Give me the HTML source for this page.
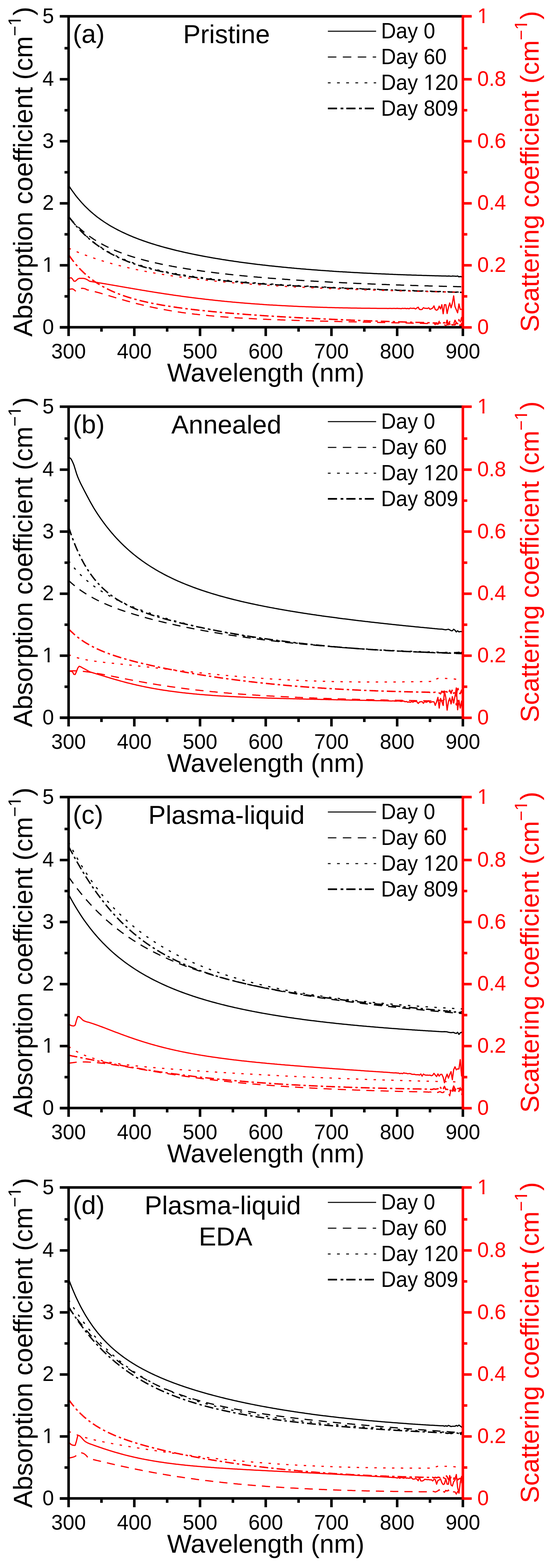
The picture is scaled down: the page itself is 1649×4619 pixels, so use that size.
<!DOCTYPE html>
<html><head><meta charset="utf-8"><title>Absorption and scattering coefficients</title>
<style>html,body{margin:0;padding:0;background:#fff;}svg{display:block;}</style></head>
<body><svg width="1649" height="4619" viewBox="0 0 1649 4619">
<rect width="1649" height="4619" fill="#fff"/>
<g transform="translate(0,0)">
<path d="M202.0,545.9 L205.9,551.9 L209.7,557.7 L213.6,563.2 L217.5,568.6 L221.3,573.8 L225.2,578.8 L229.1,583.6 L233.0,588.2 L236.8,592.7 L240.7,597.1 L244.6,601.3 L248.4,605.4 L252.3,609.3 L256.2,613.1 L260.1,616.8 L263.9,620.4 L267.8,623.9 L271.7,627.2 L275.5,630.5 L279.4,633.7 L283.3,636.8 L287.1,639.8 L291.0,642.7 L294.9,645.5 L298.8,648.3 L302.6,650.9 L306.5,653.6 L310.4,656.1 L314.2,658.6 L318.1,661.0 L322.0,663.4 L325.8,665.7 L329.7,667.9 L333.6,670.1 L337.4,672.2 L341.3,674.3 L345.2,676.4 L349.1,678.4 L352.9,680.3 L356.8,682.2 L360.7,684.1 L364.5,685.9 L368.4,687.7 L372.3,689.5 L376.1,691.2 L380.0,692.9 L383.9,694.6 L387.8,696.2 L391.6,697.8 L395.5,699.3 L399.4,700.9 L403.2,702.4 L407.1,703.8 L411.0,705.3 L414.9,706.7 L418.7,708.1 L422.6,709.5 L426.5,710.8 L430.3,712.2 L434.2,713.5 L438.1,714.8 L441.9,716.0 L445.8,717.3 L449.7,718.5 L453.6,719.7 L457.4,720.9 L461.3,722.1 L465.2,723.2 L469.0,724.3 L472.9,725.5 L476.8,726.6 L480.6,727.6 L484.5,728.7 L488.4,729.8 L492.2,730.8 L496.1,731.8 L500.0,732.8 L503.9,733.8 L507.7,734.8 L511.6,735.8 L515.5,736.7 L519.3,737.7 L523.2,738.6 L527.1,739.5 L531.0,740.4 L534.8,741.3 L538.7,742.2 L542.6,743.1 L546.4,744.0 L550.3,744.8 L554.2,745.6 L558.0,746.5 L561.9,747.3 L565.8,748.1 L569.6,748.9 L573.5,749.7 L577.4,750.5 L581.3,751.3 L585.1,752.0 L589.0,752.8 L592.9,753.5 L596.7,754.3 L600.6,755.0 L604.5,755.7 L608.4,756.4 L612.2,757.1 L616.1,757.8 L620.0,758.5 L623.8,759.2 L627.7,759.9 L631.6,760.5 L635.4,761.2 L639.3,761.8 L643.2,762.5 L647.0,763.1 L650.9,763.7 L654.8,764.4 L658.7,765.0 L662.5,765.6 L666.4,766.2 L670.3,766.8 L674.1,767.4 L678.0,767.9 L681.9,768.5 L685.8,769.1 L689.6,769.7 L693.5,770.2 L697.4,770.8 L701.2,771.3 L705.1,771.9 L709.0,772.4 L712.8,772.9 L716.7,773.4 L720.6,774.0 L724.5,774.5 L728.3,775.0 L732.2,775.5 L736.1,776.0 L739.9,776.5 L743.8,777.0 L747.7,777.4 L751.5,777.9 L755.4,778.4 L759.3,778.9 L763.1,779.3 L767.0,779.8 L770.9,780.2 L774.8,780.7 L778.6,781.1 L782.5,781.6 L786.4,782.0 L790.2,782.4 L794.1,782.9 L798.0,783.3 L801.9,783.7 L805.7,784.1 L809.6,784.5 L813.5,784.9 L817.3,785.3 L821.2,785.7 L825.1,786.1 L828.9,786.5 L832.8,786.9 L836.7,787.3 L840.5,787.6 L844.4,788.0 L848.3,788.4 L852.2,788.7 L856.0,789.1 L859.9,789.5 L863.8,789.8 L867.6,790.2 L871.5,790.5 L875.4,790.9 L879.2,791.2 L883.1,791.5 L887.0,791.9 L890.9,792.2 L894.7,792.5 L898.6,792.8 L902.5,793.2 L906.3,793.5 L910.2,793.8 L914.1,794.1 L918.0,794.4 L921.8,794.7 L925.7,795.0 L929.6,795.3 L933.4,795.6 L937.3,795.9 L941.2,796.2 L945.0,796.5 L948.9,796.7 L952.8,797.0 L956.6,797.3 L960.5,797.6 L964.4,797.8 L968.3,798.1 L972.1,798.4 L976.0,798.6 L979.9,798.9 L983.7,799.2 L987.6,799.4 L991.5,799.7 L995.4,799.9 L999.2,800.2 L1003.1,800.4 L1007.0,800.6 L1010.8,800.9 L1014.7,801.1 L1018.6,801.3 L1022.4,801.6 L1026.3,801.8 L1030.2,802.0 L1034.0,802.3 L1037.9,802.5 L1041.8,802.7 L1045.7,802.9 L1049.5,803.1 L1053.4,803.3 L1057.3,803.5 L1061.1,803.8 L1065.0,804.0 L1068.9,804.2 L1072.8,804.4 L1076.6,804.6 L1080.5,804.8 L1084.4,805.0 L1088.2,805.1 L1092.1,805.3 L1096.0,805.5 L1099.8,805.7 L1103.7,805.9 L1107.6,806.1 L1111.5,806.3 L1115.3,806.4 L1119.2,806.6 L1123.1,806.8 L1126.9,806.9 L1130.8,807.1 L1134.7,807.3 L1138.5,807.5 L1142.4,807.6 L1146.3,807.8 L1150.2,807.9 L1154.0,808.1 L1157.9,808.3 L1161.8,808.4 L1165.6,808.6 L1169.5,808.7 L1173.4,808.9 L1177.2,809.0 L1181.1,809.2 L1185.0,809.3 L1188.8,809.4 L1192.7,809.6 L1196.6,809.7 L1200.5,809.9 L1204.3,810.0 L1208.2,810.1 L1212.1,810.3 L1215.9,810.4 L1219.8,810.5 L1223.7,810.6 L1227.5,810.8 L1231.4,810.9 L1235.3,811.0 L1239.2,811.1 L1243.0,811.3 L1246.9,811.4 L1250.8,811.5 L1254.6,811.6 L1258.5,811.7 L1262.4,811.8 L1266.2,812.0 L1270.1,812.1 L1274.0,812.2 L1277.9,812.3 L1281.7,812.4 L1285.6,812.5 L1289.5,812.6 L1293.3,812.7 L1297.2,812.8 L1301.1,812.9 L1305.0,813.0 L1308.8,813.1 L1312.7,813.1 L1316.6,813.6 L1320.4,813.0 L1324.3,813.2 L1328.2,813.9 L1332.0,813.1 L1335.9,813.3 L1339.8,813.4 L1343.7,813.9 L1347.5,813.0 L1351.4,815.5 L1355.3,814.5 L1359.1,815.4 L1363.0,812.7" fill="none" stroke="#000" stroke-width="3.5" stroke-linejoin="round"/>
<path d="M202.0,637.8 L205.9,642.5 L209.7,647.0 L213.6,651.4 L217.5,655.6 L221.3,659.7 L225.2,663.6 L229.1,667.4 L233.0,671.1 L236.8,674.6 L240.7,678.0 L244.6,681.3 L248.4,684.5 L252.3,687.6 L256.2,690.7 L260.1,693.6 L263.9,696.4 L267.8,699.1 L271.7,701.8 L275.5,704.4 L279.4,706.9 L283.3,709.3 L287.1,711.6 L291.0,713.9 L294.9,716.2 L298.8,718.3 L302.6,720.4 L306.5,722.5 L310.4,724.5 L314.2,726.4 L318.1,728.3 L322.0,730.1 L325.8,731.9 L329.7,733.7 L333.6,735.4 L337.4,737.1 L341.3,738.7 L345.2,740.3 L349.1,741.8 L352.9,743.4 L356.8,744.8 L360.7,746.3 L364.5,747.7 L368.4,749.1 L372.3,750.4 L376.1,751.8 L380.0,753.1 L383.9,754.3 L387.8,755.6 L391.6,756.8 L395.5,758.0 L399.4,759.1 L403.2,760.3 L407.1,761.4 L411.0,762.5 L414.9,763.6 L418.7,764.6 L422.6,765.7 L426.5,766.7 L430.3,767.7 L434.2,768.7 L438.1,769.7 L441.9,770.6 L445.8,771.5 L449.7,772.5 L453.6,773.4 L457.4,774.2 L461.3,775.1 L465.2,776.0 L469.0,776.8 L472.9,777.7 L476.8,778.5 L480.6,779.3 L484.5,780.1 L488.4,780.8 L492.2,781.6 L496.1,782.4 L500.0,783.1 L503.9,783.8 L507.7,784.6 L511.6,785.3 L515.5,786.0 L519.3,786.7 L523.2,787.4 L527.1,788.0 L531.0,788.7 L534.8,789.3 L538.7,790.0 L542.6,790.6 L546.4,791.3 L550.3,791.9 L554.2,792.5 L558.0,793.1 L561.9,793.7 L565.8,794.3 L569.6,794.9 L573.5,795.4 L577.4,796.0 L581.3,796.6 L585.1,797.1 L589.0,797.6 L592.9,798.2 L596.7,798.7 L600.6,799.2 L604.5,799.8 L608.4,800.3 L612.2,800.8 L616.1,801.3 L620.0,801.8 L623.8,802.3 L627.7,802.8 L631.6,803.2 L635.4,803.7 L639.3,804.2 L643.2,804.6 L647.0,805.1 L650.9,805.5 L654.8,806.0 L658.7,806.4 L662.5,806.9 L666.4,807.3 L670.3,807.7 L674.1,808.2 L678.0,808.6 L681.9,809.0 L685.8,809.4 L689.6,809.8 L693.5,810.2 L697.4,810.6 L701.2,811.0 L705.1,811.4 L709.0,811.8 L712.8,812.2 L716.7,812.5 L720.6,812.9 L724.5,813.3 L728.3,813.7 L732.2,814.0 L736.1,814.4 L739.9,814.7 L743.8,815.1 L747.7,815.4 L751.5,815.8 L755.4,816.1 L759.3,816.5 L763.1,816.8 L767.0,817.1 L770.9,817.5 L774.8,817.8 L778.6,818.1 L782.5,818.4 L786.4,818.7 L790.2,819.0 L794.1,819.4 L798.0,819.7 L801.9,820.0 L805.7,820.3 L809.6,820.6 L813.5,820.9 L817.3,821.2 L821.2,821.5 L825.1,821.7 L828.9,822.0 L832.8,822.3 L836.7,822.6 L840.5,822.9 L844.4,823.1 L848.3,823.4 L852.2,823.7 L856.0,823.9 L859.9,824.2 L863.8,824.5 L867.6,824.7 L871.5,825.0 L875.4,825.3 L879.2,825.5 L883.1,825.8 L887.0,826.0 L890.9,826.3 L894.7,826.5 L898.6,826.7 L902.5,827.0 L906.3,827.2 L910.2,827.5 L914.1,827.7 L918.0,827.9 L921.8,828.1 L925.7,828.4 L929.6,828.6 L933.4,828.8 L937.3,829.0 L941.2,829.3 L945.0,829.5 L948.9,829.7 L952.8,829.9 L956.6,830.1 L960.5,830.3 L964.4,830.5 L968.3,830.7 L972.1,831.0 L976.0,831.2 L979.9,831.4 L983.7,831.6 L987.6,831.8 L991.5,832.0 L995.4,832.1 L999.2,832.3 L1003.1,832.5 L1007.0,832.7 L1010.8,832.9 L1014.7,833.1 L1018.6,833.3 L1022.4,833.5 L1026.3,833.6 L1030.2,833.8 L1034.0,834.0 L1037.9,834.2 L1041.8,834.4 L1045.7,834.5 L1049.5,834.7 L1053.4,834.9 L1057.3,835.0 L1061.1,835.2 L1065.0,835.4 L1068.9,835.5 L1072.8,835.7 L1076.6,835.9 L1080.5,836.0 L1084.4,836.2 L1088.2,836.3 L1092.1,836.5 L1096.0,836.7 L1099.8,836.8 L1103.7,837.0 L1107.6,837.1 L1111.5,837.3 L1115.3,837.4 L1119.2,837.6 L1123.1,837.7 L1126.9,837.9 L1130.8,838.0 L1134.7,838.1 L1138.5,838.3 L1142.4,838.4 L1146.3,838.6 L1150.2,838.7 L1154.0,838.8 L1157.9,839.0 L1161.8,839.1 L1165.6,839.2 L1169.5,839.4 L1173.4,839.5 L1177.2,839.6 L1181.1,839.8 L1185.0,839.9 L1188.8,840.0 L1192.7,840.2 L1196.6,840.3 L1200.5,840.4 L1204.3,840.5 L1208.2,840.6 L1212.1,840.8 L1215.9,840.9 L1219.8,841.0 L1223.7,841.1 L1227.5,841.2 L1231.4,841.4 L1235.3,841.5 L1239.2,841.6 L1243.0,841.7 L1246.9,841.8 L1250.8,841.9 L1254.6,842.0 L1258.5,842.1 L1262.4,842.3 L1266.2,842.4 L1270.1,842.5 L1274.0,842.6 L1277.9,842.7 L1281.7,842.8 L1285.6,842.9 L1289.5,843.0 L1293.3,843.1 L1297.2,843.2 L1301.1,843.3 L1305.0,843.4 L1308.8,843.5 L1312.7,843.6 L1316.6,843.7 L1320.4,843.8 L1324.3,843.9 L1328.2,844.0 L1332.0,844.1 L1335.9,844.1 L1339.8,844.2 L1343.7,844.3 L1347.5,844.4 L1351.4,844.5 L1355.3,844.6 L1359.1,844.7 L1363.0,844.8" fill="none" stroke="#000" stroke-width="3.5" stroke-linejoin="round" stroke-dasharray="24 18"/>
<path d="M202.0,637.6 L205.9,642.8 L209.7,647.8 L213.6,652.7 L217.5,657.4 L221.3,661.9 L225.2,666.3 L229.1,670.6 L233.0,674.8 L236.8,678.8 L240.7,682.7 L244.6,686.5 L248.4,690.2 L252.3,693.8 L256.2,697.2 L260.1,700.6 L263.9,703.9 L267.8,707.0 L271.7,710.1 L275.5,713.1 L279.4,716.0 L283.3,718.9 L287.1,721.6 L291.0,724.3 L294.9,726.9 L298.8,729.5 L302.6,731.9 L306.5,734.3 L310.4,736.7 L314.2,738.9 L318.1,741.2 L322.0,743.3 L325.8,745.4 L329.7,747.5 L333.6,749.5 L337.4,751.4 L341.3,753.3 L345.2,755.2 L349.1,757.0 L352.9,758.7 L356.8,760.4 L360.7,762.1 L364.5,763.7 L368.4,765.3 L372.3,766.9 L376.1,768.4 L380.0,769.9 L383.9,771.3 L387.8,772.8 L391.6,774.1 L395.5,775.5 L399.4,776.8 L403.2,778.1 L407.1,779.4 L411.0,780.6 L414.9,781.8 L418.7,783.0 L422.6,784.1 L426.5,785.2 L430.3,786.4 L434.2,787.4 L438.1,788.5 L441.9,789.5 L445.8,790.5 L449.7,791.5 L453.6,792.5 L457.4,793.4 L461.3,794.4 L465.2,795.3 L469.0,796.2 L472.9,797.1 L476.8,797.9 L480.6,798.8 L484.5,799.6 L488.4,800.4 L492.2,801.2 L496.1,802.0 L500.0,802.7 L503.9,803.5 L507.7,804.2 L511.6,804.9 L515.5,805.7 L519.3,806.3 L523.2,807.0 L527.1,807.7 L531.0,808.4 L534.8,809.0 L538.7,809.6 L542.6,810.3 L546.4,810.9 L550.3,811.5 L554.2,812.1 L558.0,812.7 L561.9,813.2 L565.8,813.8 L569.6,814.4 L573.5,814.9 L577.4,815.5 L581.3,816.0 L585.1,816.5 L589.0,817.0 L592.9,817.5 L596.7,818.0 L600.6,818.5 L604.5,819.0 L608.4,819.5 L612.2,819.9 L616.1,820.4 L620.0,820.8 L623.8,821.3 L627.7,821.7 L631.6,822.2 L635.4,822.6 L639.3,823.0 L643.2,823.4 L647.0,823.9 L650.9,824.3 L654.8,824.7 L658.7,825.1 L662.5,825.4 L666.4,825.8 L670.3,826.2 L674.1,826.6 L678.0,826.9 L681.9,827.3 L685.8,827.7 L689.6,828.0 L693.5,828.4 L697.4,828.7 L701.2,829.1 L705.1,829.4 L709.0,829.7 L712.8,830.1 L716.7,830.4 L720.6,830.7 L724.5,831.0 L728.3,831.4 L732.2,831.7 L736.1,832.0 L739.9,832.3 L743.8,832.6 L747.7,832.9 L751.5,833.2 L755.4,833.5 L759.3,833.8 L763.1,834.0 L767.0,834.3 L770.9,834.6 L774.8,834.9 L778.6,835.2 L782.5,835.4 L786.4,835.7 L790.2,836.0 L794.1,836.2 L798.0,836.5 L801.9,836.8 L805.7,837.0 L809.6,837.3 L813.5,837.5 L817.3,837.8 L821.2,838.0 L825.1,838.3 L828.9,838.5 L832.8,838.7 L836.7,839.0 L840.5,839.2 L844.4,839.4 L848.3,839.7 L852.2,839.9 L856.0,840.1 L859.9,840.4 L863.8,840.6 L867.6,840.8 L871.5,841.0 L875.4,841.3 L879.2,841.5 L883.1,841.7 L887.0,841.9 L890.9,842.1 L894.7,842.3 L898.6,842.5 L902.5,842.7 L906.3,842.9 L910.2,843.2 L914.1,843.4 L918.0,843.6 L921.8,843.8 L925.7,844.0 L929.6,844.2 L933.4,844.4 L937.3,844.5 L941.2,844.7 L945.0,844.9 L948.9,845.1 L952.8,845.3 L956.6,845.5 L960.5,845.7 L964.4,845.9 L968.3,846.1 L972.1,846.2 L976.0,846.4 L979.9,846.6 L983.7,846.8 L987.6,847.0 L991.5,847.1 L995.4,847.3 L999.2,847.5 L1003.1,847.7 L1007.0,847.8 L1010.8,848.0 L1014.7,848.2 L1018.6,848.4 L1022.4,848.5 L1026.3,848.7 L1030.2,848.9 L1034.0,849.0 L1037.9,849.2 L1041.8,849.4 L1045.7,849.5 L1049.5,849.7 L1053.4,849.9 L1057.3,850.0 L1061.1,850.2 L1065.0,850.3 L1068.9,850.5 L1072.8,850.7 L1076.6,850.8 L1080.5,851.0 L1084.4,851.1 L1088.2,851.3 L1092.1,851.4 L1096.0,851.6 L1099.8,851.7 L1103.7,851.9 L1107.6,852.0 L1111.5,852.2 L1115.3,852.3 L1119.2,852.5 L1123.1,852.6 L1126.9,852.8 L1130.8,852.9 L1134.7,853.1 L1138.5,853.2 L1142.4,853.4 L1146.3,853.5 L1150.2,853.7 L1154.0,853.8 L1157.9,853.9 L1161.8,854.1 L1165.6,854.2 L1169.5,854.4 L1173.4,854.5 L1177.2,854.7 L1181.1,854.8 L1185.0,854.9 L1188.8,855.1 L1192.7,855.2 L1196.6,855.3 L1200.5,855.5 L1204.3,855.6 L1208.2,855.7 L1212.1,855.9 L1215.9,856.0 L1219.8,856.1 L1223.7,856.3 L1227.5,856.4 L1231.4,856.5 L1235.3,856.7 L1239.2,856.8 L1243.0,856.9 L1246.9,857.1 L1250.8,857.2 L1254.6,857.3 L1258.5,857.5 L1262.4,857.6 L1266.2,857.7 L1270.1,857.8 L1274.0,858.0 L1277.9,858.1 L1281.7,858.2 L1285.6,858.3 L1289.5,858.5 L1293.3,858.6 L1297.2,858.7 L1301.1,858.8 L1305.0,859.0 L1308.8,859.1 L1312.7,859.2 L1316.6,859.3 L1320.4,859.4 L1324.3,859.6 L1328.2,859.7 L1332.0,859.8 L1335.9,859.9 L1339.8,860.0 L1343.7,860.2 L1347.5,860.3 L1351.4,860.4 L1355.3,860.5 L1359.1,860.6 L1363.0,860.8" fill="none" stroke="#000" stroke-width="3.5" stroke-linejoin="round" stroke-dasharray="7 19"/>
<path d="M202.0,637.5 L205.9,642.7 L209.7,647.8 L213.6,652.7 L217.5,657.5 L221.3,662.1 L225.2,666.6 L229.1,670.9 L233.0,675.1 L236.8,679.2 L240.7,683.2 L244.6,687.0 L248.4,690.8 L252.3,694.4 L256.2,697.9 L260.1,701.3 L263.9,704.7 L267.8,707.9 L271.7,711.0 L275.5,714.1 L279.4,717.0 L283.3,719.9 L287.1,722.7 L291.0,725.5 L294.9,728.1 L298.8,730.7 L302.6,733.2 L306.5,735.6 L310.4,738.0 L314.2,740.3 L318.1,742.6 L322.0,744.8 L325.8,746.9 L329.7,749.0 L333.6,751.0 L337.4,753.0 L341.3,754.9 L345.2,756.8 L349.1,758.6 L352.9,760.4 L356.8,762.2 L360.7,763.9 L364.5,765.5 L368.4,767.1 L372.3,768.7 L376.1,770.3 L380.0,771.8 L383.9,773.2 L387.8,774.7 L391.6,776.1 L395.5,777.4 L399.4,778.8 L403.2,780.1 L407.1,781.3 L411.0,782.6 L414.9,783.8 L418.7,785.0 L422.6,786.2 L426.5,787.3 L430.3,788.4 L434.2,789.5 L438.1,790.6 L441.9,791.6 L445.8,792.6 L449.7,793.6 L453.6,794.6 L457.4,795.5 L461.3,796.5 L465.2,797.4 L469.0,798.3 L472.9,799.2 L476.8,800.0 L480.6,800.9 L484.5,801.7 L488.4,802.5 L492.2,803.3 L496.1,804.1 L500.0,804.9 L503.9,805.6 L507.7,806.3 L511.6,807.1 L515.5,807.8 L519.3,808.5 L523.2,809.2 L527.1,809.8 L531.0,810.5 L534.8,811.1 L538.7,811.8 L542.6,812.4 L546.4,813.0 L550.3,813.6 L554.2,814.2 L558.0,814.8 L561.9,815.3 L565.8,815.9 L569.6,816.4 L573.5,817.0 L577.4,817.5 L581.3,818.0 L585.1,818.5 L589.0,819.1 L592.9,819.5 L596.7,820.0 L600.6,820.5 L604.5,821.0 L608.4,821.5 L612.2,821.9 L616.1,822.4 L620.0,822.8 L623.8,823.3 L627.7,823.7 L631.6,824.1 L635.4,824.5 L639.3,825.0 L643.2,825.4 L647.0,825.8 L650.9,826.2 L654.8,826.6 L658.7,826.9 L662.5,827.3 L666.4,827.7 L670.3,828.1 L674.1,828.4 L678.0,828.8 L681.9,829.1 L685.8,829.5 L689.6,829.8 L693.5,830.2 L697.4,830.5 L701.2,830.8 L705.1,831.2 L709.0,831.5 L712.8,831.8 L716.7,832.1 L720.6,832.4 L724.5,832.8 L728.3,833.1 L732.2,833.4 L736.1,833.7 L739.9,834.0 L743.8,834.3 L747.7,834.5 L751.5,834.8 L755.4,835.1 L759.3,835.4 L763.1,835.7 L767.0,835.9 L770.9,836.2 L774.8,836.5 L778.6,836.7 L782.5,837.0 L786.4,837.3 L790.2,837.5 L794.1,837.8 L798.0,838.0 L801.9,838.3 L805.7,838.5 L809.6,838.8 L813.5,839.0 L817.3,839.2 L821.2,839.5 L825.1,839.7 L828.9,839.9 L832.8,840.2 L836.7,840.4 L840.5,840.6 L844.4,840.9 L848.3,841.1 L852.2,841.3 L856.0,841.5 L859.9,841.7 L863.8,841.9 L867.6,842.2 L871.5,842.4 L875.4,842.6 L879.2,842.8 L883.1,843.0 L887.0,843.2 L890.9,843.4 L894.7,843.6 L898.6,843.8 L902.5,844.0 L906.3,844.2 L910.2,844.4 L914.1,844.6 L918.0,844.8 L921.8,845.0 L925.7,845.2 L929.6,845.4 L933.4,845.5 L937.3,845.7 L941.2,845.9 L945.0,846.1 L948.9,846.3 L952.8,846.5 L956.6,846.6 L960.5,846.8 L964.4,847.0 L968.3,847.2 L972.1,847.4 L976.0,847.5 L979.9,847.7 L983.7,847.9 L987.6,848.0 L991.5,848.2 L995.4,848.4 L999.2,848.6 L1003.1,848.7 L1007.0,848.9 L1010.8,849.1 L1014.7,849.2 L1018.6,849.4 L1022.4,849.5 L1026.3,849.7 L1030.2,849.9 L1034.0,850.0 L1037.9,850.2 L1041.8,850.3 L1045.7,850.5 L1049.5,850.7 L1053.4,850.8 L1057.3,851.0 L1061.1,851.1 L1065.0,851.3 L1068.9,851.4 L1072.8,851.6 L1076.6,851.7 L1080.5,851.9 L1084.4,852.0 L1088.2,852.2 L1092.1,852.3 L1096.0,852.5 L1099.8,852.6 L1103.7,852.8 L1107.6,852.9 L1111.5,853.1 L1115.3,853.2 L1119.2,853.3 L1123.1,853.5 L1126.9,853.6 L1130.8,853.8 L1134.7,853.9 L1138.5,854.1 L1142.4,854.2 L1146.3,854.3 L1150.2,854.5 L1154.0,854.6 L1157.9,854.7 L1161.8,854.9 L1165.6,855.0 L1169.5,855.2 L1173.4,855.3 L1177.2,855.4 L1181.1,855.6 L1185.0,855.7 L1188.8,855.8 L1192.7,856.0 L1196.6,856.1 L1200.5,856.2 L1204.3,856.4 L1208.2,856.5 L1212.1,856.6 L1215.9,856.7 L1219.8,856.9 L1223.7,857.0 L1227.5,857.1 L1231.4,857.3 L1235.3,857.4 L1239.2,857.5 L1243.0,857.6 L1246.9,857.8 L1250.8,857.9 L1254.6,858.0 L1258.5,858.1 L1262.4,858.3 L1266.2,858.4 L1270.1,858.5 L1274.0,858.6 L1277.9,858.8 L1281.7,858.9 L1285.6,859.0 L1289.5,859.1 L1293.3,859.2 L1297.2,859.4 L1301.1,859.5 L1305.0,859.6 L1308.8,859.7 L1312.7,859.8 L1316.6,860.0 L1320.4,860.1 L1324.3,860.2 L1328.2,860.3 L1332.0,860.4 L1335.9,860.5 L1339.8,860.7 L1343.7,860.8 L1347.5,860.9 L1351.4,861.0 L1355.3,861.1 L1359.1,861.2 L1363.0,861.4" fill="none" stroke="#000" stroke-width="4.1" stroke-linejoin="round" stroke-dasharray="26 9 7 9"/>
<path d="M202.0,821.9 L205.9,818.9 L209.7,818.2 L213.6,822.1 L217.5,828.0 L221.3,828.7 L225.2,825.6 L229.1,821.8 L233.0,820.0 L236.8,820.0 L240.7,820.0 L244.6,820.0 L248.4,820.5 L252.3,821.7 L256.2,823.6 L260.1,825.9 L263.9,828.6 L267.8,829.2 L271.7,829.8 L275.5,830.4 L279.4,831.1 L283.3,831.7 L287.1,832.3 L291.0,833.0 L294.9,833.6 L298.8,834.3 L302.6,834.9 L306.5,835.6 L310.4,836.2 L314.2,836.9 L318.1,837.6 L322.0,838.2 L325.8,838.9 L329.7,839.6 L333.6,840.2 L337.4,840.9 L341.3,841.6 L345.2,842.2 L349.1,842.9 L352.9,843.6 L356.8,844.3 L360.7,844.9 L364.5,845.6 L368.4,846.3 L372.3,846.9 L376.1,847.6 L380.0,848.3 L383.9,848.9 L387.8,849.6 L391.6,850.3 L395.5,850.9 L399.4,851.6 L403.2,852.2 L407.1,852.9 L411.0,853.6 L414.9,854.2 L418.7,854.9 L422.6,855.5 L426.5,856.1 L430.3,856.8 L434.2,857.4 L438.1,858.1 L441.9,858.7 L445.8,859.3 L449.7,859.9 L453.6,860.6 L457.4,861.2 L461.3,861.8 L465.2,862.4 L469.0,863.0 L472.9,863.6 L476.8,864.2 L480.6,864.8 L484.5,865.4 L488.4,866.0 L492.2,866.5 L496.1,867.1 L500.0,867.7 L503.9,868.3 L507.7,868.8 L511.6,869.4 L515.5,869.9 L519.3,870.5 L523.2,871.0 L527.1,871.6 L531.0,872.1 L534.8,872.7 L538.7,873.2 L542.6,873.7 L546.4,874.2 L550.3,874.7 L554.2,875.2 L558.0,875.8 L561.9,876.3 L565.8,876.8 L569.6,877.2 L573.5,877.7 L577.4,878.2 L581.3,878.7 L585.1,879.2 L589.0,879.6 L592.9,880.1 L596.7,880.6 L600.6,881.0 L604.5,881.5 L608.4,881.9 L612.2,882.3 L616.1,882.8 L620.0,883.2 L623.8,883.6 L627.7,884.1 L631.6,884.5 L635.4,884.9 L639.3,885.3 L643.2,885.7 L647.0,886.1 L650.9,886.5 L654.8,886.9 L658.7,887.3 L662.5,887.7 L666.4,888.0 L670.3,888.4 L674.1,888.8 L678.0,889.1 L681.9,889.5 L685.8,889.9 L689.6,890.2 L693.5,890.6 L697.4,890.9 L701.2,891.2 L705.1,891.6 L709.0,891.9 L712.8,892.2 L716.7,892.6 L720.6,892.9 L724.5,893.2 L728.3,893.5 L732.2,893.8 L736.1,894.1 L739.9,894.4 L743.8,894.7 L747.7,895.0 L751.5,895.3 L755.4,895.5 L759.3,895.8 L763.1,896.1 L767.0,896.4 L770.9,896.6 L774.8,896.9 L778.6,897.2 L782.5,897.4 L786.4,897.7 L790.2,897.9 L794.1,898.2 L798.0,898.4 L801.9,898.6 L805.7,898.9 L809.6,899.1 L813.5,899.3 L817.3,899.6 L821.2,899.8 L825.1,900.0 L828.9,900.2 L832.8,900.4 L836.7,900.6 L840.5,900.8 L844.4,901.0 L848.3,901.2 L852.2,901.4 L856.0,901.6 L859.9,901.8 L863.8,902.0 L867.6,902.2 L871.5,902.3 L875.4,902.5 L879.2,902.7 L883.1,902.9 L887.0,903.0 L890.9,903.2 L894.7,903.3 L898.6,903.5 L902.5,903.7 L906.3,903.8 L910.2,904.0 L914.1,904.1 L918.0,904.2 L921.8,904.4 L925.7,904.5 L929.6,904.7 L933.4,904.8 L937.3,904.9 L941.2,905.0 L945.0,905.2 L948.9,905.3 L952.8,905.4 L956.6,905.5 L960.5,905.6 L964.4,905.8 L968.3,905.9 L972.1,906.0 L976.0,906.1 L979.9,906.2 L983.7,906.3 L987.6,906.4 L991.5,906.5 L995.4,906.6 L999.2,906.7 L1003.1,906.7 L1007.0,906.8 L1010.8,906.9 L1014.7,907.0 L1018.6,907.1 L1022.4,907.1 L1026.3,907.2 L1030.2,907.3 L1034.0,907.4 L1037.9,907.4 L1041.8,907.5 L1045.7,907.6 L1049.5,907.6 L1053.4,907.7 L1057.3,907.7 L1061.1,907.8 L1065.0,907.9 L1068.9,907.9 L1072.8,908.0 L1076.6,908.0 L1080.5,908.1 L1084.4,908.1 L1088.2,908.1 L1092.1,908.2 L1096.0,908.2 L1099.8,908.3 L1103.7,908.3 L1107.6,908.3 L1111.5,908.4 L1115.3,908.4 L1119.2,908.4 L1123.1,908.4 L1126.9,908.5 L1130.8,908.5 L1134.7,908.5 L1138.5,908.6 L1142.4,908.7 L1146.3,908.4 L1150.2,908.4 L1154.0,908.7 L1157.9,908.4 L1161.8,908.5 L1165.6,908.8 L1169.5,908.2 L1173.4,908.8 L1177.2,908.8 L1181.1,909.2 L1185.0,908.3 L1188.8,908.7 L1192.7,908.2 L1196.6,909.2 L1200.5,908.5 L1204.3,909.6 L1208.2,907.6 L1212.1,908.4 L1215.9,908.2 L1219.8,908.0 L1223.7,910.2 L1227.5,907.3 L1231.4,904.9 L1235.3,911.6 L1239.2,912.0 L1243.0,911.4 L1246.9,906.3 L1250.8,908.3 L1254.6,908.2 L1258.5,908.7 L1262.4,906.7 L1266.2,911.2 L1270.1,909.6 L1274.0,907.5 L1277.9,901.1 L1281.7,911.8 L1285.6,913.9 L1289.5,911.5 L1293.3,901.9 L1297.2,909.9 L1301.1,897.6 L1305.0,924.3 L1308.8,897.4 L1312.7,897.5 L1316.6,923.6 L1320.4,906.1 L1324.3,892.5 L1328.2,906.7 L1332.0,893.5 L1335.9,871.6 L1339.8,903.3 L1343.7,912.5 L1347.5,921.5 L1351.4,895.3 L1355.3,911.5 L1359.1,911.2 L1363.0,909.8" fill="none" stroke="#ff0000" stroke-width="3.5" stroke-linejoin="round"/>
<path d="M202.0,853.7 L205.9,851.9 L209.7,851.2 L213.6,851.1 L217.5,853.0 L221.3,856.5 L225.2,858.4 L229.1,857.0 L233.0,853.8 L236.8,850.7 L240.7,849.3 L244.6,849.4 L248.4,850.1 L252.3,851.4 L256.2,853.7 L260.1,854.5 L263.9,855.3 L267.8,856.2 L271.7,857.2 L275.5,858.2 L279.4,859.2 L283.3,860.2 L287.1,861.3 L291.0,862.3 L294.9,863.4 L298.8,864.6 L302.6,865.7 L306.5,866.8 L310.4,868.0 L314.2,869.1 L318.1,870.3 L322.0,871.4 L325.8,872.6 L329.7,873.8 L333.6,874.9 L337.4,876.1 L341.3,877.2 L345.2,878.4 L349.1,879.5 L352.9,880.7 L356.8,881.8 L360.7,882.9 L364.5,884.0 L368.4,885.1 L372.3,886.2 L376.1,887.3 L380.0,888.3 L383.9,889.4 L387.8,890.4 L391.6,891.5 L395.5,892.5 L399.4,893.5 L403.2,894.5 L407.1,895.5 L411.0,896.4 L414.9,897.4 L418.7,898.3 L422.6,899.3 L426.5,900.2 L430.3,901.1 L434.2,902.0 L438.1,902.8 L441.9,903.7 L445.8,904.5 L449.7,905.4 L453.6,906.2 L457.4,907.0 L461.3,907.8 L465.2,908.5 L469.0,909.3 L472.9,910.0 L476.8,910.8 L480.6,911.5 L484.5,912.2 L488.4,912.9 L492.2,913.6 L496.1,914.3 L500.0,914.9 L503.9,915.6 L507.7,916.2 L511.6,916.8 L515.5,917.5 L519.3,918.1 L523.2,918.6 L527.1,919.2 L531.0,919.8 L534.8,920.4 L538.7,920.9 L542.6,921.4 L546.4,922.0 L550.3,922.5 L554.2,923.0 L558.0,923.5 L561.9,924.0 L565.8,924.4 L569.6,924.9 L573.5,925.4 L577.4,925.8 L581.3,926.3 L585.1,926.7 L589.0,927.1 L592.9,927.5 L596.7,927.9 L600.6,928.3 L604.5,928.7 L608.4,929.1 L612.2,929.5 L616.1,929.9 L620.0,930.2 L623.8,930.6 L627.7,930.9 L631.6,931.3 L635.4,931.6 L639.3,931.9 L643.2,932.3 L647.0,932.6 L650.9,932.9 L654.8,933.2 L658.7,933.5 L662.5,933.8 L666.4,934.1 L670.3,934.3 L674.1,934.6 L678.0,934.9 L681.9,935.2 L685.8,935.4 L689.6,935.7 L693.5,935.9 L697.4,936.2 L701.2,936.4 L705.1,936.7 L709.0,936.9 L712.8,937.1 L716.7,937.3 L720.6,937.6 L724.5,937.8 L728.3,938.0 L732.2,938.2 L736.1,938.4 L739.9,938.6 L743.8,938.8 L747.7,939.0 L751.5,939.2 L755.4,939.4 L759.3,939.6 L763.1,939.7 L767.0,939.9 L770.9,940.1 L774.8,940.3 L778.6,940.4 L782.5,940.6 L786.4,940.8 L790.2,940.9 L794.1,941.1 L798.0,941.2 L801.9,941.4 L805.7,941.5 L809.6,941.7 L813.5,941.8 L817.3,942.0 L821.2,942.1 L825.1,942.3 L828.9,942.4 L832.8,942.5 L836.7,942.7 L840.5,942.8 L844.4,942.9 L848.3,943.1 L852.2,943.2 L856.0,943.3 L859.9,943.4 L863.8,943.6 L867.6,943.7 L871.5,943.8 L875.4,943.9 L879.2,944.0 L883.1,944.2 L887.0,944.3 L890.9,944.4 L894.7,944.5 L898.6,944.6 L902.5,944.7 L906.3,944.8 L910.2,944.9 L914.1,945.0 L918.0,945.1 L921.8,945.2 L925.7,945.4 L929.6,945.5 L933.4,945.6 L937.3,945.7 L941.2,945.8 L945.0,945.9 L948.9,946.0 L952.8,946.0 L956.6,946.1 L960.5,946.2 L964.4,946.3 L968.3,946.4 L972.1,946.5 L976.0,946.6 L979.9,946.7 L983.7,946.8 L987.6,946.9 L991.5,947.0 L995.4,947.1 L999.2,947.2 L1003.1,947.3 L1007.0,947.4 L1010.8,947.4 L1014.7,947.5 L1018.6,947.6 L1022.4,947.7 L1026.3,947.8 L1030.2,947.9 L1034.0,948.0 L1037.9,948.1 L1041.8,948.1 L1045.7,948.2 L1049.5,948.3 L1053.4,948.4 L1057.3,948.5 L1061.1,948.6 L1065.0,948.7 L1068.9,948.8 L1072.8,948.8 L1076.6,948.9 L1080.5,949.0 L1084.4,949.1 L1088.2,949.2 L1092.1,949.3 L1096.0,949.3 L1099.8,949.4 L1103.7,949.5 L1107.6,949.6 L1111.5,949.7 L1115.3,949.8 L1119.2,949.9 L1123.1,949.9 L1126.9,950.0 L1130.8,950.1 L1134.7,950.2 L1138.5,950.3 L1142.4,950.4 L1146.3,950.4 L1150.2,950.5 L1154.0,950.6 L1157.9,950.7 L1161.8,950.8 L1165.6,950.9 L1169.5,951.0 L1173.4,951.0 L1177.2,951.1 L1181.1,951.2 L1185.0,951.3 L1188.8,951.4 L1192.7,951.5 L1196.6,951.6 L1200.5,951.6 L1204.3,951.7 L1208.2,951.8 L1212.1,951.9 L1215.9,952.0 L1219.8,952.1 L1223.7,952.2 L1227.5,952.3 L1231.4,952.3 L1235.3,952.4 L1239.2,952.5 L1243.0,952.6 L1246.9,952.7 L1250.8,952.8 L1254.6,952.9 L1258.5,952.9 L1262.4,953.4 L1266.2,953.0 L1270.1,953.5 L1274.0,953.6 L1277.9,953.6 L1281.7,956.0 L1285.6,953.9 L1289.5,955.3 L1293.3,946.4 L1297.2,953.3 L1301.1,955.0 L1305.0,955.0 L1308.8,956.7 L1312.7,958.7 L1316.6,956.1 L1320.4,952.0 L1324.3,955.8 L1328.2,948.8 L1332.0,956.0 L1335.9,954.6 L1339.8,943.2 L1343.7,950.5 L1347.5,959.4 L1351.4,956.8 L1355.3,950.0 L1359.1,935.3 L1363.0,958.4" fill="none" stroke="#ff0000" stroke-width="3.5" stroke-linejoin="round" stroke-dasharray="24 18"/>
<path d="M202.0,731.1 L205.9,732.8 L209.7,734.5 L213.6,736.2 L217.5,737.9 L221.3,739.5 L225.2,741.2 L229.1,742.8 L233.0,744.3 L236.8,745.9 L240.7,747.4 L244.6,748.9 L248.4,750.4 L252.3,751.8 L256.2,753.2 L260.1,754.6 L263.9,756.0 L267.8,757.4 L271.7,758.7 L275.5,760.1 L279.4,761.4 L283.3,762.7 L287.1,763.9 L291.0,765.2 L294.9,766.4 L298.8,767.6 L302.6,768.8 L306.5,770.0 L310.4,771.1 L314.2,772.3 L318.1,773.4 L322.0,774.5 L325.8,775.6 L329.7,776.7 L333.6,777.7 L337.4,778.8 L341.3,779.8 L345.2,780.8 L349.1,781.8 L352.9,782.8 L356.8,783.8 L360.7,784.7 L364.5,785.7 L368.4,786.6 L372.3,787.5 L376.1,788.4 L380.0,789.3 L383.9,790.2 L387.8,791.1 L391.6,791.9 L395.5,792.7 L399.4,793.6 L403.2,794.4 L407.1,795.2 L411.0,796.0 L414.9,796.8 L418.7,797.6 L422.6,798.3 L426.5,799.1 L430.3,799.8 L434.2,800.6 L438.1,801.3 L441.9,802.0 L445.8,802.7 L449.7,803.4 L453.6,804.1 L457.4,804.8 L461.3,805.4 L465.2,806.1 L469.0,806.7 L472.9,807.4 L476.8,808.0 L480.6,808.6 L484.5,809.3 L488.4,809.9 L492.2,810.5 L496.1,811.1 L500.0,811.7 L503.9,812.2 L507.7,812.8 L511.6,813.4 L515.5,813.9 L519.3,814.5 L523.2,815.0 L527.1,815.6 L531.0,816.1 L534.8,816.6 L538.7,817.1 L542.6,817.6 L546.4,818.2 L550.3,818.7 L554.2,819.1 L558.0,819.6 L561.9,820.1 L565.8,820.6 L569.6,821.1 L573.5,821.5 L577.4,822.0 L581.3,822.4 L585.1,822.9 L589.0,823.3 L592.9,823.8 L596.7,824.2 L600.6,824.6 L604.5,825.0 L608.4,825.5 L612.2,825.9 L616.1,826.3 L620.0,826.7 L623.8,827.1 L627.7,827.5 L631.6,827.9 L635.4,828.2 L639.3,828.6 L643.2,829.0 L647.0,829.4 L650.9,829.7 L654.8,830.1 L658.7,830.5 L662.5,830.8 L666.4,831.2 L670.3,831.5 L674.1,831.9 L678.0,832.2 L681.9,832.5 L685.8,832.9 L689.6,833.2 L693.5,833.5 L697.4,833.8 L701.2,834.2 L705.1,834.5 L709.0,834.8 L712.8,835.1 L716.7,835.4 L720.6,835.7 L724.5,836.0 L728.3,836.3 L732.2,836.6 L736.1,836.9 L739.9,837.2 L743.8,837.4 L747.7,837.7 L751.5,838.0 L755.4,838.3 L759.3,838.6 L763.1,838.8 L767.0,839.1 L770.9,839.4 L774.8,839.6 L778.6,839.9 L782.5,840.1 L786.4,840.4 L790.2,840.6 L794.1,840.9 L798.0,841.1 L801.9,841.4 L805.7,841.6 L809.6,841.8 L813.5,842.1 L817.3,842.3 L821.2,842.5 L825.1,842.8 L828.9,843.0 L832.8,843.2 L836.7,843.4 L840.5,843.7 L844.4,843.9 L848.3,844.1 L852.2,844.3 L856.0,844.5 L859.9,844.7 L863.8,844.9 L867.6,845.2 L871.5,845.4 L875.4,845.6 L879.2,845.8 L883.1,846.0 L887.0,846.2 L890.9,846.3 L894.7,846.5 L898.6,846.7 L902.5,846.9 L906.3,847.1 L910.2,847.3 L914.1,847.5 L918.0,847.7 L921.8,847.8 L925.7,848.0 L929.6,848.2 L933.4,848.4 L937.3,848.5 L941.2,848.7 L945.0,848.9 L948.9,849.1 L952.8,849.2 L956.6,849.4 L960.5,849.6 L964.4,849.7 L968.3,849.9 L972.1,850.0 L976.0,850.2 L979.9,850.4 L983.7,850.5 L987.6,850.7 L991.5,850.8 L995.4,851.0 L999.2,851.1 L1003.1,851.3 L1007.0,851.4 L1010.8,851.6 L1014.7,851.7 L1018.6,851.9 L1022.4,852.0 L1026.3,852.2 L1030.2,852.3 L1034.0,852.4 L1037.9,852.6 L1041.8,852.7 L1045.7,852.8 L1049.5,853.0 L1053.4,853.1 L1057.3,853.2 L1061.1,853.4 L1065.0,853.5 L1068.9,853.6 L1072.8,853.8 L1076.6,853.9 L1080.5,854.0 L1084.4,854.1 L1088.2,854.3 L1092.1,854.4 L1096.0,854.5 L1099.8,854.6 L1103.7,854.8 L1107.6,854.9 L1111.5,855.0 L1115.3,855.1 L1119.2,855.2 L1123.1,855.3 L1126.9,855.5 L1130.8,855.6 L1134.7,855.7 L1138.5,855.8 L1142.4,855.9 L1146.3,856.0 L1150.2,856.1 L1154.0,856.2 L1157.9,856.3 L1161.8,856.5 L1165.6,856.6 L1169.5,856.7 L1173.4,856.8 L1177.2,856.9 L1181.1,857.0 L1185.0,857.1 L1188.8,857.2 L1192.7,857.3 L1196.6,857.4 L1200.5,857.5 L1204.3,857.6 L1208.2,857.7 L1212.1,857.8 L1215.9,857.9 L1219.8,858.0 L1223.7,858.1 L1227.5,858.2 L1231.4,858.2 L1235.3,858.3 L1239.2,858.4 L1243.0,858.5 L1246.9,858.6 L1250.8,858.7 L1254.6,858.8 L1258.5,858.9 L1262.4,859.0 L1266.2,859.1 L1270.1,859.1 L1274.0,859.2 L1277.9,859.3 L1281.7,859.4 L1285.6,859.5 L1289.5,859.6 L1293.3,859.6 L1297.2,859.7 L1301.1,859.8 L1305.0,859.9 L1308.8,860.0 L1312.7,860.0 L1316.6,860.1 L1320.4,860.2 L1324.3,860.3 L1328.2,860.4 L1332.0,860.4 L1335.9,860.5 L1339.8,860.6 L1343.7,860.7 L1347.5,860.7 L1351.4,860.8 L1355.3,860.9 L1359.1,861.0 L1363.0,861.0" fill="none" stroke="#ff0000" stroke-width="3.5" stroke-linejoin="round" stroke-dasharray="7 19"/>
<path d="M202.0,750.3 L205.9,755.9 L209.7,761.3 L213.6,766.5 L217.5,771.5 L221.3,776.2 L225.2,780.8 L229.1,785.2 L233.0,789.5 L236.8,793.6 L240.7,797.5 L244.6,801.3 L248.4,804.9 L252.3,808.4 L256.2,811.8 L260.1,815.0 L263.9,818.1 L267.8,821.1 L271.7,824.1 L275.5,826.9 L279.4,829.6 L283.3,832.2 L287.1,834.7 L291.0,837.2 L294.9,839.5 L298.8,841.8 L302.6,844.0 L306.5,846.1 L310.4,848.2 L314.2,850.2 L318.1,852.1 L322.0,854.0 L325.8,855.8 L329.7,857.6 L333.6,859.3 L337.4,861.0 L341.3,862.6 L345.2,864.1 L349.1,865.7 L352.9,867.1 L356.8,868.6 L360.7,869.9 L364.5,871.3 L368.4,872.6 L372.3,873.9 L376.1,875.1 L380.0,876.3 L383.9,877.5 L387.8,878.7 L391.6,879.8 L395.5,880.9 L399.4,881.9 L403.2,883.0 L407.1,884.0 L411.0,885.0 L414.9,885.9 L418.7,886.9 L422.6,887.8 L426.5,888.7 L430.3,889.6 L434.2,890.4 L438.1,891.3 L441.9,892.1 L445.8,892.9 L449.7,893.7 L453.6,894.4 L457.4,895.2 L461.3,895.9 L465.2,896.6 L469.0,897.3 L472.9,898.0 L476.8,898.7 L480.6,899.4 L484.5,900.0 L488.4,900.7 L492.2,901.3 L496.1,901.9 L500.0,902.5 L503.9,903.1 L507.7,903.7 L511.6,904.3 L515.5,904.9 L519.3,905.4 L523.2,906.0 L527.1,906.5 L531.0,907.0 L534.8,907.6 L538.7,908.1 L542.6,908.6 L546.4,909.1 L550.3,909.6 L554.2,910.1 L558.0,910.5 L561.9,911.0 L565.8,911.5 L569.6,911.9 L573.5,912.4 L577.4,912.8 L581.3,913.2 L585.1,913.7 L589.0,914.1 L592.9,914.5 L596.7,914.9 L600.6,915.3 L604.5,915.7 L608.4,916.1 L612.2,916.5 L616.1,916.9 L620.0,917.3 L623.8,917.7 L627.7,918.1 L631.6,918.4 L635.4,918.8 L639.3,919.2 L643.2,919.5 L647.0,919.9 L650.9,920.2 L654.8,920.6 L658.7,920.9 L662.5,921.2 L666.4,921.6 L670.3,921.9 L674.1,922.2 L678.0,922.6 L681.9,922.9 L685.8,923.2 L689.6,923.5 L693.5,923.8 L697.4,924.1 L701.2,924.4 L705.1,924.7 L709.0,925.0 L712.8,925.3 L716.7,925.6 L720.6,925.9 L724.5,926.2 L728.3,926.5 L732.2,926.8 L736.1,927.0 L739.9,927.3 L743.8,927.6 L747.7,927.9 L751.5,928.1 L755.4,928.4 L759.3,928.7 L763.1,928.9 L767.0,929.2 L770.9,929.5 L774.8,929.7 L778.6,930.0 L782.5,930.2 L786.4,930.5 L790.2,930.7 L794.1,931.0 L798.0,931.2 L801.9,931.4 L805.7,931.7 L809.6,931.9 L813.5,932.2 L817.3,932.4 L821.2,932.6 L825.1,932.9 L828.9,933.1 L832.8,933.3 L836.7,933.5 L840.5,933.8 L844.4,934.0 L848.3,934.2 L852.2,934.4 L856.0,934.6 L859.9,934.8 L863.8,935.1 L867.6,935.3 L871.5,935.5 L875.4,935.7 L879.2,935.9 L883.1,936.1 L887.0,936.3 L890.9,936.5 L894.7,936.7 L898.6,936.9 L902.5,937.1 L906.3,937.3 L910.2,937.5 L914.1,937.7 L918.0,937.9 L921.8,938.1 L925.7,938.3 L929.6,938.4 L933.4,938.6 L937.3,938.8 L941.2,939.0 L945.0,939.2 L948.9,939.4 L952.8,939.5 L956.6,939.7 L960.5,939.9 L964.4,940.1 L968.3,940.3 L972.1,940.4 L976.0,940.6 L979.9,940.8 L983.7,940.9 L987.6,941.1 L991.5,941.3 L995.4,941.4 L999.2,941.6 L1003.1,941.8 L1007.0,941.9 L1010.8,942.1 L1014.7,942.3 L1018.6,942.4 L1022.4,942.6 L1026.3,942.7 L1030.2,942.9 L1034.0,943.1 L1037.9,943.2 L1041.8,943.4 L1045.7,943.5 L1049.5,943.7 L1053.4,943.8 L1057.3,944.0 L1061.1,944.1 L1065.0,944.3 L1068.9,944.4 L1072.8,944.6 L1076.6,944.7 L1080.5,944.8 L1084.4,945.0 L1088.2,945.1 L1092.1,945.3 L1096.0,945.4 L1099.8,945.6 L1103.7,945.7 L1107.6,945.8 L1111.5,946.0 L1115.3,946.1 L1119.2,946.2 L1123.1,946.4 L1126.9,946.5 L1130.8,946.6 L1134.7,946.8 L1138.5,946.9 L1142.4,947.0 L1146.3,947.2 L1150.2,947.3 L1154.0,947.4 L1157.9,947.5 L1161.8,947.7 L1165.6,947.8 L1169.5,947.9 L1173.4,948.0 L1177.2,948.2 L1181.1,948.3 L1185.0,948.4 L1188.8,948.5 L1192.7,948.6 L1196.6,948.8 L1200.5,948.9 L1204.3,949.0 L1208.2,949.1 L1212.1,949.2 L1215.9,949.3 L1219.8,949.5 L1223.7,949.6 L1227.5,949.7 L1231.4,949.8 L1235.3,949.9 L1239.2,950.0 L1243.0,950.1 L1246.9,950.2 L1250.8,950.3 L1254.6,950.5 L1258.5,950.6 L1262.4,950.7 L1266.2,950.4 L1270.1,950.6 L1274.0,952.0 L1277.9,951.1 L1281.7,951.8 L1285.6,951.1 L1289.5,953.9 L1293.3,951.0 L1297.2,951.1 L1301.1,947.8 L1305.0,950.9 L1308.8,950.3 L1312.7,957.2 L1316.6,943.4 L1320.4,960.3 L1324.3,947.2 L1328.2,954.0 L1332.0,957.3 L1335.9,956.4 L1339.8,956.9 L1343.7,950.2 L1347.5,953.6 L1351.4,941.6 L1355.3,964.0 L1359.1,953.2 L1363.0,961.4" fill="none" stroke="#ff0000" stroke-width="4.1" stroke-linejoin="round" stroke-dasharray="26 9 7 9"/>
<path d="M176,48.0 H1363.0 M176,964.0 H1363.0 M202.0,44.25 V990.0 M176,964.4 H202.0 M176,781.6 H202.0 M176,598.9 H202.0 M176,416.1 H202.0 M176,233.4 H202.0 M176,48.0 H202.0 M190,873.0 H202.0 M190,690.3 H202.0 M190,507.5 H202.0 M190,324.8 H202.0 M190,142.0 H202.0 M202.0,964.0 V990.0 M395.5,964.0 V990.0 M589.0,964.0 V990.0 M782.5,964.0 V990.0 M976.0,964.0 V990.0 M1169.5,964.0 V990.0 M1363.0,964.0 V990.0 M298.8,964.0 V977.0 M492.2,964.0 V977.0 M685.8,964.0 V977.0 M879.2,964.0 V977.0 M1072.8,964.0 V977.0 M1266.2,964.0 V977.0" fill="none" stroke="#000" stroke-width="7.5"/>
<path d="M1363.0,44.25 V967.75 M1363.0,964.4 H1389 M1363.0,781.6 H1389 M1363.0,598.9 H1389 M1363.0,416.1 H1389 M1363.0,233.4 H1389 M1363.0,48.0 H1389 M1363.0,873.0 H1376 M1363.0,690.3 H1376 M1363.0,507.5 H1376 M1363.0,324.8 H1376 M1363.0,142.0 H1376" fill="none" stroke="#ff0000" stroke-width="7.5"/>
<g font-family="Liberation Sans, Arial, sans-serif" font-size="61" fill="#000"><text transform="translate(159,983.9) scale(1,1.04)" text-anchor="end">0</text><text transform="translate(159,801.1) scale(1,1.04)" text-anchor="end">1</text><g transform="translate(159,801.1)"><rect x="-30.89" y="-5.49" width="12.08" height="6.99" fill="#fff"/><rect x="-13.08" y="-5.49" width="12.20" height="6.99" fill="#fff"/></g><text transform="translate(159,618.4) scale(1,1.04)" text-anchor="end">2</text><text transform="translate(159,435.6) scale(1,1.04)" text-anchor="end">3</text><text transform="translate(159,252.9) scale(1,1.04)" text-anchor="end">4</text><text transform="translate(159,67.5) scale(1,1.04)" text-anchor="end">5</text><text transform="translate(202.0,1056) scale(1,1.04)" text-anchor="middle">300</text><text transform="translate(395.5,1056) scale(1,1.04)" text-anchor="middle">400</text><text transform="translate(589.0,1056) scale(1,1.04)" text-anchor="middle">500</text><text transform="translate(782.5,1056) scale(1,1.04)" text-anchor="middle">600</text><text transform="translate(976.0,1056) scale(1,1.04)" text-anchor="middle">700</text><text transform="translate(1169.5,1056) scale(1,1.04)" text-anchor="middle">800</text><text transform="translate(1363.0,1056) scale(1,1.04)" text-anchor="middle">900</text></g>
<g font-family="Liberation Sans, Arial, sans-serif" font-size="61" fill="#ff0000"><text transform="translate(1405.5,983.9) scale(1,1.04)">0</text><text transform="translate(1405.5,801.1) scale(1,1.04)">0.2</text><text transform="translate(1405.5,618.4) scale(1,1.04)">0.4</text><text transform="translate(1405.5,435.6) scale(1,1.04)">0.6</text><text transform="translate(1405.5,252.9) scale(1,1.04)">0.8</text><text transform="translate(1405.5,67.5) scale(1,1.04)">1</text><rect x="1408.55" y="62.01" width="12.08" height="6.99" fill="#fff"/><rect x="1426.36" y="62.01" width="12.20" height="6.99" fill="#fff"/></g>
<text font-family="Liberation Sans, Arial, sans-serif" font-size="76.7" x="782.5" y="1123.5" text-anchor="middle">Wavelength (nm)</text>
<g transform="translate(95,992) rotate(-90)" font-family="Liberation Sans, Arial, sans-serif" fill="#000"><text font-size="77.1" x="0" y="0">Absorption coefficient (cm</text><text font-size="52" x="885.56" y="-34">−1</text><text font-size="77.1" x="946.36" y="0">)</text><rect x="918.53" y="-38.68" width="10.30" height="6.18" fill="#fff"/><rect x="933.72" y="-38.68" width="10.40" height="6.18" fill="#fff"/></g>
<g transform="translate(1586,978) rotate(-90)" font-family="Liberation Sans, Arial, sans-serif" fill="#ff0000"><text font-size="76.7" x="0" y="0">Scattering coefficient (cm</text><text font-size="52" x="859.56" y="-34">−1</text><text font-size="76.7" x="920.36" y="0">)</text><rect x="892.53" y="-38.68" width="10.30" height="6.18" fill="#fff"/><rect x="907.72" y="-38.68" width="10.40" height="6.18" fill="#fff"/></g>
<text font-family="Liberation Sans, Arial, sans-serif" font-size="76.7" x="214.5" y="125.5">(a)</text>
<text font-family="Liberation Sans, Arial, sans-serif" font-size="76.7" x="667" y="126.5" text-anchor="middle">Pristine</text>
<path d="M965.5,92 H1107.5" stroke="#000" stroke-width="3.2" fill="none"/>
<text font-family="Liberation Sans, Arial, sans-serif" font-size="61" transform="translate(1122,113.2) scale(1,1.06)">Day 0</text>
<path d="M965.5,168 H1107.5" stroke="#000" stroke-width="3.2" fill="none" stroke-dasharray="25 19"/>
<text font-family="Liberation Sans, Arial, sans-serif" font-size="61" transform="translate(1122,189.2) scale(1,1.06)">Day 60</text>
<path d="M965.5,244 H1107.5" stroke="#000" stroke-width="3.2" fill="none" stroke-dasharray="8 19"/>
<text font-family="Liberation Sans, Arial, sans-serif" font-size="61" transform="translate(1122,265.2) scale(1,1.06)">Day 120</text>
<g transform="translate(0,265.2) scale(1,1.06)"><rect x="1250.50" y="-5.49" width="12.08" height="6.99" fill="#fff"/><rect x="1268.31" y="-5.49" width="12.20" height="6.99" fill="#fff"/></g>
<path d="M965.5,319.5 H1107.5" stroke="#000" stroke-width="4.8" fill="none" stroke-dasharray="27 10.5 8 8.8"/>
<text font-family="Liberation Sans, Arial, sans-serif" font-size="61" transform="translate(1122,340.7) scale(1,1.06)">Day 809</text>
</g>
<g transform="translate(0,1150)">
<path d="M202.0,202.3 L205.9,198.7 L209.7,202.4 L213.6,210.4 L217.5,219.5 L221.3,231.7 L225.2,244.6 L229.1,255.4 L233.0,264.4 L236.8,272.7 L240.7,280.5 L244.6,288.0 L248.4,295.5 L252.3,302.9 L256.2,310.4 L260.1,317.6 L263.9,324.8 L267.8,331.8 L271.7,338.6 L275.5,345.3 L279.4,351.7 L283.3,357.9 L287.1,363.8 L291.0,369.5 L294.9,375.2 L298.8,380.7 L302.6,386.1 L306.5,391.4 L310.4,396.5 L314.2,401.5 L318.1,406.4 L322.0,411.2 L325.8,415.9 L329.7,420.5 L333.6,424.9 L337.4,429.3 L341.3,433.6 L345.2,437.7 L349.1,441.8 L352.9,445.8 L356.8,449.7 L360.7,453.5 L364.5,457.3 L368.4,460.9 L372.3,464.5 L376.1,468.0 L380.0,471.5 L383.9,474.8 L387.8,478.1 L391.6,481.4 L395.5,484.5 L399.4,487.6 L403.2,490.6 L407.1,493.6 L411.0,496.5 L414.9,499.4 L418.7,502.2 L422.6,504.9 L426.5,507.6 L430.3,510.3 L434.2,512.9 L438.1,515.4 L441.9,517.9 L445.8,520.4 L449.7,522.8 L453.6,525.1 L457.4,527.5 L461.3,529.7 L465.2,532.0 L469.0,534.2 L472.9,536.3 L476.8,538.4 L480.6,540.5 L484.5,542.6 L488.4,544.6 L492.2,546.6 L496.1,548.5 L500.0,550.4 L503.9,552.3 L507.7,554.2 L511.6,556.0 L515.5,557.8 L519.3,559.5 L523.2,561.3 L527.1,563.0 L531.0,564.6 L534.8,566.3 L538.7,567.9 L542.6,569.5 L546.4,571.1 L550.3,572.7 L554.2,574.2 L558.0,575.7 L561.9,577.2 L565.8,578.7 L569.6,580.1 L573.5,581.5 L577.4,582.9 L581.3,584.3 L585.1,585.7 L589.0,587.0 L592.9,588.3 L596.7,589.7 L600.6,590.9 L604.5,592.2 L608.4,593.5 L612.2,594.7 L616.1,595.9 L620.0,597.1 L623.8,598.3 L627.7,599.5 L631.6,600.7 L635.4,601.8 L639.3,602.9 L643.2,604.1 L647.0,605.2 L650.9,606.3 L654.8,607.3 L658.7,608.4 L662.5,609.4 L666.4,610.5 L670.3,611.5 L674.1,612.5 L678.0,613.5 L681.9,614.5 L685.8,615.5 L689.6,616.5 L693.5,617.4 L697.4,618.4 L701.2,619.3 L705.1,620.2 L709.0,621.2 L712.8,622.1 L716.7,623.0 L720.6,623.9 L724.5,624.7 L728.3,625.6 L732.2,626.5 L736.1,627.3 L739.9,628.2 L743.8,629.0 L747.7,629.8 L751.5,630.6 L755.4,631.5 L759.3,632.3 L763.1,633.1 L767.0,633.8 L770.9,634.6 L774.8,635.4 L778.6,636.2 L782.5,636.9 L786.4,637.7 L790.2,638.4 L794.1,639.2 L798.0,639.9 L801.9,640.6 L805.7,641.3 L809.6,642.1 L813.5,642.8 L817.3,643.5 L821.2,644.2 L825.1,644.9 L828.9,645.5 L832.8,646.2 L836.7,646.9 L840.5,647.6 L844.4,648.2 L848.3,648.9 L852.2,649.5 L856.0,650.2 L859.9,650.8 L863.8,651.5 L867.6,652.1 L871.5,652.7 L875.4,653.3 L879.2,654.0 L883.1,654.6 L887.0,655.2 L890.9,655.8 L894.7,656.4 L898.6,657.0 L902.5,657.6 L906.3,658.2 L910.2,658.7 L914.1,659.3 L918.0,659.9 L921.8,660.5 L925.7,661.0 L929.6,661.6 L933.4,662.2 L937.3,662.7 L941.2,663.3 L945.0,663.8 L948.9,664.4 L952.8,664.9 L956.6,665.4 L960.5,666.0 L964.4,666.5 L968.3,667.0 L972.1,667.6 L976.0,668.1 L979.9,668.6 L983.7,669.1 L987.6,669.6 L991.5,670.1 L995.4,670.7 L999.2,671.2 L1003.1,671.7 L1007.0,672.2 L1010.8,672.7 L1014.7,673.1 L1018.6,673.6 L1022.4,674.1 L1026.3,674.6 L1030.2,675.1 L1034.0,675.6 L1037.9,676.0 L1041.8,676.5 L1045.7,677.0 L1049.5,677.5 L1053.4,677.9 L1057.3,678.4 L1061.1,678.8 L1065.0,679.3 L1068.9,679.8 L1072.8,680.2 L1076.6,680.7 L1080.5,681.1 L1084.4,681.6 L1088.2,682.0 L1092.1,682.5 L1096.0,682.9 L1099.8,683.3 L1103.7,683.8 L1107.6,684.2 L1111.5,684.6 L1115.3,685.1 L1119.2,685.5 L1123.1,685.9 L1126.9,686.3 L1130.8,686.8 L1134.7,687.2 L1138.5,687.6 L1142.4,688.0 L1146.3,688.4 L1150.2,688.8 L1154.0,689.3 L1157.9,689.7 L1161.8,690.1 L1165.6,690.5 L1169.5,690.9 L1173.4,691.3 L1177.2,691.7 L1181.1,692.1 L1185.0,692.5 L1188.8,692.9 L1192.7,693.3 L1196.6,693.7 L1200.5,694.0 L1204.3,694.4 L1208.2,694.8 L1212.1,695.2 L1215.9,695.6 L1219.8,696.0 L1223.7,696.4 L1227.5,696.7 L1231.4,697.1 L1235.3,697.5 L1239.2,697.9 L1243.0,698.2 L1246.9,698.6 L1250.8,699.0 L1254.6,699.3 L1258.5,699.7 L1262.4,700.1 L1266.2,700.4 L1270.1,700.8 L1274.0,701.2 L1277.9,701.5 L1281.7,701.9 L1285.6,702.2 L1289.5,702.7 L1293.3,703.0 L1297.2,703.2 L1301.1,703.3 L1305.0,704.0 L1308.8,704.7 L1312.7,705.3 L1316.6,704.4 L1320.4,703.6 L1324.3,705.4 L1328.2,707.9 L1332.0,708.1 L1335.9,703.7 L1339.8,706.7 L1343.7,711.6 L1347.5,708.0 L1351.4,711.5 L1355.3,710.4 L1359.1,710.4 L1363.0,711.7" fill="none" stroke="#000" stroke-width="3.5" stroke-linejoin="round"/>
<path d="M202.0,559.9 L205.9,563.5 L209.7,567.0 L213.6,570.4 L217.5,573.7 L221.3,576.8 L225.2,579.9 L229.1,582.8 L233.0,585.7 L236.8,588.5 L240.7,591.2 L244.6,593.8 L248.4,596.3 L252.3,598.8 L256.2,601.2 L260.1,603.5 L263.9,605.7 L267.8,607.9 L271.7,610.1 L275.5,612.2 L279.4,614.2 L283.3,616.2 L287.1,618.2 L291.0,620.1 L294.9,621.9 L298.8,623.8 L302.6,625.5 L306.5,627.3 L310.4,629.0 L314.2,630.6 L318.1,632.3 L322.0,633.9 L325.8,635.5 L329.7,637.0 L333.6,638.5 L337.4,640.0 L341.3,641.5 L345.2,642.9 L349.1,644.4 L352.9,645.8 L356.8,647.1 L360.7,648.5 L364.5,649.8 L368.4,651.1 L372.3,652.4 L376.1,653.7 L380.0,655.0 L383.9,656.2 L387.8,657.4 L391.6,658.6 L395.5,659.8 L399.4,661.0 L403.2,662.2 L407.1,663.3 L411.0,664.4 L414.9,665.6 L418.7,666.7 L422.6,667.8 L426.5,668.8 L430.3,669.9 L434.2,671.0 L438.1,672.0 L441.9,673.0 L445.8,674.1 L449.7,675.1 L453.6,676.1 L457.4,677.1 L461.3,678.0 L465.2,679.0 L469.0,680.0 L472.9,680.9 L476.8,681.9 L480.6,682.8 L484.5,683.7 L488.4,684.6 L492.2,685.5 L496.1,686.4 L500.0,687.3 L503.9,688.2 L507.7,689.1 L511.6,689.9 L515.5,690.8 L519.3,691.7 L523.2,692.5 L527.1,693.3 L531.0,694.2 L534.8,695.0 L538.7,695.8 L542.6,696.6 L546.4,697.4 L550.3,698.2 L554.2,699.0 L558.0,699.7 L561.9,700.5 L565.8,701.3 L569.6,702.0 L573.5,702.8 L577.4,703.5 L581.3,704.3 L585.1,705.0 L589.0,705.7 L592.9,706.4 L596.7,707.2 L600.6,707.9 L604.5,708.6 L608.4,709.3 L612.2,710.0 L616.1,710.6 L620.0,711.3 L623.8,712.0 L627.7,712.7 L631.6,713.3 L635.4,714.0 L639.3,714.6 L643.2,715.3 L647.0,715.9 L650.9,716.6 L654.8,717.2 L658.7,717.8 L662.5,718.4 L666.4,719.0 L670.3,719.7 L674.1,720.3 L678.0,720.9 L681.9,721.5 L685.8,722.0 L689.6,722.6 L693.5,723.2 L697.4,723.8 L701.2,724.4 L705.1,724.9 L709.0,725.5 L712.8,726.0 L716.7,726.6 L720.6,727.1 L724.5,727.7 L728.3,728.2 L732.2,728.8 L736.1,729.3 L739.9,729.8 L743.8,730.3 L747.7,730.9 L751.5,731.4 L755.4,731.9 L759.3,732.4 L763.1,732.9 L767.0,733.4 L770.9,733.9 L774.8,734.4 L778.6,734.9 L782.5,735.3 L786.4,735.8 L790.2,736.3 L794.1,736.8 L798.0,737.2 L801.9,737.7 L805.7,738.1 L809.6,738.6 L813.5,739.0 L817.3,739.5 L821.2,739.9 L825.1,740.4 L828.9,740.8 L832.8,741.2 L836.7,741.7 L840.5,742.1 L844.4,742.5 L848.3,742.9 L852.2,743.3 L856.0,743.8 L859.9,744.2 L863.8,744.6 L867.6,745.0 L871.5,745.4 L875.4,745.8 L879.2,746.2 L883.1,746.5 L887.0,746.9 L890.9,747.3 L894.7,747.7 L898.6,748.1 L902.5,748.4 L906.3,748.8 L910.2,749.2 L914.1,749.5 L918.0,749.9 L921.8,750.2 L925.7,750.6 L929.6,750.9 L933.4,751.3 L937.3,751.6 L941.2,752.0 L945.0,752.3 L948.9,752.7 L952.8,753.0 L956.6,753.3 L960.5,753.6 L964.4,754.0 L968.3,754.3 L972.1,754.6 L976.0,754.9 L979.9,755.2 L983.7,755.6 L987.6,755.9 L991.5,756.2 L995.4,756.5 L999.2,756.8 L1003.1,757.1 L1007.0,757.4 L1010.8,757.7 L1014.7,757.9 L1018.6,758.2 L1022.4,758.5 L1026.3,758.8 L1030.2,759.1 L1034.0,759.4 L1037.9,759.6 L1041.8,759.9 L1045.7,760.2 L1049.5,760.4 L1053.4,760.7 L1057.3,761.0 L1061.1,761.2 L1065.0,761.5 L1068.9,761.8 L1072.8,762.0 L1076.6,762.3 L1080.5,762.5 L1084.4,762.8 L1088.2,763.0 L1092.1,763.3 L1096.0,763.5 L1099.8,763.7 L1103.7,764.0 L1107.6,764.2 L1111.5,764.4 L1115.3,764.7 L1119.2,764.9 L1123.1,765.1 L1126.9,765.4 L1130.8,765.6 L1134.7,765.8 L1138.5,766.0 L1142.4,766.2 L1146.3,766.4 L1150.2,766.7 L1154.0,766.9 L1157.9,767.1 L1161.8,767.3 L1165.6,767.5 L1169.5,767.7 L1173.4,767.9 L1177.2,768.1 L1181.1,768.3 L1185.0,768.5 L1188.8,768.7 L1192.7,768.9 L1196.6,769.1 L1200.5,769.3 L1204.3,769.5 L1208.2,769.6 L1212.1,769.8 L1215.9,770.0 L1219.8,770.2 L1223.7,770.4 L1227.5,770.5 L1231.4,770.7 L1235.3,770.9 L1239.2,771.1 L1243.0,771.2 L1246.9,771.4 L1250.8,771.6 L1254.6,771.7 L1258.5,771.9 L1262.4,772.1 L1266.2,772.2 L1270.1,772.4 L1274.0,772.6 L1277.9,772.7 L1281.7,772.9 L1285.6,773.0 L1289.5,773.2 L1293.3,773.3 L1297.2,773.5 L1301.1,773.6 L1305.0,773.8 L1308.8,773.9 L1312.7,774.1 L1316.6,774.2 L1320.4,774.3 L1324.3,774.5 L1328.2,774.6 L1332.0,774.8 L1335.9,774.9 L1339.8,775.0 L1343.7,775.2 L1347.5,775.3 L1351.4,775.4 L1355.3,775.6 L1359.1,775.7 L1363.0,775.8" fill="none" stroke="#000" stroke-width="3.5" stroke-linejoin="round" stroke-dasharray="24 18"/>
<path d="M202.0,501.9 L205.9,507.2 L209.7,512.2 L213.6,517.1 L217.5,521.7 L221.3,526.2 L225.2,530.6 L229.1,534.8 L233.0,538.8 L236.8,542.7 L240.7,546.5 L244.6,550.2 L248.4,553.7 L252.3,557.2 L256.2,560.5 L260.1,563.8 L263.9,566.9 L267.8,569.9 L271.7,572.9 L275.5,575.8 L279.4,578.6 L283.3,581.3 L287.1,584.0 L291.0,586.6 L294.9,589.1 L298.8,591.6 L302.6,594.0 L306.5,596.3 L310.4,598.6 L314.2,600.9 L318.1,603.1 L322.0,605.3 L325.8,607.4 L329.7,609.4 L333.6,611.5 L337.4,613.4 L341.3,615.4 L345.2,617.3 L349.1,619.2 L352.9,621.0 L356.8,622.9 L360.7,624.6 L364.5,626.4 L368.4,628.1 L372.3,629.8 L376.1,631.5 L380.0,633.1 L383.9,634.7 L387.8,636.3 L391.6,637.9 L395.5,639.5 L399.4,641.0 L403.2,642.5 L407.1,644.0 L411.0,645.4 L414.9,646.9 L418.7,648.3 L422.6,649.7 L426.5,651.1 L430.3,652.5 L434.2,653.9 L438.1,655.2 L441.9,656.5 L445.8,657.8 L449.7,659.1 L453.6,660.4 L457.4,661.7 L461.3,662.9 L465.2,664.1 L469.0,665.4 L472.9,666.6 L476.8,667.8 L480.6,669.0 L484.5,670.1 L488.4,671.3 L492.2,672.4 L496.1,673.6 L500.0,674.7 L503.9,675.8 L507.7,676.9 L511.6,678.0 L515.5,679.1 L519.3,680.1 L523.2,681.2 L527.1,682.2 L531.0,683.3 L534.8,684.3 L538.7,685.3 L542.6,686.3 L546.4,687.3 L550.3,688.3 L554.2,689.3 L558.0,690.2 L561.9,691.2 L565.8,692.1 L569.6,693.1 L573.5,694.0 L577.4,694.9 L581.3,695.8 L585.1,696.7 L589.0,697.6 L592.9,698.5 L596.7,699.4 L600.6,700.3 L604.5,701.1 L608.4,702.0 L612.2,702.8 L616.1,703.7 L620.0,704.5 L623.8,705.3 L627.7,706.1 L631.6,706.9 L635.4,707.7 L639.3,708.5 L643.2,709.3 L647.0,710.1 L650.9,710.8 L654.8,711.6 L658.7,712.4 L662.5,713.1 L666.4,713.9 L670.3,714.6 L674.1,715.3 L678.0,716.0 L681.9,716.7 L685.8,717.5 L689.6,718.2 L693.5,718.8 L697.4,719.5 L701.2,720.2 L705.1,720.9 L709.0,721.6 L712.8,722.2 L716.7,722.9 L720.6,723.5 L724.5,724.2 L728.3,724.8 L732.2,725.4 L736.1,726.0 L739.9,726.7 L743.8,727.3 L747.7,727.9 L751.5,728.5 L755.4,729.1 L759.3,729.7 L763.1,730.2 L767.0,730.8 L770.9,731.4 L774.8,732.0 L778.6,732.5 L782.5,733.1 L786.4,733.6 L790.2,734.2 L794.1,734.7 L798.0,735.2 L801.9,735.8 L805.7,736.3 L809.6,736.8 L813.5,737.3 L817.3,737.8 L821.2,738.3 L825.1,738.8 L828.9,739.3 L832.8,739.8 L836.7,740.3 L840.5,740.8 L844.4,741.2 L848.3,741.7 L852.2,742.2 L856.0,742.6 L859.9,743.1 L863.8,743.5 L867.6,744.0 L871.5,744.4 L875.4,744.8 L879.2,745.3 L883.1,745.7 L887.0,746.1 L890.9,746.5 L894.7,746.9 L898.6,747.3 L902.5,747.7 L906.3,748.1 L910.2,748.5 L914.1,748.9 L918.0,749.3 L921.8,749.7 L925.7,750.1 L929.6,750.4 L933.4,750.8 L937.3,751.2 L941.2,751.5 L945.0,751.9 L948.9,752.3 L952.8,752.6 L956.6,752.9 L960.5,753.3 L964.4,753.6 L968.3,754.0 L972.1,754.3 L976.0,754.6 L979.9,754.9 L983.7,755.3 L987.6,755.6 L991.5,755.9 L995.4,756.2 L999.2,756.5 L1003.1,756.8 L1007.0,757.1 L1010.8,757.4 L1014.7,757.7 L1018.6,758.0 L1022.4,758.3 L1026.3,758.5 L1030.2,758.8 L1034.0,759.1 L1037.9,759.4 L1041.8,759.6 L1045.7,759.9 L1049.5,760.2 L1053.4,760.4 L1057.3,760.7 L1061.1,760.9 L1065.0,761.2 L1068.9,761.4 L1072.8,761.7 L1076.6,761.9 L1080.5,762.1 L1084.4,762.4 L1088.2,762.6 L1092.1,762.8 L1096.0,763.0 L1099.8,763.3 L1103.7,763.5 L1107.6,763.7 L1111.5,763.9 L1115.3,764.1 L1119.2,764.3 L1123.1,764.5 L1126.9,764.7 L1130.8,764.9 L1134.7,765.1 L1138.5,765.3 L1142.4,765.5 L1146.3,765.7 L1150.2,765.9 L1154.0,766.1 L1157.9,766.3 L1161.8,766.4 L1165.6,766.6 L1169.5,766.8 L1173.4,767.0 L1177.2,767.1 L1181.1,767.3 L1185.0,767.5 L1188.8,767.6 L1192.7,767.8 L1196.6,767.9 L1200.5,768.1 L1204.3,768.3 L1208.2,768.4 L1212.1,768.6 L1215.9,768.7 L1219.8,768.8 L1223.7,769.0 L1227.5,769.1 L1231.4,769.3 L1235.3,769.4 L1239.2,769.5 L1243.0,769.7 L1246.9,769.8 L1250.8,769.9 L1254.6,770.0 L1258.5,770.2 L1262.4,770.3 L1266.2,770.4 L1270.1,770.5 L1274.0,770.6 L1277.9,770.7 L1281.7,770.8 L1285.6,771.0 L1289.5,771.1 L1293.3,771.2 L1297.2,771.3 L1301.1,771.4 L1305.0,771.5 L1308.8,771.6 L1312.7,771.7 L1316.6,771.8 L1320.4,771.8 L1324.3,771.9 L1328.2,772.0 L1332.0,772.1 L1335.9,772.2 L1339.8,772.3 L1343.7,772.4 L1347.5,772.4 L1351.4,772.5 L1355.3,772.6 L1359.1,772.7 L1363.0,772.7" fill="none" stroke="#000" stroke-width="3.5" stroke-linejoin="round" stroke-dasharray="7 19"/>
<path d="M202.0,402.0 L205.9,413.9 L209.7,425.2 L213.6,435.9 L217.5,446.2 L221.3,455.9 L225.2,465.1 L229.1,473.9 L233.0,482.3 L236.8,490.3 L240.7,498.0 L244.6,505.2 L248.4,512.2 L252.3,518.8 L256.2,525.1 L260.1,531.1 L263.9,536.9 L267.8,542.4 L271.7,547.7 L275.5,552.8 L279.4,557.6 L283.3,562.2 L287.1,566.7 L291.0,570.9 L294.9,575.0 L298.8,578.9 L302.6,582.7 L306.5,586.3 L310.4,589.8 L314.2,593.1 L318.1,596.3 L322.0,599.4 L325.8,602.4 L329.7,605.3 L333.6,608.1 L337.4,610.8 L341.3,613.4 L345.2,615.9 L349.1,618.3 L352.9,620.7 L356.8,622.9 L360.7,625.1 L364.5,627.3 L368.4,629.3 L372.3,631.3 L376.1,633.3 L380.0,635.2 L383.9,637.0 L387.8,638.8 L391.6,640.6 L395.5,642.3 L399.4,643.9 L403.2,645.6 L407.1,647.1 L411.0,648.7 L414.9,650.2 L418.7,651.7 L422.6,653.1 L426.5,654.5 L430.3,655.9 L434.2,657.3 L438.1,658.6 L441.9,659.9 L445.8,661.2 L449.7,662.5 L453.6,663.7 L457.4,664.9 L461.3,666.1 L465.2,667.3 L469.0,668.5 L472.9,669.6 L476.8,670.7 L480.6,671.8 L484.5,672.9 L488.4,674.0 L492.2,675.0 L496.1,676.1 L500.0,677.1 L503.9,678.1 L507.7,679.2 L511.6,680.1 L515.5,681.1 L519.3,682.1 L523.2,683.1 L527.1,684.0 L531.0,685.0 L534.8,685.9 L538.7,686.8 L542.6,687.7 L546.4,688.6 L550.3,689.5 L554.2,690.4 L558.0,691.3 L561.9,692.1 L565.8,693.0 L569.6,693.9 L573.5,694.7 L577.4,695.5 L581.3,696.4 L585.1,697.2 L589.0,698.0 L592.9,698.8 L596.7,699.6 L600.6,700.4 L604.5,701.2 L608.4,702.0 L612.2,702.8 L616.1,703.5 L620.0,704.3 L623.8,705.1 L627.7,705.8 L631.6,706.6 L635.4,707.3 L639.3,708.1 L643.2,708.8 L647.0,709.5 L650.9,710.2 L654.8,710.9 L658.7,711.7 L662.5,712.4 L666.4,713.1 L670.3,713.8 L674.1,714.4 L678.0,715.1 L681.9,715.8 L685.8,716.5 L689.6,717.1 L693.5,717.8 L697.4,718.5 L701.2,719.1 L705.1,719.8 L709.0,720.4 L712.8,721.1 L716.7,721.7 L720.6,722.3 L724.5,722.9 L728.3,723.6 L732.2,724.2 L736.1,724.8 L739.9,725.4 L743.8,726.0 L747.7,726.6 L751.5,727.2 L755.4,727.8 L759.3,728.4 L763.1,728.9 L767.0,729.5 L770.9,730.1 L774.8,730.7 L778.6,731.2 L782.5,731.8 L786.4,732.3 L790.2,732.9 L794.1,733.4 L798.0,734.0 L801.9,734.5 L805.7,735.0 L809.6,735.6 L813.5,736.1 L817.3,736.6 L821.2,737.1 L825.1,737.6 L828.9,738.1 L832.8,738.6 L836.7,739.1 L840.5,739.6 L844.4,740.1 L848.3,740.6 L852.2,741.1 L856.0,741.5 L859.9,742.0 L863.8,742.5 L867.6,742.9 L871.5,743.4 L875.4,743.9 L879.2,744.3 L883.1,744.8 L887.0,745.2 L890.9,745.6 L894.7,746.1 L898.6,746.5 L902.5,746.9 L906.3,747.4 L910.2,747.8 L914.1,748.2 L918.0,748.6 L921.8,749.0 L925.7,749.4 L929.6,749.8 L933.4,750.2 L937.3,750.6 L941.2,751.0 L945.0,751.4 L948.9,751.8 L952.8,752.1 L956.6,752.5 L960.5,752.9 L964.4,753.3 L968.3,753.6 L972.1,754.0 L976.0,754.3 L979.9,754.7 L983.7,755.0 L987.6,755.4 L991.5,755.7 L995.4,756.1 L999.2,756.4 L1003.1,756.7 L1007.0,757.0 L1010.8,757.4 L1014.7,757.7 L1018.6,758.0 L1022.4,758.3 L1026.3,758.6 L1030.2,758.9 L1034.0,759.2 L1037.9,759.5 L1041.8,759.8 L1045.7,760.1 L1049.5,760.4 L1053.4,760.7 L1057.3,761.0 L1061.1,761.3 L1065.0,761.5 L1068.9,761.8 L1072.8,762.1 L1076.6,762.3 L1080.5,762.6 L1084.4,762.9 L1088.2,763.1 L1092.1,763.4 L1096.0,763.6 L1099.8,763.9 L1103.7,764.1 L1107.6,764.4 L1111.5,764.6 L1115.3,764.8 L1119.2,765.1 L1123.1,765.3 L1126.9,765.5 L1130.8,765.8 L1134.7,766.0 L1138.5,766.2 L1142.4,766.4 L1146.3,766.6 L1150.2,766.8 L1154.0,767.0 L1157.9,767.2 L1161.8,767.4 L1165.6,767.6 L1169.5,767.8 L1173.4,768.0 L1177.2,768.2 L1181.1,768.4 L1185.0,768.6 L1188.8,768.8 L1192.7,768.9 L1196.6,769.1 L1200.5,769.3 L1204.3,769.4 L1208.2,769.6 L1212.1,769.8 L1215.9,769.9 L1219.8,770.1 L1223.7,770.3 L1227.5,770.4 L1231.4,770.6 L1235.3,770.7 L1239.2,770.9 L1243.0,771.0 L1246.9,771.1 L1250.8,771.3 L1254.6,771.4 L1258.5,771.6 L1262.4,771.7 L1266.2,771.8 L1270.1,771.9 L1274.0,772.1 L1277.9,772.2 L1281.7,772.3 L1285.6,772.4 L1289.5,772.5 L1293.3,772.8 L1297.2,772.8 L1301.1,772.7 L1305.0,772.7 L1308.8,772.9 L1312.7,772.6 L1316.6,773.2 L1320.4,773.1 L1324.3,773.4 L1328.2,774.4 L1332.0,774.4 L1335.9,773.4 L1339.8,774.5 L1343.7,772.4 L1347.5,772.3 L1351.4,771.5 L1355.3,774.2 L1359.1,771.9 L1363.0,776.0" fill="none" stroke="#000" stroke-width="4.1" stroke-linejoin="round" stroke-dasharray="26 9 7 9"/>
<path d="M202.0,828.3 L205.9,827.5 L209.7,827.3 L213.6,829.1 L217.5,836.6 L221.3,836.9 L225.2,828.2 L229.1,817.8 L233.0,812.7 L236.8,813.7 L240.7,815.9 L244.6,818.2 L248.4,820.2 L252.3,822.3 L256.2,824.5 L260.1,826.7 L263.9,829.0 L267.8,830.2 L271.7,831.3 L275.5,832.5 L279.4,833.6 L283.3,834.8 L287.1,836.0 L291.0,837.2 L294.9,838.3 L298.8,839.5 L302.6,840.7 L306.5,841.9 L310.4,843.1 L314.2,844.2 L318.1,845.4 L322.0,846.6 L325.8,847.7 L329.7,848.9 L333.6,850.0 L337.4,851.1 L341.3,852.2 L345.2,853.3 L349.1,854.4 L352.9,855.5 L356.8,856.6 L360.7,857.6 L364.5,858.6 L368.4,859.7 L372.3,860.7 L376.1,861.7 L380.0,862.6 L383.9,863.6 L387.8,864.5 L391.6,865.5 L395.5,866.4 L399.4,867.3 L403.2,868.2 L407.1,869.0 L411.0,869.9 L414.9,870.7 L418.7,871.6 L422.6,872.4 L426.5,873.2 L430.3,874.0 L434.2,874.7 L438.1,875.5 L441.9,876.2 L445.8,877.0 L449.7,877.7 L453.6,878.4 L457.4,879.1 L461.3,879.7 L465.2,880.4 L469.0,881.0 L472.9,881.7 L476.8,882.3 L480.6,882.9 L484.5,883.5 L488.4,884.1 L492.2,884.6 L496.1,885.2 L500.0,885.8 L503.9,886.3 L507.7,886.8 L511.6,887.3 L515.5,887.8 L519.3,888.3 L523.2,888.8 L527.1,889.3 L531.0,889.8 L534.8,890.2 L538.7,890.7 L542.6,891.1 L546.4,891.5 L550.3,891.9 L554.2,892.3 L558.0,892.7 L561.9,893.1 L565.8,893.5 L569.6,893.9 L573.5,894.3 L577.4,894.6 L581.3,895.0 L585.1,895.3 L589.0,895.7 L592.9,896.0 L596.7,896.3 L600.6,896.6 L604.5,896.9 L608.4,897.2 L612.2,897.5 L616.1,897.8 L620.0,898.1 L623.8,898.4 L627.7,898.7 L631.6,898.9 L635.4,899.2 L639.3,899.4 L643.2,899.7 L647.0,899.9 L650.9,900.2 L654.8,900.4 L658.7,900.6 L662.5,900.9 L666.4,901.1 L670.3,901.3 L674.1,901.5 L678.0,901.7 L681.9,901.9 L685.8,902.1 L689.6,902.3 L693.5,902.5 L697.4,902.7 L701.2,902.9 L705.1,903.1 L709.0,903.3 L712.8,903.4 L716.7,903.6 L720.6,903.8 L724.5,903.9 L728.3,904.1 L732.2,904.3 L736.1,904.4 L739.9,904.6 L743.8,904.7 L747.7,904.9 L751.5,905.0 L755.4,905.2 L759.3,905.3 L763.1,905.4 L767.0,905.6 L770.9,905.7 L774.8,905.8 L778.6,906.0 L782.5,906.1 L786.4,906.2 L790.2,906.4 L794.1,906.5 L798.0,906.6 L801.9,906.7 L805.7,906.8 L809.6,907.0 L813.5,907.1 L817.3,907.2 L821.2,907.3 L825.1,907.4 L828.9,907.5 L832.8,907.6 L836.7,907.7 L840.5,907.8 L844.4,907.9 L848.3,908.0 L852.2,908.1 L856.0,908.2 L859.9,908.3 L863.8,908.4 L867.6,908.5 L871.5,908.6 L875.4,908.7 L879.2,908.8 L883.1,908.9 L887.0,909.0 L890.9,909.1 L894.7,909.2 L898.6,909.3 L902.5,909.4 L906.3,909.5 L910.2,909.6 L914.1,909.7 L918.0,909.7 L921.8,909.8 L925.7,909.9 L929.6,910.0 L933.4,910.1 L937.3,910.2 L941.2,910.3 L945.0,910.4 L948.9,910.4 L952.8,910.5 L956.6,910.6 L960.5,910.7 L964.4,910.8 L968.3,910.9 L972.1,910.9 L976.0,911.0 L979.9,911.1 L983.7,911.2 L987.6,911.3 L991.5,911.4 L995.4,911.4 L999.2,911.5 L1003.1,911.6 L1007.0,911.7 L1010.8,911.8 L1014.7,911.9 L1018.6,911.9 L1022.4,912.0 L1026.3,912.1 L1030.2,912.2 L1034.0,912.3 L1037.9,912.4 L1041.8,912.4 L1045.7,912.5 L1049.5,912.6 L1053.4,912.7 L1057.3,912.8 L1061.1,912.9 L1065.0,912.9 L1068.9,913.0 L1072.8,913.1 L1076.6,913.2 L1080.5,913.3 L1084.4,913.4 L1088.2,913.4 L1092.1,913.5 L1096.0,913.6 L1099.8,913.7 L1103.7,913.8 L1107.6,913.9 L1111.5,913.9 L1115.3,914.0 L1119.2,914.1 L1123.1,914.2 L1126.9,914.3 L1130.8,914.4 L1134.7,914.5 L1138.5,914.6 L1142.4,914.7 L1146.3,914.8 L1150.2,915.0 L1154.0,914.9 L1157.9,914.6 L1161.8,915.3 L1165.6,915.4 L1169.5,915.0 L1173.4,915.1 L1177.2,915.3 L1181.1,916.2 L1185.0,915.6 L1188.8,915.0 L1192.7,917.2 L1196.6,916.4 L1200.5,918.4 L1204.3,917.8 L1208.2,918.9 L1212.1,916.6 L1215.9,918.5 L1219.8,915.9 L1223.7,916.2 L1227.5,917.0 L1231.4,922.3 L1235.3,918.0 L1239.2,917.0 L1243.0,917.0 L1246.9,921.9 L1250.8,915.7 L1254.6,918.9 L1258.5,917.4 L1262.4,914.4 L1266.2,920.0 L1270.1,918.2 L1274.0,917.1 L1277.9,917.4 L1281.7,927.8 L1285.6,917.3 L1289.5,904.2 L1293.3,935.9 L1297.2,907.5 L1301.1,916.8 L1305.0,928.2 L1308.8,885.6 L1312.7,905.1 L1316.6,941.9 L1320.4,917.4 L1324.3,906.3 L1328.2,923.6 L1332.0,902.1 L1335.9,921.1 L1339.8,900.6 L1343.7,876.5 L1347.5,940.9 L1351.4,913.0 L1355.3,936.0 L1359.1,915.3 L1363.0,964.0" fill="none" stroke="#ff0000" stroke-width="3.5" stroke-linejoin="round"/>
<path d="M202.0,826.5 L205.9,826.3 L209.7,826.2 L213.6,826.1 L217.5,826.1 L221.3,826.2 L225.2,826.3 L229.1,826.5 L233.0,826.7 L236.8,827.0 L240.7,827.3 L244.6,827.7 L248.4,828.1 L252.3,828.6 L256.2,829.1 L260.1,829.6 L263.9,830.1 L267.8,830.7 L271.7,831.3 L275.5,831.9 L279.4,832.6 L283.3,833.2 L287.1,833.9 L291.0,834.6 L294.9,835.3 L298.8,836.0 L302.6,836.7 L306.5,837.4 L310.4,838.2 L314.2,838.9 L318.1,839.7 L322.0,840.4 L325.8,841.2 L329.7,841.9 L333.6,842.7 L337.4,843.5 L341.3,844.2 L345.2,845.0 L349.1,845.8 L352.9,846.5 L356.8,847.3 L360.7,848.1 L364.5,848.8 L368.4,849.6 L372.3,850.4 L376.1,851.1 L380.0,851.9 L383.9,852.6 L387.8,853.4 L391.6,854.1 L395.5,854.8 L399.4,855.6 L403.2,856.3 L407.1,857.0 L411.0,857.7 L414.9,858.4 L418.7,859.1 L422.6,859.8 L426.5,860.5 L430.3,861.2 L434.2,861.9 L438.1,862.5 L441.9,863.2 L445.8,863.9 L449.7,864.5 L453.6,865.2 L457.4,865.8 L461.3,866.4 L465.2,867.1 L469.0,867.7 L472.9,868.3 L476.8,868.9 L480.6,869.5 L484.5,870.1 L488.4,870.7 L492.2,871.3 L496.1,871.8 L500.0,872.4 L503.9,873.0 L507.7,873.5 L511.6,874.1 L515.5,874.6 L519.3,875.2 L523.2,875.7 L527.1,876.2 L531.0,876.7 L534.8,877.2 L538.7,877.7 L542.6,878.2 L546.4,878.7 L550.3,879.2 L554.2,879.7 L558.0,880.2 L561.9,880.6 L565.8,881.1 L569.6,881.6 L573.5,882.0 L577.4,882.5 L581.3,882.9 L585.1,883.3 L589.0,883.8 L592.9,884.2 L596.7,884.6 L600.6,885.0 L604.5,885.4 L608.4,885.8 L612.2,886.2 L616.1,886.6 L620.0,887.0 L623.8,887.4 L627.7,887.8 L631.6,888.1 L635.4,888.5 L639.3,888.9 L643.2,889.2 L647.0,889.6 L650.9,889.9 L654.8,890.3 L658.7,890.6 L662.5,891.0 L666.4,891.3 L670.3,891.6 L674.1,892.0 L678.0,892.3 L681.9,892.6 L685.8,892.9 L689.6,893.2 L693.5,893.5 L697.4,893.8 L701.2,894.1 L705.1,894.4 L709.0,894.7 L712.8,895.0 L716.7,895.3 L720.6,895.5 L724.5,895.8 L728.3,896.1 L732.2,896.4 L736.1,896.6 L739.9,896.9 L743.8,897.1 L747.7,897.4 L751.5,897.6 L755.4,897.9 L759.3,898.1 L763.1,898.4 L767.0,898.6 L770.9,898.9 L774.8,899.1 L778.6,899.3 L782.5,899.5 L786.4,899.8 L790.2,900.0 L794.1,900.2 L798.0,900.4 L801.9,900.6 L805.7,900.9 L809.6,901.1 L813.5,901.3 L817.3,901.5 L821.2,901.7 L825.1,901.9 L828.9,902.1 L832.8,902.3 L836.7,902.5 L840.5,902.6 L844.4,902.8 L848.3,903.0 L852.2,903.2 L856.0,903.4 L859.9,903.6 L863.8,903.7 L867.6,903.9 L871.5,904.1 L875.4,904.3 L879.2,904.4 L883.1,904.6 L887.0,904.7 L890.9,904.9 L894.7,905.1 L898.6,905.2 L902.5,905.4 L906.3,905.5 L910.2,905.7 L914.1,905.8 L918.0,906.0 L921.8,906.1 L925.7,906.3 L929.6,906.4 L933.4,906.6 L937.3,906.7 L941.2,906.9 L945.0,907.0 L948.9,907.1 L952.8,907.3 L956.6,907.4 L960.5,907.5 L964.4,907.7 L968.3,907.8 L972.1,907.9 L976.0,908.0 L979.9,908.2 L983.7,908.3 L987.6,908.4 L991.5,908.5 L995.4,908.6 L999.2,908.8 L1003.1,908.9 L1007.0,909.0 L1010.8,909.1 L1014.7,909.2 L1018.6,909.3 L1022.4,909.4 L1026.3,909.6 L1030.2,909.7 L1034.0,909.8 L1037.9,909.9 L1041.8,910.0 L1045.7,910.1 L1049.5,910.2 L1053.4,910.3 L1057.3,910.4 L1061.1,910.5 L1065.0,910.6 L1068.9,910.7 L1072.8,910.8 L1076.6,910.9 L1080.5,911.0 L1084.4,911.1 L1088.2,911.2 L1092.1,911.2 L1096.0,911.3 L1099.8,911.4 L1103.7,911.5 L1107.6,911.6 L1111.5,911.7 L1115.3,911.8 L1119.2,911.9 L1123.1,911.9 L1126.9,912.0 L1130.8,912.1 L1134.7,912.2 L1138.5,912.3 L1142.4,912.4 L1146.3,912.4 L1150.2,912.5 L1154.0,912.6 L1157.9,912.7 L1161.8,912.7 L1165.6,912.8 L1169.5,912.9 L1173.4,913.0 L1177.2,913.0 L1181.1,913.1 L1185.0,913.2 L1188.8,913.3 L1192.7,913.3 L1196.6,913.4 L1200.5,913.5 L1204.3,913.5 L1208.2,913.6 L1212.1,913.7 L1215.9,913.7 L1219.8,913.8 L1223.7,913.9 L1227.5,913.9 L1231.4,914.0 L1235.3,914.1 L1239.2,914.1 L1243.0,914.2 L1246.9,914.2 L1250.8,914.3 L1254.6,914.4 L1258.5,914.5 L1262.4,914.6 L1266.2,914.9 L1270.1,914.8 L1274.0,916.1 L1277.9,914.9 L1281.7,915.8 L1285.6,913.7 L1289.5,913.4 L1293.3,912.4 L1297.2,913.4 L1301.1,915.2 L1305.0,912.7 L1308.8,910.4 L1312.7,917.5 L1316.6,912.9 L1320.4,915.5 L1324.3,908.7 L1328.2,919.7 L1332.0,917.1 L1335.9,913.4 L1339.8,914.0 L1343.7,926.7 L1347.5,913.1 L1351.4,916.7 L1355.3,917.7 L1359.1,917.2 L1363.0,913.9" fill="none" stroke="#ff0000" stroke-width="3.5" stroke-linejoin="round" stroke-dasharray="24 18"/>
<path d="M202.0,778.5 L205.9,780.2 L209.7,781.7 L213.6,783.1 L217.5,784.5 L221.3,785.7 L225.2,786.9 L229.1,788.0 L233.0,789.0 L236.8,790.0 L240.7,790.9 L244.6,791.8 L248.4,792.6 L252.3,793.4 L256.2,794.1 L260.1,794.8 L263.9,795.4 L267.8,796.1 L271.7,796.7 L275.5,797.2 L279.4,797.8 L283.3,798.3 L287.1,798.8 L291.0,799.3 L294.9,799.8 L298.8,800.3 L302.6,800.7 L306.5,801.2 L310.4,801.6 L314.2,802.1 L318.1,802.5 L322.0,802.9 L325.8,803.3 L329.7,803.7 L333.6,804.1 L337.4,804.5 L341.3,804.9 L345.2,805.3 L349.1,805.7 L352.9,806.1 L356.8,806.5 L360.7,806.9 L364.5,807.3 L368.4,807.7 L372.3,808.1 L376.1,808.5 L380.0,808.9 L383.9,809.3 L387.8,809.7 L391.6,810.1 L395.5,810.5 L399.4,811.0 L403.2,811.4 L407.1,811.8 L411.0,812.2 L414.9,812.6 L418.7,813.0 L422.6,813.4 L426.5,813.9 L430.3,814.3 L434.2,814.7 L438.1,815.1 L441.9,815.6 L445.8,816.0 L449.7,816.4 L453.6,816.8 L457.4,817.3 L461.3,817.7 L465.2,818.1 L469.0,818.6 L472.9,819.0 L476.8,819.4 L480.6,819.9 L484.5,820.3 L488.4,820.8 L492.2,821.2 L496.1,821.6 L500.0,822.1 L503.9,822.5 L507.7,823.0 L511.6,823.4 L515.5,823.8 L519.3,824.3 L523.2,824.7 L527.1,825.1 L531.0,825.6 L534.8,826.0 L538.7,826.4 L542.6,826.9 L546.4,827.3 L550.3,827.7 L554.2,828.2 L558.0,828.6 L561.9,829.0 L565.8,829.4 L569.6,829.9 L573.5,830.3 L577.4,830.7 L581.3,831.1 L585.1,831.5 L589.0,831.9 L592.9,832.4 L596.7,832.8 L600.6,833.2 L604.5,833.6 L608.4,834.0 L612.2,834.4 L616.1,834.8 L620.0,835.2 L623.8,835.6 L627.7,835.9 L631.6,836.3 L635.4,836.7 L639.3,837.1 L643.2,837.5 L647.0,837.9 L650.9,838.2 L654.8,838.6 L658.7,839.0 L662.5,839.3 L666.4,839.7 L670.3,840.0 L674.1,840.4 L678.0,840.7 L681.9,841.1 L685.8,841.4 L689.6,841.8 L693.5,842.1 L697.4,842.5 L701.2,842.8 L705.1,843.1 L709.0,843.4 L712.8,843.8 L716.7,844.1 L720.6,844.4 L724.5,844.7 L728.3,845.0 L732.2,845.3 L736.1,845.6 L739.9,845.9 L743.8,846.2 L747.7,846.5 L751.5,846.8 L755.4,847.1 L759.3,847.4 L763.1,847.6 L767.0,847.9 L770.9,848.2 L774.8,848.4 L778.6,848.7 L782.5,849.0 L786.4,849.2 L790.2,849.5 L794.1,849.7 L798.0,850.0 L801.9,850.2 L805.7,850.5 L809.6,850.7 L813.5,850.9 L817.3,851.1 L821.2,851.4 L825.1,851.6 L828.9,851.8 L832.8,852.0 L836.7,852.2 L840.5,852.4 L844.4,852.6 L848.3,852.8 L852.2,853.0 L856.0,853.2 L859.9,853.4 L863.8,853.6 L867.6,853.8 L871.5,854.0 L875.4,854.1 L879.2,854.3 L883.1,854.5 L887.0,854.7 L890.9,854.8 L894.7,855.0 L898.6,855.1 L902.5,855.3 L906.3,855.4 L910.2,855.6 L914.1,855.7 L918.0,855.9 L921.8,856.0 L925.7,856.1 L929.6,856.3 L933.4,856.4 L937.3,856.5 L941.2,856.6 L945.0,856.7 L948.9,856.9 L952.8,857.0 L956.6,857.1 L960.5,857.2 L964.4,857.3 L968.3,857.4 L972.1,857.5 L976.0,857.6 L979.9,857.7 L983.7,857.8 L987.6,857.8 L991.5,857.9 L995.4,858.0 L999.2,858.1 L1003.1,858.1 L1007.0,858.2 L1010.8,858.3 L1014.7,858.3 L1018.6,858.4 L1022.4,858.5 L1026.3,858.5 L1030.2,858.6 L1034.0,858.6 L1037.9,858.7 L1041.8,858.7 L1045.7,858.8 L1049.5,858.8 L1053.4,858.8 L1057.3,858.9 L1061.1,858.9 L1065.0,858.9 L1068.9,859.0 L1072.8,859.0 L1076.6,859.0 L1080.5,859.0 L1084.4,859.0 L1088.2,859.1 L1092.1,859.1 L1096.0,859.1 L1099.8,859.1 L1103.7,859.1 L1107.6,859.1 L1111.5,859.1 L1115.3,859.1 L1119.2,859.1 L1123.1,859.1 L1126.9,859.1 L1130.8,859.1 L1134.7,859.0 L1138.5,859.0 L1142.4,859.0 L1146.3,859.0 L1150.2,859.0 L1154.0,858.9 L1157.9,858.9 L1161.8,858.9 L1165.6,858.9 L1169.5,858.8 L1173.4,858.8 L1177.2,858.8 L1181.1,858.7 L1185.0,858.7 L1188.8,858.6 L1192.7,858.6 L1196.6,858.5 L1200.5,858.5 L1204.3,858.4 L1208.2,858.4 L1212.1,858.3 L1215.9,858.3 L1219.8,858.2 L1223.7,858.1 L1227.5,858.1 L1231.4,858.0 L1235.3,858.0 L1239.2,857.9 L1243.0,857.8 L1246.9,857.7 L1250.8,857.7 L1254.6,857.6 L1258.5,857.5 L1262.4,857.4 L1266.2,857.4 L1270.1,857.3 L1274.0,857.2 L1277.9,858.4 L1281.7,854.1 L1285.6,850.1 L1289.5,848.4 L1293.3,848.4 L1297.2,848.4 L1301.1,848.4 L1305.0,848.4 L1308.8,848.5 L1312.7,848.6 L1316.6,848.7 L1320.4,848.8 L1324.3,849.0 L1328.2,849.3 L1332.0,849.6 L1335.9,850.0 L1339.8,850.4 L1343.7,851.0 L1347.5,851.5 L1351.4,852.2 L1355.3,853.0 L1359.1,853.9 L1363.0,854.8" fill="none" stroke="#ff0000" stroke-width="3.5" stroke-linejoin="round" stroke-dasharray="7 19"/>
<path d="M202.0,702.6 L205.9,706.6 L209.7,710.5 L213.6,714.1 L217.5,717.7 L221.3,721.0 L225.2,724.2 L229.1,727.3 L233.0,730.3 L236.8,733.1 L240.7,735.9 L244.6,738.5 L248.4,741.0 L252.3,743.5 L256.2,745.8 L260.1,748.1 L263.9,750.3 L267.8,752.4 L271.7,754.4 L275.5,756.4 L279.4,758.3 L283.3,760.2 L287.1,762.0 L291.0,763.7 L294.9,765.4 L298.8,767.1 L302.6,768.7 L306.5,770.3 L310.4,771.8 L314.2,773.3 L318.1,774.7 L322.0,776.2 L325.8,777.5 L329.7,778.9 L333.6,780.2 L337.4,781.5 L341.3,782.8 L345.2,784.0 L349.1,785.3 L352.9,786.5 L356.8,787.6 L360.7,788.8 L364.5,789.9 L368.4,791.1 L372.3,792.2 L376.1,793.2 L380.0,794.3 L383.9,795.4 L387.8,796.4 L391.6,797.4 L395.5,798.4 L399.4,799.4 L403.2,800.4 L407.1,801.4 L411.0,802.3 L414.9,803.3 L418.7,804.2 L422.6,805.1 L426.5,806.0 L430.3,806.9 L434.2,807.8 L438.1,808.7 L441.9,809.6 L445.8,810.4 L449.7,811.3 L453.6,812.1 L457.4,813.0 L461.3,813.8 L465.2,814.6 L469.0,815.5 L472.9,816.3 L476.8,817.1 L480.6,817.9 L484.5,818.6 L488.4,819.4 L492.2,820.2 L496.1,821.0 L500.0,821.7 L503.9,822.5 L507.7,823.2 L511.6,824.0 L515.5,824.7 L519.3,825.4 L523.2,826.1 L527.1,826.9 L531.0,827.6 L534.8,828.3 L538.7,829.0 L542.6,829.7 L546.4,830.4 L550.3,831.0 L554.2,831.7 L558.0,832.4 L561.9,833.1 L565.8,833.7 L569.6,834.4 L573.5,835.0 L577.4,835.7 L581.3,836.3 L585.1,836.9 L589.0,837.6 L592.9,838.2 L596.7,838.8 L600.6,839.4 L604.5,840.0 L608.4,840.6 L612.2,841.2 L616.1,841.8 L620.0,842.4 L623.8,843.0 L627.7,843.6 L631.6,844.2 L635.4,844.7 L639.3,845.3 L643.2,845.9 L647.0,846.4 L650.9,847.0 L654.8,847.5 L658.7,848.1 L662.5,848.6 L666.4,849.1 L670.3,849.7 L674.1,850.2 L678.0,850.7 L681.9,851.2 L685.8,851.7 L689.6,852.2 L693.5,852.7 L697.4,853.2 L701.2,853.7 L705.1,854.2 L709.0,854.7 L712.8,855.2 L716.7,855.6 L720.6,856.1 L724.5,856.6 L728.3,857.0 L732.2,857.5 L736.1,858.0 L739.9,858.4 L743.8,858.9 L747.7,859.3 L751.5,859.7 L755.4,860.2 L759.3,860.6 L763.1,861.0 L767.0,861.4 L770.9,861.9 L774.8,862.3 L778.6,862.7 L782.5,863.1 L786.4,863.5 L790.2,863.9 L794.1,864.3 L798.0,864.7 L801.9,865.1 L805.7,865.4 L809.6,865.8 L813.5,866.2 L817.3,866.6 L821.2,866.9 L825.1,867.3 L828.9,867.7 L832.8,868.0 L836.7,868.4 L840.5,868.7 L844.4,869.1 L848.3,869.4 L852.2,869.7 L856.0,870.1 L859.9,870.4 L863.8,870.7 L867.6,871.0 L871.5,871.4 L875.4,871.7 L879.2,872.0 L883.1,872.3 L887.0,872.6 L890.9,872.9 L894.7,873.2 L898.6,873.5 L902.5,873.8 L906.3,874.1 L910.2,874.4 L914.1,874.7 L918.0,874.9 L921.8,875.2 L925.7,875.5 L929.6,875.8 L933.4,876.0 L937.3,876.3 L941.2,876.5 L945.0,876.8 L948.9,877.1 L952.8,877.3 L956.6,877.6 L960.5,877.8 L964.4,878.0 L968.3,878.3 L972.1,878.5 L976.0,878.7 L979.9,879.0 L983.7,879.2 L987.6,879.4 L991.5,879.7 L995.4,879.9 L999.2,880.1 L1003.1,880.3 L1007.0,880.5 L1010.8,880.7 L1014.7,880.9 L1018.6,881.1 L1022.4,881.3 L1026.3,881.5 L1030.2,881.7 L1034.0,881.9 L1037.9,882.1 L1041.8,882.3 L1045.7,882.5 L1049.5,882.6 L1053.4,882.8 L1057.3,883.0 L1061.1,883.2 L1065.0,883.3 L1068.9,883.5 L1072.8,883.7 L1076.6,883.8 L1080.5,884.0 L1084.4,884.2 L1088.2,884.3 L1092.1,884.5 L1096.0,884.6 L1099.8,884.8 L1103.7,884.9 L1107.6,885.1 L1111.5,885.2 L1115.3,885.3 L1119.2,885.5 L1123.1,885.6 L1126.9,885.7 L1130.8,885.9 L1134.7,886.0 L1138.5,886.1 L1142.4,886.3 L1146.3,886.4 L1150.2,886.5 L1154.0,886.6 L1157.9,886.7 L1161.8,886.8 L1165.6,887.0 L1169.5,887.1 L1173.4,887.2 L1177.2,887.3 L1181.1,887.4 L1185.0,887.5 L1188.8,887.6 L1192.7,887.7 L1196.6,887.8 L1200.5,887.9 L1204.3,888.0 L1208.2,888.1 L1212.1,888.1 L1215.9,888.2 L1219.8,888.3 L1223.7,888.4 L1227.5,888.5 L1231.4,888.6 L1235.3,888.6 L1239.2,888.7 L1243.0,888.8 L1246.9,888.9 L1250.8,888.9 L1254.6,889.0 L1258.5,889.1 L1262.4,889.1 L1266.2,889.6 L1270.1,889.0 L1274.0,888.6 L1277.9,889.7 L1281.7,889.0 L1285.6,889.2 L1289.5,890.2 L1293.3,891.2 L1297.2,894.0 L1301.1,886.2 L1305.0,889.9 L1308.8,881.9 L1312.7,886.9 L1316.6,888.8 L1320.4,892.7 L1324.3,883.5 L1328.2,892.5 L1332.0,881.5 L1335.9,892.4 L1339.8,888.9 L1343.7,900.4 L1347.5,873.2 L1351.4,890.9 L1355.3,893.4 L1359.1,883.2 L1363.0,898.4" fill="none" stroke="#ff0000" stroke-width="4.1" stroke-linejoin="round" stroke-dasharray="26 9 7 9"/>
<path d="M176,48.0 H1363.0 M176,964.0 H1363.0 M202.0,44.25 V990.0 M176,964.4 H202.0 M176,781.6 H202.0 M176,598.9 H202.0 M176,416.1 H202.0 M176,233.4 H202.0 M176,48.0 H202.0 M190,873.0 H202.0 M190,690.3 H202.0 M190,507.5 H202.0 M190,324.8 H202.0 M190,142.0 H202.0 M202.0,964.0 V990.0 M395.5,964.0 V990.0 M589.0,964.0 V990.0 M782.5,964.0 V990.0 M976.0,964.0 V990.0 M1169.5,964.0 V990.0 M1363.0,964.0 V990.0 M298.8,964.0 V977.0 M492.2,964.0 V977.0 M685.8,964.0 V977.0 M879.2,964.0 V977.0 M1072.8,964.0 V977.0 M1266.2,964.0 V977.0" fill="none" stroke="#000" stroke-width="7.5"/>
<path d="M1363.0,44.25 V967.75 M1363.0,964.4 H1389 M1363.0,781.6 H1389 M1363.0,598.9 H1389 M1363.0,416.1 H1389 M1363.0,233.4 H1389 M1363.0,48.0 H1389 M1363.0,873.0 H1376 M1363.0,690.3 H1376 M1363.0,507.5 H1376 M1363.0,324.8 H1376 M1363.0,142.0 H1376" fill="none" stroke="#ff0000" stroke-width="7.5"/>
<g font-family="Liberation Sans, Arial, sans-serif" font-size="61" fill="#000"><text transform="translate(159,983.9) scale(1,1.04)" text-anchor="end">0</text><text transform="translate(159,801.1) scale(1,1.04)" text-anchor="end">1</text><g transform="translate(159,801.1)"><rect x="-30.89" y="-5.49" width="12.08" height="6.99" fill="#fff"/><rect x="-13.08" y="-5.49" width="12.20" height="6.99" fill="#fff"/></g><text transform="translate(159,618.4) scale(1,1.04)" text-anchor="end">2</text><text transform="translate(159,435.6) scale(1,1.04)" text-anchor="end">3</text><text transform="translate(159,252.9) scale(1,1.04)" text-anchor="end">4</text><text transform="translate(159,67.5) scale(1,1.04)" text-anchor="end">5</text><text transform="translate(202.0,1056) scale(1,1.04)" text-anchor="middle">300</text><text transform="translate(395.5,1056) scale(1,1.04)" text-anchor="middle">400</text><text transform="translate(589.0,1056) scale(1,1.04)" text-anchor="middle">500</text><text transform="translate(782.5,1056) scale(1,1.04)" text-anchor="middle">600</text><text transform="translate(976.0,1056) scale(1,1.04)" text-anchor="middle">700</text><text transform="translate(1169.5,1056) scale(1,1.04)" text-anchor="middle">800</text><text transform="translate(1363.0,1056) scale(1,1.04)" text-anchor="middle">900</text></g>
<g font-family="Liberation Sans, Arial, sans-serif" font-size="61" fill="#ff0000"><text transform="translate(1405.5,983.9) scale(1,1.04)">0</text><text transform="translate(1405.5,801.1) scale(1,1.04)">0.2</text><text transform="translate(1405.5,618.4) scale(1,1.04)">0.4</text><text transform="translate(1405.5,435.6) scale(1,1.04)">0.6</text><text transform="translate(1405.5,252.9) scale(1,1.04)">0.8</text><text transform="translate(1405.5,67.5) scale(1,1.04)">1</text><rect x="1408.55" y="62.01" width="12.08" height="6.99" fill="#fff"/><rect x="1426.36" y="62.01" width="12.20" height="6.99" fill="#fff"/></g>
<text font-family="Liberation Sans, Arial, sans-serif" font-size="76.7" x="782.5" y="1123.5" text-anchor="middle">Wavelength (nm)</text>
<g transform="translate(95,992) rotate(-90)" font-family="Liberation Sans, Arial, sans-serif" fill="#000"><text font-size="77.1" x="0" y="0">Absorption coefficient (cm</text><text font-size="52" x="885.56" y="-34">−1</text><text font-size="77.1" x="946.36" y="0">)</text><rect x="918.53" y="-38.68" width="10.30" height="6.18" fill="#fff"/><rect x="933.72" y="-38.68" width="10.40" height="6.18" fill="#fff"/></g>
<g transform="translate(1586,978) rotate(-90)" font-family="Liberation Sans, Arial, sans-serif" fill="#ff0000"><text font-size="76.7" x="0" y="0">Scattering coefficient (cm</text><text font-size="52" x="859.56" y="-34">−1</text><text font-size="76.7" x="920.36" y="0">)</text><rect x="892.53" y="-38.68" width="10.30" height="6.18" fill="#fff"/><rect x="907.72" y="-38.68" width="10.40" height="6.18" fill="#fff"/></g>
<text font-family="Liberation Sans, Arial, sans-serif" font-size="76.7" x="214.5" y="125.5">(b)</text>
<text font-family="Liberation Sans, Arial, sans-serif" font-size="76.7" x="666.5" y="126.5" text-anchor="middle">Annealed</text>
<path d="M965.5,92 H1107.5" stroke="#000" stroke-width="3.2" fill="none"/>
<text font-family="Liberation Sans, Arial, sans-serif" font-size="61" transform="translate(1122,113.2) scale(1,1.06)">Day 0</text>
<path d="M965.5,168 H1107.5" stroke="#000" stroke-width="3.2" fill="none" stroke-dasharray="25 19"/>
<text font-family="Liberation Sans, Arial, sans-serif" font-size="61" transform="translate(1122,189.2) scale(1,1.06)">Day 60</text>
<path d="M965.5,244 H1107.5" stroke="#000" stroke-width="3.2" fill="none" stroke-dasharray="8 19"/>
<text font-family="Liberation Sans, Arial, sans-serif" font-size="61" transform="translate(1122,265.2) scale(1,1.06)">Day 120</text>
<g transform="translate(0,265.2) scale(1,1.06)"><rect x="1250.50" y="-5.49" width="12.08" height="6.99" fill="#fff"/><rect x="1268.31" y="-5.49" width="12.20" height="6.99" fill="#fff"/></g>
<path d="M965.5,319.5 H1107.5" stroke="#000" stroke-width="4.8" fill="none" stroke-dasharray="27 10.5 8 8.8"/>
<text font-family="Liberation Sans, Arial, sans-serif" font-size="61" transform="translate(1122,340.7) scale(1,1.06)">Day 809</text>
</g>
<g transform="translate(0,2300)">
<path d="M202.0,334.5 L205.9,341.8 L209.7,349.0 L213.6,356.0 L217.5,362.8 L221.3,369.4 L225.2,375.9 L229.1,382.2 L233.0,388.3 L236.8,394.3 L240.7,400.2 L244.6,405.9 L248.4,411.4 L252.3,416.8 L256.2,422.1 L260.1,427.3 L263.9,432.4 L267.8,437.3 L271.7,442.2 L275.5,446.9 L279.4,451.5 L283.3,456.0 L287.1,460.4 L291.0,464.7 L294.9,469.0 L298.8,473.1 L302.6,477.2 L306.5,481.1 L310.4,485.0 L314.2,488.8 L318.1,492.5 L322.0,496.2 L325.8,499.7 L329.7,503.3 L333.6,506.7 L337.4,510.1 L341.3,513.4 L345.2,516.6 L349.1,519.8 L352.9,522.9 L356.8,525.9 L360.7,528.9 L364.5,531.9 L368.4,534.8 L372.3,537.6 L376.1,540.4 L380.0,543.1 L383.9,545.8 L387.8,548.5 L391.6,551.0 L395.5,553.6 L399.4,556.1 L403.2,558.6 L407.1,561.0 L411.0,563.4 L414.9,565.7 L418.7,568.0 L422.6,570.2 L426.5,572.5 L430.3,574.7 L434.2,576.8 L438.1,578.9 L441.9,581.0 L445.8,583.1 L449.7,585.1 L453.6,587.1 L457.4,589.0 L461.3,590.9 L465.2,592.8 L469.0,594.7 L472.9,596.5 L476.8,598.3 L480.6,600.1 L484.5,601.9 L488.4,603.6 L492.2,605.3 L496.1,607.0 L500.0,608.6 L503.9,610.3 L507.7,611.9 L511.6,613.5 L515.5,615.0 L519.3,616.6 L523.2,618.1 L527.1,619.6 L531.0,621.1 L534.8,622.5 L538.7,624.0 L542.6,625.4 L546.4,626.8 L550.3,628.1 L554.2,629.5 L558.0,630.8 L561.9,632.2 L565.8,633.5 L569.6,634.8 L573.5,636.0 L577.4,637.3 L581.3,638.5 L585.1,639.8 L589.0,641.0 L592.9,642.2 L596.7,643.3 L600.6,644.5 L604.5,645.6 L608.4,646.8 L612.2,647.9 L616.1,649.0 L620.0,650.1 L623.8,651.2 L627.7,652.2 L631.6,653.3 L635.4,654.3 L639.3,655.4 L643.2,656.4 L647.0,657.4 L650.9,658.4 L654.8,659.4 L658.7,660.3 L662.5,661.3 L666.4,662.2 L670.3,663.2 L674.1,664.1 L678.0,665.0 L681.9,665.9 L685.8,666.8 L689.6,667.7 L693.5,668.6 L697.4,669.4 L701.2,670.3 L705.1,671.1 L709.0,672.0 L712.8,672.8 L716.7,673.6 L720.6,674.4 L724.5,675.2 L728.3,676.0 L732.2,676.8 L736.1,677.6 L739.9,678.3 L743.8,679.1 L747.7,679.8 L751.5,680.6 L755.4,681.3 L759.3,682.0 L763.1,682.8 L767.0,683.5 L770.9,684.2 L774.8,684.9 L778.6,685.6 L782.5,686.2 L786.4,686.9 L790.2,687.6 L794.1,688.2 L798.0,688.9 L801.9,689.6 L805.7,690.2 L809.6,690.8 L813.5,691.5 L817.3,692.1 L821.2,692.7 L825.1,693.3 L828.9,693.9 L832.8,694.5 L836.7,695.1 L840.5,695.7 L844.4,696.3 L848.3,696.9 L852.2,697.4 L856.0,698.0 L859.9,698.6 L863.8,699.1 L867.6,699.7 L871.5,700.2 L875.4,700.7 L879.2,701.3 L883.1,701.8 L887.0,702.3 L890.9,702.9 L894.7,703.4 L898.6,703.9 L902.5,704.4 L906.3,704.9 L910.2,705.4 L914.1,705.9 L918.0,706.4 L921.8,706.8 L925.7,707.3 L929.6,707.8 L933.4,708.3 L937.3,708.7 L941.2,709.2 L945.0,709.7 L948.9,710.1 L952.8,710.6 L956.6,711.0 L960.5,711.4 L964.4,711.9 L968.3,712.3 L972.1,712.8 L976.0,713.2 L979.9,713.6 L983.7,714.0 L987.6,714.4 L991.5,714.9 L995.4,715.3 L999.2,715.7 L1003.1,716.1 L1007.0,716.5 L1010.8,716.9 L1014.7,717.3 L1018.6,717.6 L1022.4,718.0 L1026.3,718.4 L1030.2,718.8 L1034.0,719.2 L1037.9,719.5 L1041.8,719.9 L1045.7,720.3 L1049.5,720.6 L1053.4,721.0 L1057.3,721.4 L1061.1,721.7 L1065.0,722.1 L1068.9,722.4 L1072.8,722.8 L1076.6,723.1 L1080.5,723.5 L1084.4,723.8 L1088.2,724.1 L1092.1,724.5 L1096.0,724.8 L1099.8,725.1 L1103.7,725.4 L1107.6,725.8 L1111.5,726.1 L1115.3,726.4 L1119.2,726.7 L1123.1,727.0 L1126.9,727.3 L1130.8,727.7 L1134.7,728.0 L1138.5,728.3 L1142.4,728.6 L1146.3,728.9 L1150.2,729.2 L1154.0,729.5 L1157.9,729.7 L1161.8,730.0 L1165.6,730.3 L1169.5,730.6 L1173.4,730.9 L1177.2,731.2 L1181.1,731.4 L1185.0,731.7 L1188.8,732.0 L1192.7,732.3 L1196.6,732.5 L1200.5,732.8 L1204.3,733.1 L1208.2,733.3 L1212.1,733.6 L1215.9,733.9 L1219.8,734.1 L1223.7,734.4 L1227.5,734.6 L1231.4,734.9 L1235.3,735.1 L1239.2,735.4 L1243.0,735.6 L1246.9,735.9 L1250.8,736.1 L1254.6,736.4 L1258.5,736.6 L1262.4,736.9 L1266.2,737.1 L1270.1,737.3 L1274.0,737.6 L1277.9,737.8 L1281.7,738.0 L1285.6,738.3 L1289.5,738.5 L1293.3,738.8 L1297.2,738.9 L1301.1,739.2 L1305.0,739.3 L1308.8,739.1 L1312.7,739.2 L1316.6,739.6 L1320.4,740.8 L1324.3,741.4 L1328.2,741.9 L1332.0,741.5 L1335.9,741.2 L1339.8,743.4 L1343.7,744.2 L1347.5,740.9 L1351.4,747.2 L1355.3,742.7 L1359.1,740.9 L1363.0,746.1" fill="none" stroke="#000" stroke-width="3.5" stroke-linejoin="round"/>
<path d="M202.0,283.1 L205.9,288.6 L209.7,294.1 L213.6,299.5 L217.5,304.8 L221.3,309.9 L225.2,315.0 L229.1,320.0 L233.0,325.0 L236.8,329.8 L240.7,334.6 L244.6,339.2 L248.4,343.8 L252.3,348.3 L256.2,352.8 L260.1,357.1 L263.9,361.4 L267.8,365.6 L271.7,369.7 L275.5,373.8 L279.4,377.8 L283.3,381.7 L287.1,385.6 L291.0,389.4 L294.9,393.1 L298.8,396.8 L302.6,400.4 L306.5,404.0 L310.4,407.5 L314.2,410.9 L318.1,414.3 L322.0,417.6 L325.8,420.9 L329.7,424.1 L333.6,427.3 L337.4,430.4 L341.3,433.5 L345.2,436.5 L349.1,439.5 L352.9,442.4 L356.8,445.3 L360.7,448.2 L364.5,451.0 L368.4,453.7 L372.3,456.4 L376.1,459.1 L380.0,461.7 L383.9,464.3 L387.8,466.9 L391.6,469.4 L395.5,471.8 L399.4,474.3 L403.2,476.7 L407.1,479.1 L411.0,481.4 L414.9,483.7 L418.7,486.0 L422.6,488.2 L426.5,490.4 L430.3,492.6 L434.2,494.7 L438.1,496.8 L441.9,498.9 L445.8,501.0 L449.7,503.0 L453.6,505.0 L457.4,506.9 L461.3,508.9 L465.2,510.8 L469.0,512.7 L472.9,514.6 L476.8,516.4 L480.6,518.2 L484.5,520.0 L488.4,521.8 L492.2,523.5 L496.1,525.3 L500.0,527.0 L503.9,528.6 L507.7,530.3 L511.6,531.9 L515.5,533.6 L519.3,535.2 L523.2,536.7 L527.1,538.3 L531.0,539.8 L534.8,541.4 L538.7,542.9 L542.6,544.3 L546.4,545.8 L550.3,547.3 L554.2,548.7 L558.0,550.1 L561.9,551.5 L565.8,552.9 L569.6,554.3 L573.5,555.6 L577.4,556.9 L581.3,558.3 L585.1,559.6 L589.0,560.9 L592.9,562.1 L596.7,563.4 L600.6,564.7 L604.5,565.9 L608.4,567.1 L612.2,568.3 L616.1,569.5 L620.0,570.7 L623.8,571.9 L627.7,573.0 L631.6,574.2 L635.4,575.3 L639.3,576.4 L643.2,577.5 L647.0,578.6 L650.9,579.7 L654.8,580.8 L658.7,581.9 L662.5,582.9 L666.4,584.0 L670.3,585.0 L674.1,586.0 L678.0,587.0 L681.9,588.0 L685.8,589.0 L689.6,590.0 L693.5,591.0 L697.4,592.0 L701.2,592.9 L705.1,593.9 L709.0,594.8 L712.8,595.7 L716.7,596.7 L720.6,597.6 L724.5,598.5 L728.3,599.4 L732.2,600.3 L736.1,601.1 L739.9,602.0 L743.8,602.9 L747.7,603.7 L751.5,604.6 L755.4,605.4 L759.3,606.3 L763.1,607.1 L767.0,607.9 L770.9,608.7 L774.8,609.5 L778.6,610.3 L782.5,611.1 L786.4,611.9 L790.2,612.7 L794.1,613.5 L798.0,614.2 L801.9,615.0 L805.7,615.8 L809.6,616.5 L813.5,617.3 L817.3,618.0 L821.2,618.7 L825.1,619.4 L828.9,620.2 L832.8,620.9 L836.7,621.6 L840.5,622.3 L844.4,623.0 L848.3,623.7 L852.2,624.4 L856.0,625.1 L859.9,625.7 L863.8,626.4 L867.6,627.1 L871.5,627.7 L875.4,628.4 L879.2,629.0 L883.1,629.7 L887.0,630.3 L890.9,631.0 L894.7,631.6 L898.6,632.2 L902.5,632.9 L906.3,633.5 L910.2,634.1 L914.1,634.7 L918.0,635.3 L921.8,635.9 L925.7,636.5 L929.6,637.1 L933.4,637.7 L937.3,638.3 L941.2,638.9 L945.0,639.4 L948.9,640.0 L952.8,640.6 L956.6,641.2 L960.5,641.7 L964.4,642.3 L968.3,642.8 L972.1,643.4 L976.0,643.9 L979.9,644.5 L983.7,645.0 L987.6,645.6 L991.5,646.1 L995.4,646.6 L999.2,647.2 L1003.1,647.7 L1007.0,648.2 L1010.8,648.7 L1014.7,649.3 L1018.6,649.8 L1022.4,650.3 L1026.3,650.8 L1030.2,651.3 L1034.0,651.8 L1037.9,652.3 L1041.8,652.8 L1045.7,653.3 L1049.5,653.8 L1053.4,654.2 L1057.3,654.7 L1061.1,655.2 L1065.0,655.7 L1068.9,656.2 L1072.8,656.6 L1076.6,657.1 L1080.5,657.6 L1084.4,658.0 L1088.2,658.5 L1092.1,659.0 L1096.0,659.4 L1099.8,659.9 L1103.7,660.3 L1107.6,660.8 L1111.5,661.2 L1115.3,661.7 L1119.2,662.1 L1123.1,662.5 L1126.9,663.0 L1130.8,663.4 L1134.7,663.8 L1138.5,664.3 L1142.4,664.7 L1146.3,665.1 L1150.2,665.5 L1154.0,666.0 L1157.9,666.4 L1161.8,666.8 L1165.6,667.2 L1169.5,667.6 L1173.4,668.0 L1177.2,668.4 L1181.1,668.8 L1185.0,669.3 L1188.8,669.7 L1192.7,670.1 L1196.6,670.5 L1200.5,670.8 L1204.3,671.2 L1208.2,671.6 L1212.1,672.0 L1215.9,672.4 L1219.8,672.8 L1223.7,673.2 L1227.5,673.6 L1231.4,673.9 L1235.3,674.3 L1239.2,674.7 L1243.0,675.1 L1246.9,675.5 L1250.8,675.8 L1254.6,676.2 L1258.5,676.6 L1262.4,676.9 L1266.2,677.3 L1270.1,677.7 L1274.0,678.0 L1277.9,678.4 L1281.7,678.7 L1285.6,679.1 L1289.5,679.5 L1293.3,679.8 L1297.2,680.2 L1301.1,680.5 L1305.0,680.9 L1308.8,681.2 L1312.7,681.6 L1316.6,681.9 L1320.4,682.2 L1324.3,682.6 L1328.2,682.9 L1332.0,683.3 L1335.9,683.6 L1339.8,683.9 L1343.7,684.3 L1347.5,684.6 L1351.4,684.9 L1355.3,685.3 L1359.1,685.6 L1363.0,685.9" fill="none" stroke="#000" stroke-width="3.5" stroke-linejoin="round" stroke-dasharray="24 18"/>
<path d="M202.0,180.5 L205.9,188.3 L209.7,195.8 L213.6,203.2 L217.5,210.5 L221.3,217.6 L225.2,224.5 L229.1,231.3 L233.0,238.0 L236.8,244.5 L240.7,250.9 L244.6,257.2 L248.4,263.3 L252.3,269.4 L256.2,275.3 L260.1,281.1 L263.9,286.8 L267.8,292.4 L271.7,297.9 L275.5,303.2 L279.4,308.5 L283.3,313.7 L287.1,318.8 L291.0,323.8 L294.9,328.7 L298.8,333.5 L302.6,338.3 L306.5,342.9 L310.4,347.5 L314.2,352.0 L318.1,356.4 L322.0,360.8 L325.8,365.0 L329.7,369.2 L333.6,373.4 L337.4,377.4 L341.3,381.4 L345.2,385.4 L349.1,389.2 L352.9,393.0 L356.8,396.8 L360.7,400.4 L364.5,404.1 L368.4,407.6 L372.3,411.1 L376.1,414.6 L380.0,418.0 L383.9,421.3 L387.8,424.6 L391.6,427.9 L395.5,431.1 L399.4,434.2 L403.2,437.3 L407.1,440.4 L411.0,443.4 L414.9,446.3 L418.7,449.2 L422.6,452.1 L426.5,454.9 L430.3,457.7 L434.2,460.5 L438.1,463.2 L441.9,465.9 L445.8,468.5 L449.7,471.1 L453.6,473.6 L457.4,476.2 L461.3,478.7 L465.2,481.1 L469.0,483.5 L472.9,485.9 L476.8,488.3 L480.6,490.6 L484.5,492.9 L488.4,495.1 L492.2,497.3 L496.1,499.5 L500.0,501.7 L503.9,503.8 L507.7,505.9 L511.6,508.0 L515.5,510.1 L519.3,512.1 L523.2,514.1 L527.1,516.1 L531.0,518.0 L534.8,519.9 L538.7,521.8 L542.6,523.7 L546.4,525.5 L550.3,527.3 L554.2,529.1 L558.0,530.9 L561.9,532.7 L565.8,534.4 L569.6,536.1 L573.5,537.8 L577.4,539.4 L581.3,541.1 L585.1,542.7 L589.0,544.3 L592.9,545.9 L596.7,547.5 L600.6,549.0 L604.5,550.5 L608.4,552.0 L612.2,553.5 L616.1,555.0 L620.0,556.4 L623.8,557.9 L627.7,559.3 L631.6,560.7 L635.4,562.1 L639.3,563.4 L643.2,564.8 L647.0,566.1 L650.9,567.4 L654.8,568.7 L658.7,570.0 L662.5,571.3 L666.4,572.5 L670.3,573.8 L674.1,575.0 L678.0,576.2 L681.9,577.4 L685.8,578.6 L689.6,579.8 L693.5,580.9 L697.4,582.1 L701.2,583.2 L705.1,584.3 L709.0,585.4 L712.8,586.5 L716.7,587.6 L720.6,588.7 L724.5,589.7 L728.3,590.8 L732.2,591.8 L736.1,592.8 L739.9,593.8 L743.8,594.8 L747.7,595.8 L751.5,596.8 L755.4,597.7 L759.3,598.7 L763.1,599.6 L767.0,600.6 L770.9,601.5 L774.8,602.4 L778.6,603.3 L782.5,604.2 L786.4,605.1 L790.2,606.0 L794.1,606.8 L798.0,607.7 L801.9,608.5 L805.7,609.4 L809.6,610.2 L813.5,611.0 L817.3,611.8 L821.2,612.6 L825.1,613.4 L828.9,614.2 L832.8,615.0 L836.7,615.7 L840.5,616.5 L844.4,617.2 L848.3,618.0 L852.2,618.7 L856.0,619.4 L859.9,620.1 L863.8,620.9 L867.6,621.6 L871.5,622.3 L875.4,622.9 L879.2,623.6 L883.1,624.3 L887.0,625.0 L890.9,625.6 L894.7,626.3 L898.6,626.9 L902.5,627.6 L906.3,628.2 L910.2,628.8 L914.1,629.5 L918.0,630.1 L921.8,630.7 L925.7,631.3 L929.6,631.9 L933.4,632.5 L937.3,633.0 L941.2,633.6 L945.0,634.2 L948.9,634.8 L952.8,635.3 L956.6,635.9 L960.5,636.4 L964.4,637.0 L968.3,637.5 L972.1,638.0 L976.0,638.6 L979.9,639.1 L983.7,639.6 L987.6,640.1 L991.5,640.6 L995.4,641.1 L999.2,641.6 L1003.1,642.1 L1007.0,642.6 L1010.8,643.1 L1014.7,643.6 L1018.6,644.0 L1022.4,644.5 L1026.3,645.0 L1030.2,645.4 L1034.0,645.9 L1037.9,646.3 L1041.8,646.8 L1045.7,647.2 L1049.5,647.6 L1053.4,648.1 L1057.3,648.5 L1061.1,648.9 L1065.0,649.4 L1068.9,649.8 L1072.8,650.2 L1076.6,650.6 L1080.5,651.0 L1084.4,651.4 L1088.2,651.8 L1092.1,652.2 L1096.0,652.6 L1099.8,653.0 L1103.7,653.3 L1107.6,653.7 L1111.5,654.1 L1115.3,654.5 L1119.2,654.8 L1123.1,655.2 L1126.9,655.5 L1130.8,655.9 L1134.7,656.2 L1138.5,656.6 L1142.4,656.9 L1146.3,657.3 L1150.2,657.6 L1154.0,658.0 L1157.9,658.3 L1161.8,658.6 L1165.6,659.0 L1169.5,659.3 L1173.4,659.6 L1177.2,659.9 L1181.1,660.2 L1185.0,660.5 L1188.8,660.8 L1192.7,661.2 L1196.6,661.5 L1200.5,661.8 L1204.3,662.1 L1208.2,662.3 L1212.1,662.6 L1215.9,662.9 L1219.8,663.2 L1223.7,663.5 L1227.5,663.8 L1231.4,664.1 L1235.3,664.3 L1239.2,664.6 L1243.0,664.9 L1246.9,665.1 L1250.8,665.4 L1254.6,665.7 L1258.5,665.9 L1262.4,666.2 L1266.2,666.4 L1270.1,666.7 L1274.0,666.9 L1277.9,667.2 L1281.7,667.4 L1285.6,667.7 L1289.5,667.9 L1293.3,668.2 L1297.2,668.4 L1301.1,668.6 L1305.0,668.9 L1308.8,669.1 L1312.7,669.3 L1316.6,669.6 L1320.4,669.8 L1324.3,670.0 L1328.2,670.2 L1332.0,670.4 L1335.9,670.7 L1339.8,670.9 L1343.7,671.1 L1347.5,671.3 L1351.4,671.5 L1355.3,671.7 L1359.1,671.9 L1363.0,672.1" fill="none" stroke="#000" stroke-width="3.5" stroke-linejoin="round" stroke-dasharray="7 19"/>
<path d="M202.0,193.2 L205.9,200.6 L209.7,207.9 L213.6,215.1 L217.5,222.2 L221.3,229.2 L225.2,236.1 L229.1,242.9 L233.0,249.6 L236.8,256.3 L240.7,262.8 L244.6,269.2 L248.4,275.6 L252.3,281.8 L256.2,287.9 L260.1,294.0 L263.9,299.9 L267.8,305.8 L271.7,311.5 L275.5,317.2 L279.4,322.7 L283.3,328.2 L287.1,333.6 L291.0,338.8 L294.9,344.0 L298.8,349.1 L302.6,354.1 L306.5,359.1 L310.4,363.9 L314.2,368.7 L318.1,373.3 L322.0,377.9 L325.8,382.4 L329.7,386.8 L333.6,391.2 L337.4,395.5 L341.3,399.7 L345.2,403.8 L349.1,407.8 L352.9,411.8 L356.8,415.7 L360.7,419.5 L364.5,423.3 L368.4,427.0 L372.3,430.6 L376.1,434.2 L380.0,437.7 L383.9,441.1 L387.8,444.5 L391.6,447.8 L395.5,451.1 L399.4,454.2 L403.2,457.4 L407.1,460.5 L411.0,463.5 L414.9,466.5 L418.7,469.4 L422.6,472.3 L426.5,475.1 L430.3,477.9 L434.2,480.6 L438.1,483.3 L441.9,485.9 L445.8,488.5 L449.7,491.0 L453.6,493.5 L457.4,496.0 L461.3,498.4 L465.2,500.8 L469.0,503.1 L472.9,505.4 L476.8,507.6 L480.6,509.8 L484.5,512.0 L488.4,514.2 L492.2,516.3 L496.1,518.3 L500.0,520.4 L503.9,522.4 L507.7,524.3 L511.6,526.3 L515.5,528.2 L519.3,530.1 L523.2,531.9 L527.1,533.7 L531.0,535.5 L534.8,537.3 L538.7,539.0 L542.6,540.7 L546.4,542.4 L550.3,544.0 L554.2,545.6 L558.0,547.2 L561.9,548.8 L565.8,550.4 L569.6,551.9 L573.5,553.4 L577.4,554.9 L581.3,556.3 L585.1,557.8 L589.0,559.2 L592.9,560.6 L596.7,562.0 L600.6,563.3 L604.5,564.6 L608.4,566.0 L612.2,567.3 L616.1,568.5 L620.0,569.8 L623.8,571.0 L627.7,572.3 L631.6,573.5 L635.4,574.7 L639.3,575.9 L643.2,577.0 L647.0,578.2 L650.9,579.3 L654.8,580.4 L658.7,581.5 L662.5,582.6 L666.4,583.7 L670.3,584.7 L674.1,585.8 L678.0,586.8 L681.9,587.8 L685.8,588.8 L689.6,589.8 L693.5,590.8 L697.4,591.8 L701.2,592.7 L705.1,593.7 L709.0,594.6 L712.8,595.6 L716.7,596.5 L720.6,597.4 L724.5,598.3 L728.3,599.2 L732.2,600.0 L736.1,600.9 L739.9,601.7 L743.8,602.6 L747.7,603.4 L751.5,604.3 L755.4,605.1 L759.3,605.9 L763.1,606.7 L767.0,607.5 L770.9,608.3 L774.8,609.0 L778.6,609.8 L782.5,610.6 L786.4,611.3 L790.2,612.1 L794.1,612.8 L798.0,613.5 L801.9,614.3 L805.7,615.0 L809.6,615.7 L813.5,616.4 L817.3,617.1 L821.2,617.8 L825.1,618.5 L828.9,619.1 L832.8,619.8 L836.7,620.5 L840.5,621.1 L844.4,621.8 L848.3,622.4 L852.2,623.1 L856.0,623.7 L859.9,624.4 L863.8,625.0 L867.6,625.6 L871.5,626.2 L875.4,626.8 L879.2,627.4 L883.1,628.0 L887.0,628.6 L890.9,629.2 L894.7,629.8 L898.6,630.4 L902.5,631.0 L906.3,631.6 L910.2,632.2 L914.1,632.7 L918.0,633.3 L921.8,633.8 L925.7,634.4 L929.6,635.0 L933.4,635.5 L937.3,636.1 L941.2,636.6 L945.0,637.1 L948.9,637.7 L952.8,638.2 L956.6,638.7 L960.5,639.3 L964.4,639.8 L968.3,640.3 L972.1,640.8 L976.0,641.3 L979.9,641.8 L983.7,642.3 L987.6,642.8 L991.5,643.3 L995.4,643.8 L999.2,644.3 L1003.1,644.8 L1007.0,645.3 L1010.8,645.8 L1014.7,646.3 L1018.6,646.8 L1022.4,647.2 L1026.3,647.7 L1030.2,648.2 L1034.0,648.7 L1037.9,649.1 L1041.8,649.6 L1045.7,650.1 L1049.5,650.5 L1053.4,651.0 L1057.3,651.5 L1061.1,651.9 L1065.0,652.4 L1068.9,652.8 L1072.8,653.3 L1076.6,653.7 L1080.5,654.2 L1084.4,654.6 L1088.2,655.0 L1092.1,655.5 L1096.0,655.9 L1099.8,656.4 L1103.7,656.8 L1107.6,657.2 L1111.5,657.7 L1115.3,658.1 L1119.2,658.5 L1123.1,658.9 L1126.9,659.4 L1130.8,659.8 L1134.7,660.2 L1138.5,660.6 L1142.4,661.0 L1146.3,661.5 L1150.2,661.9 L1154.0,662.3 L1157.9,662.7 L1161.8,663.1 L1165.6,663.5 L1169.5,663.9 L1173.4,664.3 L1177.2,664.7 L1181.1,665.1 L1185.0,665.5 L1188.8,665.9 L1192.7,666.3 L1196.6,666.7 L1200.5,667.1 L1204.3,667.5 L1208.2,667.9 L1212.1,668.3 L1215.9,668.7 L1219.8,669.1 L1223.7,669.5 L1227.5,669.9 L1231.4,670.3 L1235.3,670.6 L1239.2,671.0 L1243.0,671.4 L1246.9,671.8 L1250.8,672.2 L1254.6,672.6 L1258.5,672.9 L1262.4,673.3 L1266.2,673.7 L1270.1,674.1 L1274.0,674.4 L1277.9,674.8 L1281.7,675.2 L1285.6,675.6 L1289.5,675.9 L1293.3,676.2 L1297.2,676.8 L1301.1,677.1 L1305.0,677.6 L1308.8,677.4 L1312.7,678.2 L1316.6,677.8 L1320.4,680.9 L1324.3,677.2 L1328.2,679.7 L1332.0,678.8 L1335.9,680.6 L1339.8,681.5 L1343.7,679.9 L1347.5,679.2 L1351.4,682.3 L1355.3,682.6 L1359.1,680.1 L1363.0,686.0" fill="none" stroke="#000" stroke-width="4.1" stroke-linejoin="round" stroke-dasharray="26 9 7 9"/>
<path d="M202.0,715.9 L205.9,719.2 L209.7,721.2 L213.6,722.0 L217.5,722.2 L221.3,719.7 L225.2,705.7 L229.1,694.4 L233.0,694.9 L236.8,698.0 L240.7,702.0 L244.6,705.6 L248.4,707.6 L252.3,709.2 L256.2,710.4 L260.1,711.2 L263.9,712.4 L267.8,713.6 L271.7,714.9 L275.5,716.2 L279.4,717.5 L283.3,718.8 L287.1,720.2 L291.0,721.6 L294.9,723.1 L298.8,724.5 L302.6,726.0 L306.5,727.4 L310.4,728.9 L314.2,730.4 L318.1,731.9 L322.0,733.4 L325.8,734.8 L329.7,736.3 L333.6,737.8 L337.4,739.3 L341.3,740.8 L345.2,742.2 L349.1,743.7 L352.9,745.1 L356.8,746.6 L360.7,748.0 L364.5,749.4 L368.4,750.9 L372.3,752.2 L376.1,753.6 L380.0,755.0 L383.9,756.4 L387.8,757.7 L391.6,759.0 L395.5,760.4 L399.4,761.7 L403.2,763.0 L407.1,764.2 L411.0,765.5 L414.9,766.7 L418.7,768.0 L422.6,769.2 L426.5,770.4 L430.3,771.5 L434.2,772.7 L438.1,773.9 L441.9,775.0 L445.8,776.1 L449.7,777.2 L453.6,778.3 L457.4,779.4 L461.3,780.4 L465.2,781.5 L469.0,782.5 L472.9,783.5 L476.8,784.5 L480.6,785.5 L484.5,786.5 L488.4,787.4 L492.2,788.4 L496.1,789.3 L500.0,790.2 L503.9,791.1 L507.7,792.0 L511.6,792.9 L515.5,793.7 L519.3,794.6 L523.2,795.4 L527.1,796.3 L531.0,797.1 L534.8,797.9 L538.7,798.7 L542.6,799.4 L546.4,800.2 L550.3,801.0 L554.2,801.7 L558.0,802.4 L561.9,803.2 L565.8,803.9 L569.6,804.6 L573.5,805.3 L577.4,805.9 L581.3,806.6 L585.1,807.3 L589.0,807.9 L592.9,808.6 L596.7,809.2 L600.6,809.8 L604.5,810.4 L608.4,811.1 L612.2,811.7 L616.1,812.3 L620.0,812.8 L623.8,813.4 L627.7,814.0 L631.6,814.5 L635.4,815.1 L639.3,815.6 L643.2,816.2 L647.0,816.7 L650.9,817.2 L654.8,817.8 L658.7,818.3 L662.5,818.8 L666.4,819.3 L670.3,819.8 L674.1,820.3 L678.0,820.7 L681.9,821.2 L685.8,821.7 L689.6,822.2 L693.5,822.6 L697.4,823.1 L701.2,823.5 L705.1,824.0 L709.0,824.4 L712.8,824.9 L716.7,825.3 L720.6,825.7 L724.5,826.1 L728.3,826.6 L732.2,827.0 L736.1,827.4 L739.9,827.8 L743.8,828.2 L747.7,828.6 L751.5,829.0 L755.4,829.4 L759.3,829.7 L763.1,830.1 L767.0,830.5 L770.9,830.9 L774.8,831.3 L778.6,831.6 L782.5,832.0 L786.4,832.4 L790.2,832.7 L794.1,833.1 L798.0,833.4 L801.9,833.8 L805.7,834.1 L809.6,834.5 L813.5,834.8 L817.3,835.2 L821.2,835.5 L825.1,835.8 L828.9,836.2 L832.8,836.5 L836.7,836.8 L840.5,837.2 L844.4,837.5 L848.3,837.8 L852.2,838.1 L856.0,838.5 L859.9,838.8 L863.8,839.1 L867.6,839.4 L871.5,839.7 L875.4,840.0 L879.2,840.3 L883.1,840.6 L887.0,840.9 L890.9,841.3 L894.7,841.6 L898.6,841.9 L902.5,842.2 L906.3,842.5 L910.2,842.8 L914.1,843.0 L918.0,843.3 L921.8,843.6 L925.7,843.9 L929.6,844.2 L933.4,844.5 L937.3,844.8 L941.2,845.1 L945.0,845.4 L948.9,845.7 L952.8,845.9 L956.6,846.2 L960.5,846.5 L964.4,846.8 L968.3,847.1 L972.1,847.4 L976.0,847.6 L979.9,847.9 L983.7,848.2 L987.6,848.5 L991.5,848.7 L995.4,849.0 L999.2,849.3 L1003.1,849.6 L1007.0,849.8 L1010.8,850.1 L1014.7,850.4 L1018.6,850.7 L1022.4,850.9 L1026.3,851.2 L1030.2,851.5 L1034.0,851.7 L1037.9,852.0 L1041.8,852.3 L1045.7,852.5 L1049.5,852.8 L1053.4,853.1 L1057.3,853.3 L1061.1,853.6 L1065.0,853.9 L1068.9,854.1 L1072.8,854.4 L1076.6,854.7 L1080.5,854.9 L1084.4,855.2 L1088.2,855.5 L1092.1,855.7 L1096.0,856.0 L1099.8,856.3 L1103.7,856.5 L1107.6,856.8 L1111.5,857.0 L1115.3,857.3 L1119.2,857.6 L1123.1,857.8 L1126.9,858.1 L1130.8,858.4 L1134.7,858.6 L1138.5,858.8 L1142.4,859.1 L1146.3,859.2 L1150.2,859.9 L1154.0,860.1 L1157.9,860.6 L1161.8,860.5 L1165.6,860.2 L1169.5,861.0 L1173.4,860.9 L1177.2,862.8 L1181.1,861.6 L1185.0,862.8 L1188.8,860.5 L1192.7,861.6 L1196.6,861.7 L1200.5,863.1 L1204.3,862.4 L1208.2,862.6 L1212.1,864.3 L1215.9,864.9 L1219.8,864.5 L1223.7,865.8 L1227.5,866.1 L1231.4,865.7 L1235.3,867.0 L1239.2,863.7 L1243.0,870.0 L1246.9,863.9 L1250.8,866.5 L1254.6,867.2 L1258.5,867.0 L1262.4,867.5 L1266.2,867.1 L1270.1,868.9 L1274.0,867.6 L1277.9,861.8 L1281.7,866.7 L1285.6,871.5 L1289.5,863.5 L1293.3,870.0 L1297.2,865.1 L1301.1,864.7 L1305.0,873.5 L1308.8,889.5 L1312.7,874.3 L1316.6,864.2 L1320.4,875.9 L1324.3,865.1 L1328.2,856.8 L1332.0,880.5 L1335.9,850.9 L1339.8,842.6 L1343.7,851.5 L1347.5,848.7 L1351.4,849.1 L1355.3,821.3 L1359.1,869.1 L1363.0,873.8" fill="none" stroke="#ff0000" stroke-width="3.5" stroke-linejoin="round"/>
<path d="M202.0,832.4 L205.9,831.6 L209.7,831.0 L213.6,830.4 L217.5,829.9 L221.3,829.5 L225.2,829.1 L229.1,828.8 L233.0,828.6 L236.8,828.5 L240.7,828.4 L244.6,828.3 L248.4,828.3 L252.3,828.3 L256.2,828.4 L260.1,828.6 L263.9,828.7 L267.8,828.9 L271.7,829.2 L275.5,829.5 L279.4,829.8 L283.3,830.1 L287.1,830.5 L291.0,830.9 L294.9,831.3 L298.8,831.7 L302.6,832.1 L306.5,832.6 L310.4,833.1 L314.2,833.6 L318.1,834.1 L322.0,834.7 L325.8,835.2 L329.7,835.8 L333.6,836.4 L337.4,836.9 L341.3,837.5 L345.2,838.1 L349.1,838.8 L352.9,839.4 L356.8,840.0 L360.7,840.6 L364.5,841.3 L368.4,841.9 L372.3,842.5 L376.1,843.2 L380.0,843.9 L383.9,844.5 L387.8,845.2 L391.6,845.8 L395.5,846.5 L399.4,847.1 L403.2,847.8 L407.1,848.5 L411.0,849.1 L414.9,849.8 L418.7,850.4 L422.6,851.1 L426.5,851.8 L430.3,852.4 L434.2,853.1 L438.1,853.7 L441.9,854.4 L445.8,855.0 L449.7,855.7 L453.6,856.3 L457.4,857.0 L461.3,857.6 L465.2,858.2 L469.0,858.9 L472.9,859.5 L476.8,860.1 L480.6,860.8 L484.5,861.4 L488.4,862.0 L492.2,862.6 L496.1,863.2 L500.0,863.8 L503.9,864.4 L507.7,865.0 L511.6,865.6 L515.5,866.2 L519.3,866.8 L523.2,867.3 L527.1,867.9 L531.0,868.5 L534.8,869.1 L538.7,869.6 L542.6,870.2 L546.4,870.7 L550.3,871.3 L554.2,871.8 L558.0,872.4 L561.9,872.9 L565.8,873.4 L569.6,873.9 L573.5,874.5 L577.4,875.0 L581.3,875.5 L585.1,876.0 L589.0,876.5 L592.9,877.0 L596.7,877.5 L600.6,878.0 L604.5,878.5 L608.4,879.0 L612.2,879.4 L616.1,879.9 L620.0,880.4 L623.8,880.8 L627.7,881.3 L631.6,881.7 L635.4,882.2 L639.3,882.6 L643.2,883.1 L647.0,883.5 L650.9,883.9 L654.8,884.4 L658.7,884.8 L662.5,885.2 L666.4,885.6 L670.3,886.0 L674.1,886.5 L678.0,886.9 L681.9,887.3 L685.8,887.7 L689.6,888.0 L693.5,888.4 L697.4,888.8 L701.2,889.2 L705.1,889.6 L709.0,889.9 L712.8,890.3 L716.7,890.7 L720.6,891.0 L724.5,891.4 L728.3,891.7 L732.2,892.1 L736.1,892.4 L739.9,892.8 L743.8,893.1 L747.7,893.5 L751.5,893.8 L755.4,894.1 L759.3,894.4 L763.1,894.8 L767.0,895.1 L770.9,895.4 L774.8,895.7 L778.6,896.0 L782.5,896.3 L786.4,896.6 L790.2,896.9 L794.1,897.2 L798.0,897.5 L801.9,897.8 L805.7,898.1 L809.6,898.4 L813.5,898.7 L817.3,898.9 L821.2,899.2 L825.1,899.5 L828.9,899.7 L832.8,900.0 L836.7,900.3 L840.5,900.5 L844.4,900.8 L848.3,901.0 L852.2,901.3 L856.0,901.5 L859.9,901.8 L863.8,902.0 L867.6,902.3 L871.5,902.5 L875.4,902.8 L879.2,903.0 L883.1,903.2 L887.0,903.4 L890.9,903.7 L894.7,903.9 L898.6,904.1 L902.5,904.3 L906.3,904.6 L910.2,904.8 L914.1,905.0 L918.0,905.2 L921.8,905.4 L925.7,905.6 L929.6,905.8 L933.4,906.0 L937.3,906.2 L941.2,906.4 L945.0,906.6 L948.9,906.8 L952.8,907.0 L956.6,907.2 L960.5,907.3 L964.4,907.5 L968.3,907.7 L972.1,907.9 L976.0,908.1 L979.9,908.2 L983.7,908.4 L987.6,908.6 L991.5,908.7 L995.4,908.9 L999.2,909.1 L1003.1,909.2 L1007.0,909.4 L1010.8,909.6 L1014.7,909.7 L1018.6,909.9 L1022.4,910.0 L1026.3,910.2 L1030.2,910.3 L1034.0,910.5 L1037.9,910.6 L1041.8,910.8 L1045.7,910.9 L1049.5,911.1 L1053.4,911.2 L1057.3,911.3 L1061.1,911.5 L1065.0,911.6 L1068.9,911.8 L1072.8,911.9 L1076.6,912.0 L1080.5,912.2 L1084.4,912.3 L1088.2,912.4 L1092.1,912.5 L1096.0,912.7 L1099.8,912.8 L1103.7,912.9 L1107.6,913.0 L1111.5,913.1 L1115.3,913.3 L1119.2,913.4 L1123.1,913.5 L1126.9,913.6 L1130.8,913.7 L1134.7,913.8 L1138.5,913.9 L1142.4,914.0 L1146.3,914.1 L1150.2,914.3 L1154.0,914.4 L1157.9,914.5 L1161.8,914.6 L1165.6,914.7 L1169.5,914.8 L1173.4,914.9 L1177.2,915.0 L1181.1,915.1 L1185.0,915.2 L1188.8,915.2 L1192.7,915.3 L1196.6,915.4 L1200.5,915.5 L1204.3,915.6 L1208.2,915.7 L1212.1,915.8 L1215.9,915.9 L1219.8,916.0 L1223.7,916.0 L1227.5,916.1 L1231.4,916.2 L1235.3,916.3 L1239.2,916.4 L1243.0,916.4 L1246.9,916.5 L1250.8,916.6 L1254.6,916.7 L1258.5,916.7 L1262.4,917.3 L1266.2,916.6 L1270.1,916.9 L1274.0,916.1 L1277.9,916.7 L1281.7,914.9 L1285.6,917.2 L1289.5,918.3 L1293.3,916.1 L1297.2,916.3 L1301.1,918.6 L1305.0,918.4 L1308.8,914.9 L1312.7,914.8 L1316.6,920.1 L1320.4,919.7 L1324.3,928.0 L1328.2,907.8 L1332.0,919.5 L1335.9,908.6 L1339.8,915.0 L1343.7,902.4 L1347.5,904.9 L1351.4,915.4 L1355.3,903.9 L1359.1,928.3 L1363.0,904.7" fill="none" stroke="#ff0000" stroke-width="3.5" stroke-linejoin="round" stroke-dasharray="24 18"/>
<path d="M202.0,782.5 L205.9,785.3 L209.7,788.0 L213.6,790.5 L217.5,792.9 L221.3,795.2 L225.2,797.3 L229.1,799.4 L233.0,801.3 L236.8,803.2 L240.7,805.0 L244.6,806.7 L248.4,808.3 L252.3,809.9 L256.2,811.3 L260.1,812.8 L263.9,814.1 L267.8,815.4 L271.7,816.6 L275.5,817.8 L279.4,819.0 L283.3,820.1 L287.1,821.1 L291.0,822.1 L294.9,823.1 L298.8,824.0 L302.6,824.9 L306.5,825.7 L310.4,826.6 L314.2,827.4 L318.1,828.1 L322.0,828.9 L325.8,829.6 L329.7,830.3 L333.6,830.9 L337.4,831.6 L341.3,832.2 L345.2,832.8 L349.1,833.4 L352.9,834.0 L356.8,834.5 L360.7,835.1 L364.5,835.6 L368.4,836.1 L372.3,836.6 L376.1,837.1 L380.0,837.6 L383.9,838.0 L387.8,838.5 L391.6,838.9 L395.5,839.4 L399.4,839.8 L403.2,840.2 L407.1,840.6 L411.0,841.0 L414.9,841.4 L418.7,841.8 L422.6,842.2 L426.5,842.5 L430.3,842.9 L434.2,843.3 L438.1,843.6 L441.9,844.0 L445.8,844.3 L449.7,844.7 L453.6,845.0 L457.4,845.3 L461.3,845.7 L465.2,846.0 L469.0,846.3 L472.9,846.6 L476.8,846.9 L480.6,847.2 L484.5,847.6 L488.4,847.9 L492.2,848.2 L496.1,848.5 L500.0,848.8 L503.9,849.1 L507.7,849.4 L511.6,849.6 L515.5,849.9 L519.3,850.2 L523.2,850.5 L527.1,850.8 L531.0,851.1 L534.8,851.3 L538.7,851.6 L542.6,851.9 L546.4,852.2 L550.3,852.4 L554.2,852.7 L558.0,853.0 L561.9,853.3 L565.8,853.5 L569.6,853.8 L573.5,854.1 L577.4,854.3 L581.3,854.6 L585.1,854.8 L589.0,855.1 L592.9,855.4 L596.7,855.6 L600.6,855.9 L604.5,856.1 L608.4,856.4 L612.2,856.6 L616.1,856.9 L620.0,857.1 L623.8,857.4 L627.7,857.6 L631.6,857.9 L635.4,858.1 L639.3,858.4 L643.2,858.6 L647.0,858.8 L650.9,859.1 L654.8,859.3 L658.7,859.6 L662.5,859.8 L666.4,860.0 L670.3,860.3 L674.1,860.5 L678.0,860.7 L681.9,861.0 L685.8,861.2 L689.6,861.4 L693.5,861.7 L697.4,861.9 L701.2,862.1 L705.1,862.3 L709.0,862.6 L712.8,862.8 L716.7,863.0 L720.6,863.2 L724.5,863.5 L728.3,863.7 L732.2,863.9 L736.1,864.1 L739.9,864.3 L743.8,864.6 L747.7,864.8 L751.5,865.0 L755.4,865.2 L759.3,865.4 L763.1,865.6 L767.0,865.8 L770.9,866.1 L774.8,866.3 L778.6,866.5 L782.5,866.7 L786.4,866.9 L790.2,867.1 L794.1,867.3 L798.0,867.5 L801.9,867.7 L805.7,867.9 L809.6,868.1 L813.5,868.3 L817.3,868.5 L821.2,868.7 L825.1,868.9 L828.9,869.1 L832.8,869.3 L836.7,869.5 L840.5,869.7 L844.4,869.9 L848.3,870.1 L852.2,870.2 L856.0,870.4 L859.9,870.6 L863.8,870.8 L867.6,871.0 L871.5,871.2 L875.4,871.4 L879.2,871.5 L883.1,871.7 L887.0,871.9 L890.9,872.1 L894.7,872.3 L898.6,872.4 L902.5,872.6 L906.3,872.8 L910.2,873.0 L914.1,873.1 L918.0,873.3 L921.8,873.5 L925.7,873.7 L929.6,873.8 L933.4,874.0 L937.3,874.2 L941.2,874.3 L945.0,874.5 L948.9,874.7 L952.8,874.8 L956.6,875.0 L960.5,875.1 L964.4,875.3 L968.3,875.5 L972.1,875.6 L976.0,875.8 L979.9,875.9 L983.7,876.1 L987.6,876.3 L991.5,876.4 L995.4,876.6 L999.2,876.7 L1003.1,876.9 L1007.0,877.0 L1010.8,877.2 L1014.7,877.3 L1018.6,877.5 L1022.4,877.6 L1026.3,877.8 L1030.2,877.9 L1034.0,878.1 L1037.9,878.2 L1041.8,878.3 L1045.7,878.5 L1049.5,878.6 L1053.4,878.8 L1057.3,878.9 L1061.1,879.0 L1065.0,879.2 L1068.9,879.3 L1072.8,879.4 L1076.6,879.6 L1080.5,879.7 L1084.4,879.8 L1088.2,880.0 L1092.1,880.1 L1096.0,880.2 L1099.8,880.4 L1103.7,880.5 L1107.6,880.6 L1111.5,880.8 L1115.3,880.9 L1119.2,881.0 L1123.1,881.1 L1126.9,881.3 L1130.8,881.4 L1134.7,881.5 L1138.5,881.6 L1142.4,881.7 L1146.3,881.9 L1150.2,882.0 L1154.0,882.1 L1157.9,882.2 L1161.8,882.3 L1165.6,882.4 L1169.5,882.6 L1173.4,882.7 L1177.2,882.8 L1181.1,882.9 L1185.0,883.0 L1188.8,883.1 L1192.7,883.2 L1196.6,883.3 L1200.5,883.4 L1204.3,883.6 L1208.2,883.7 L1212.1,883.8 L1215.9,883.9 L1219.8,884.0 L1223.7,884.1 L1227.5,884.2 L1231.4,884.3 L1235.3,884.4 L1239.2,884.5 L1243.0,884.6 L1246.9,884.7 L1250.8,884.8 L1254.6,884.9 L1258.5,885.0 L1262.4,885.1 L1266.2,885.2 L1270.1,885.3 L1274.0,885.4 L1277.9,885.5 L1281.7,885.6 L1285.6,885.7 L1289.5,885.7 L1293.3,885.8 L1297.2,885.9 L1301.1,886.0 L1305.0,886.1 L1308.8,886.2 L1312.7,886.3 L1316.6,886.4 L1320.4,886.5 L1324.3,886.5 L1328.2,886.6 L1332.0,886.7 L1335.9,886.8 L1339.8,886.9 L1343.7,887.0 L1347.5,887.0 L1351.4,887.1 L1355.3,887.2 L1359.1,887.3 L1363.0,887.4" fill="none" stroke="#ff0000" stroke-width="3.5" stroke-linejoin="round" stroke-dasharray="7 19"/>
<path d="M202.0,808.6 L205.9,809.3 L209.7,810.1 L213.6,810.9 L217.5,811.6 L221.3,812.4 L225.2,813.1 L229.1,813.9 L233.0,814.7 L236.8,815.4 L240.7,816.2 L244.6,817.0 L248.4,817.7 L252.3,818.5 L256.2,819.3 L260.1,820.0 L263.9,820.8 L267.8,821.5 L271.7,822.3 L275.5,823.1 L279.4,823.8 L283.3,824.6 L287.1,825.3 L291.0,826.1 L294.9,826.8 L298.8,827.6 L302.6,828.3 L306.5,829.1 L310.4,829.8 L314.2,830.5 L318.1,831.3 L322.0,832.0 L325.8,832.7 L329.7,833.5 L333.6,834.2 L337.4,834.9 L341.3,835.6 L345.2,836.3 L349.1,837.1 L352.9,837.8 L356.8,838.5 L360.7,839.2 L364.5,839.9 L368.4,840.6 L372.3,841.3 L376.1,841.9 L380.0,842.6 L383.9,843.3 L387.8,844.0 L391.6,844.6 L395.5,845.3 L399.4,846.0 L403.2,846.6 L407.1,847.3 L411.0,847.9 L414.9,848.6 L418.7,849.2 L422.6,849.9 L426.5,850.5 L430.3,851.1 L434.2,851.7 L438.1,852.4 L441.9,853.0 L445.8,853.6 L449.7,854.2 L453.6,854.8 L457.4,855.4 L461.3,856.0 L465.2,856.6 L469.0,857.2 L472.9,857.7 L476.8,858.3 L480.6,858.9 L484.5,859.4 L488.4,860.0 L492.2,860.6 L496.1,861.1 L500.0,861.7 L503.9,862.2 L507.7,862.7 L511.6,863.3 L515.5,863.8 L519.3,864.3 L523.2,864.8 L527.1,865.4 L531.0,865.9 L534.8,866.4 L538.7,866.9 L542.6,867.4 L546.4,867.9 L550.3,868.4 L554.2,868.8 L558.0,869.3 L561.9,869.8 L565.8,870.3 L569.6,870.7 L573.5,871.2 L577.4,871.7 L581.3,872.1 L585.1,872.6 L589.0,873.0 L592.9,873.5 L596.7,873.9 L600.6,874.3 L604.5,874.8 L608.4,875.2 L612.2,875.6 L616.1,876.0 L620.0,876.4 L623.8,876.9 L627.7,877.3 L631.6,877.7 L635.4,878.1 L639.3,878.5 L643.2,878.9 L647.0,879.2 L650.9,879.6 L654.8,880.0 L658.7,880.4 L662.5,880.8 L666.4,881.1 L670.3,881.5 L674.1,881.8 L678.0,882.2 L681.9,882.6 L685.8,882.9 L689.6,883.3 L693.5,883.6 L697.4,883.9 L701.2,884.3 L705.1,884.6 L709.0,884.9 L712.8,885.3 L716.7,885.6 L720.6,885.9 L724.5,886.2 L728.3,886.5 L732.2,886.9 L736.1,887.2 L739.9,887.5 L743.8,887.8 L747.7,888.1 L751.5,888.4 L755.4,888.7 L759.3,888.9 L763.1,889.2 L767.0,889.5 L770.9,889.8 L774.8,890.1 L778.6,890.3 L782.5,890.6 L786.4,890.9 L790.2,891.1 L794.1,891.4 L798.0,891.7 L801.9,891.9 L805.7,892.2 L809.6,892.4 L813.5,892.7 L817.3,892.9 L821.2,893.2 L825.1,893.4 L828.9,893.6 L832.8,893.9 L836.7,894.1 L840.5,894.3 L844.4,894.6 L848.3,894.8 L852.2,895.0 L856.0,895.2 L859.9,895.5 L863.8,895.7 L867.6,895.9 L871.5,896.1 L875.4,896.3 L879.2,896.5 L883.1,896.7 L887.0,896.9 L890.9,897.1 L894.7,897.3 L898.6,897.5 L902.5,897.7 L906.3,897.9 L910.2,898.1 L914.1,898.3 L918.0,898.5 L921.8,898.6 L925.7,898.8 L929.6,899.0 L933.4,899.2 L937.3,899.3 L941.2,899.5 L945.0,899.7 L948.9,899.9 L952.8,900.0 L956.6,900.2 L960.5,900.4 L964.4,900.5 L968.3,900.7 L972.1,900.8 L976.0,901.0 L979.9,901.1 L983.7,901.3 L987.6,901.4 L991.5,901.6 L995.4,901.7 L999.2,901.9 L1003.1,902.0 L1007.0,902.2 L1010.8,902.3 L1014.7,902.4 L1018.6,902.6 L1022.4,902.7 L1026.3,902.8 L1030.2,903.0 L1034.0,903.1 L1037.9,903.2 L1041.8,903.3 L1045.7,903.5 L1049.5,903.6 L1053.4,903.7 L1057.3,903.8 L1061.1,904.0 L1065.0,904.1 L1068.9,904.2 L1072.8,904.3 L1076.6,904.4 L1080.5,904.5 L1084.4,904.6 L1088.2,904.7 L1092.1,904.8 L1096.0,904.9 L1099.8,905.1 L1103.7,905.2 L1107.6,905.3 L1111.5,905.4 L1115.3,905.5 L1119.2,905.6 L1123.1,905.6 L1126.9,905.7 L1130.8,905.8 L1134.7,905.9 L1138.5,906.0 L1142.4,906.1 L1146.3,906.2 L1150.2,906.3 L1154.0,906.4 L1157.9,906.5 L1161.8,906.5 L1165.6,906.6 L1169.5,906.7 L1173.4,906.8 L1177.2,906.9 L1181.1,906.9 L1185.0,907.0 L1188.8,907.1 L1192.7,907.2 L1196.6,907.2 L1200.5,907.3 L1204.3,907.4 L1208.2,907.4 L1212.1,907.5 L1215.9,907.6 L1219.8,907.7 L1223.7,907.7 L1227.5,907.8 L1231.4,907.8 L1235.3,907.9 L1239.2,908.0 L1243.0,908.0 L1246.9,908.1 L1250.8,908.2 L1254.6,908.2 L1258.5,908.3 L1262.4,908.4 L1266.2,908.8 L1270.1,909.6 L1274.0,908.7 L1277.9,907.5 L1281.7,908.6 L1285.6,908.0 L1289.5,907.1 L1293.3,910.4 L1297.2,903.1 L1301.1,911.0 L1305.0,907.8 L1308.8,900.3 L1312.7,909.4 L1316.6,908.6 L1320.4,911.2 L1324.3,907.6 L1328.2,919.9 L1332.0,912.7 L1335.9,899.3 L1339.8,907.9 L1343.7,910.9 L1347.5,906.7 L1351.4,906.2 L1355.3,908.2 L1359.1,904.5 L1363.0,924.7" fill="none" stroke="#ff0000" stroke-width="4.1" stroke-linejoin="round" stroke-dasharray="26 9 7 9"/>
<path d="M176,48.0 H1363.0 M176,964.0 H1363.0 M202.0,44.25 V990.0 M176,964.4 H202.0 M176,781.6 H202.0 M176,598.9 H202.0 M176,416.1 H202.0 M176,233.4 H202.0 M176,48.0 H202.0 M190,873.0 H202.0 M190,690.3 H202.0 M190,507.5 H202.0 M190,324.8 H202.0 M190,142.0 H202.0 M202.0,964.0 V990.0 M395.5,964.0 V990.0 M589.0,964.0 V990.0 M782.5,964.0 V990.0 M976.0,964.0 V990.0 M1169.5,964.0 V990.0 M1363.0,964.0 V990.0 M298.8,964.0 V977.0 M492.2,964.0 V977.0 M685.8,964.0 V977.0 M879.2,964.0 V977.0 M1072.8,964.0 V977.0 M1266.2,964.0 V977.0" fill="none" stroke="#000" stroke-width="7.5"/>
<path d="M1363.0,44.25 V967.75 M1363.0,964.4 H1389 M1363.0,781.6 H1389 M1363.0,598.9 H1389 M1363.0,416.1 H1389 M1363.0,233.4 H1389 M1363.0,48.0 H1389 M1363.0,873.0 H1376 M1363.0,690.3 H1376 M1363.0,507.5 H1376 M1363.0,324.8 H1376 M1363.0,142.0 H1376" fill="none" stroke="#ff0000" stroke-width="7.5"/>
<g font-family="Liberation Sans, Arial, sans-serif" font-size="61" fill="#000"><text transform="translate(159,983.9) scale(1,1.04)" text-anchor="end">0</text><text transform="translate(159,801.1) scale(1,1.04)" text-anchor="end">1</text><g transform="translate(159,801.1)"><rect x="-30.89" y="-5.49" width="12.08" height="6.99" fill="#fff"/><rect x="-13.08" y="-5.49" width="12.20" height="6.99" fill="#fff"/></g><text transform="translate(159,618.4) scale(1,1.04)" text-anchor="end">2</text><text transform="translate(159,435.6) scale(1,1.04)" text-anchor="end">3</text><text transform="translate(159,252.9) scale(1,1.04)" text-anchor="end">4</text><text transform="translate(159,67.5) scale(1,1.04)" text-anchor="end">5</text><text transform="translate(202.0,1056) scale(1,1.04)" text-anchor="middle">300</text><text transform="translate(395.5,1056) scale(1,1.04)" text-anchor="middle">400</text><text transform="translate(589.0,1056) scale(1,1.04)" text-anchor="middle">500</text><text transform="translate(782.5,1056) scale(1,1.04)" text-anchor="middle">600</text><text transform="translate(976.0,1056) scale(1,1.04)" text-anchor="middle">700</text><text transform="translate(1169.5,1056) scale(1,1.04)" text-anchor="middle">800</text><text transform="translate(1363.0,1056) scale(1,1.04)" text-anchor="middle">900</text></g>
<g font-family="Liberation Sans, Arial, sans-serif" font-size="61" fill="#ff0000"><text transform="translate(1405.5,983.9) scale(1,1.04)">0</text><text transform="translate(1405.5,801.1) scale(1,1.04)">0.2</text><text transform="translate(1405.5,618.4) scale(1,1.04)">0.4</text><text transform="translate(1405.5,435.6) scale(1,1.04)">0.6</text><text transform="translate(1405.5,252.9) scale(1,1.04)">0.8</text><text transform="translate(1405.5,67.5) scale(1,1.04)">1</text><rect x="1408.55" y="62.01" width="12.08" height="6.99" fill="#fff"/><rect x="1426.36" y="62.01" width="12.20" height="6.99" fill="#fff"/></g>
<text font-family="Liberation Sans, Arial, sans-serif" font-size="76.7" x="782.5" y="1123.5" text-anchor="middle">Wavelength (nm)</text>
<g transform="translate(95,992) rotate(-90)" font-family="Liberation Sans, Arial, sans-serif" fill="#000"><text font-size="77.1" x="0" y="0">Absorption coefficient (cm</text><text font-size="52" x="885.56" y="-34">−1</text><text font-size="77.1" x="946.36" y="0">)</text><rect x="918.53" y="-38.68" width="10.30" height="6.18" fill="#fff"/><rect x="933.72" y="-38.68" width="10.40" height="6.18" fill="#fff"/></g>
<g transform="translate(1586,978) rotate(-90)" font-family="Liberation Sans, Arial, sans-serif" fill="#ff0000"><text font-size="76.7" x="0" y="0">Scattering coefficient (cm</text><text font-size="52" x="859.56" y="-34">−1</text><text font-size="76.7" x="920.36" y="0">)</text><rect x="892.53" y="-38.68" width="10.30" height="6.18" fill="#fff"/><rect x="907.72" y="-38.68" width="10.40" height="6.18" fill="#fff"/></g>
<text font-family="Liberation Sans, Arial, sans-serif" font-size="76.7" x="214.5" y="125.5">(c)</text>
<text font-family="Liberation Sans, Arial, sans-serif" font-size="76.7" x="667" y="126.5" text-anchor="middle">Plasma-liquid</text>
<path d="M965.5,92 H1107.5" stroke="#000" stroke-width="3.2" fill="none"/>
<text font-family="Liberation Sans, Arial, sans-serif" font-size="61" transform="translate(1122,113.2) scale(1,1.06)">Day 0</text>
<path d="M965.5,168 H1107.5" stroke="#000" stroke-width="3.2" fill="none" stroke-dasharray="25 19"/>
<text font-family="Liberation Sans, Arial, sans-serif" font-size="61" transform="translate(1122,189.2) scale(1,1.06)">Day 60</text>
<path d="M965.5,244 H1107.5" stroke="#000" stroke-width="3.2" fill="none" stroke-dasharray="8 19"/>
<text font-family="Liberation Sans, Arial, sans-serif" font-size="61" transform="translate(1122,265.2) scale(1,1.06)">Day 120</text>
<g transform="translate(0,265.2) scale(1,1.06)"><rect x="1250.50" y="-5.49" width="12.08" height="6.99" fill="#fff"/><rect x="1268.31" y="-5.49" width="12.20" height="6.99" fill="#fff"/></g>
<path d="M965.5,319.5 H1107.5" stroke="#000" stroke-width="4.8" fill="none" stroke-dasharray="27 10.5 8 8.8"/>
<text font-family="Liberation Sans, Arial, sans-serif" font-size="61" transform="translate(1122,340.7) scale(1,1.06)">Day 809</text>
</g>
<g transform="translate(0,3450)">
<path d="M202.0,317.6 L205.9,327.9 L209.7,337.9 L213.6,347.4 L217.5,356.6 L221.3,365.4 L225.2,373.9 L229.1,382.1 L233.0,390.0 L236.8,397.6 L240.7,404.9 L244.6,411.9 L248.4,418.7 L252.3,425.3 L256.2,431.6 L260.1,437.7 L263.9,443.6 L267.8,449.3 L271.7,454.9 L275.5,460.2 L279.4,465.4 L283.3,470.4 L287.1,475.3 L291.0,480.0 L294.9,484.5 L298.8,489.0 L302.6,493.3 L306.5,497.5 L310.4,501.5 L314.2,505.5 L318.1,509.3 L322.0,513.0 L325.8,516.7 L329.7,520.2 L333.6,523.7 L337.4,527.0 L341.3,530.3 L345.2,533.5 L349.1,536.6 L352.9,539.6 L356.8,542.6 L360.7,545.5 L364.5,548.3 L368.4,551.1 L372.3,553.8 L376.1,556.4 L380.0,559.0 L383.9,561.6 L387.8,564.0 L391.6,566.5 L395.5,568.8 L399.4,571.2 L403.2,573.5 L407.1,575.7 L411.0,577.9 L414.9,580.1 L418.7,582.2 L422.6,584.3 L426.5,586.3 L430.3,588.3 L434.2,590.3 L438.1,592.2 L441.9,594.1 L445.8,596.0 L449.7,597.9 L453.6,599.7 L457.4,601.5 L461.3,603.2 L465.2,604.9 L469.0,606.7 L472.9,608.3 L476.8,610.0 L480.6,611.6 L484.5,613.2 L488.4,614.8 L492.2,616.4 L496.1,617.9 L500.0,619.4 L503.9,620.9 L507.7,622.4 L511.6,623.9 L515.5,625.3 L519.3,626.7 L523.2,628.1 L527.1,629.5 L531.0,630.9 L534.8,632.2 L538.7,633.5 L542.6,634.9 L546.4,636.2 L550.3,637.5 L554.2,638.7 L558.0,640.0 L561.9,641.2 L565.8,642.5 L569.6,643.7 L573.5,644.9 L577.4,646.1 L581.3,647.2 L585.1,648.4 L589.0,649.5 L592.9,650.7 L596.7,651.8 L600.6,652.9 L604.5,654.0 L608.4,655.1 L612.2,656.2 L616.1,657.2 L620.0,658.3 L623.8,659.3 L627.7,660.4 L631.6,661.4 L635.4,662.4 L639.3,663.4 L643.2,664.4 L647.0,665.4 L650.9,666.4 L654.8,667.3 L658.7,668.3 L662.5,669.2 L666.4,670.2 L670.3,671.1 L674.1,672.0 L678.0,672.9 L681.9,673.8 L685.8,674.7 L689.6,675.6 L693.5,676.5 L697.4,677.3 L701.2,678.2 L705.1,679.0 L709.0,679.9 L712.8,680.7 L716.7,681.5 L720.6,682.4 L724.5,683.2 L728.3,684.0 L732.2,684.8 L736.1,685.6 L739.9,686.4 L743.8,687.1 L747.7,687.9 L751.5,688.7 L755.4,689.4 L759.3,690.2 L763.1,690.9 L767.0,691.7 L770.9,692.4 L774.8,693.1 L778.6,693.8 L782.5,694.5 L786.4,695.2 L790.2,695.9 L794.1,696.6 L798.0,697.3 L801.9,698.0 L805.7,698.7 L809.6,699.3 L813.5,700.0 L817.3,700.7 L821.2,701.3 L825.1,702.0 L828.9,702.6 L832.8,703.2 L836.7,703.9 L840.5,704.5 L844.4,705.1 L848.3,705.7 L852.2,706.3 L856.0,706.9 L859.9,707.5 L863.8,708.1 L867.6,708.7 L871.5,709.3 L875.4,709.8 L879.2,710.4 L883.1,711.0 L887.0,711.5 L890.9,712.1 L894.7,712.6 L898.6,713.2 L902.5,713.7 L906.3,714.3 L910.2,714.8 L914.1,715.3 L918.0,715.9 L921.8,716.4 L925.7,716.9 L929.6,717.4 L933.4,717.9 L937.3,718.4 L941.2,718.9 L945.0,719.4 L948.9,719.9 L952.8,720.4 L956.6,720.8 L960.5,721.3 L964.4,721.8 L968.3,722.3 L972.1,722.7 L976.0,723.2 L979.9,723.6 L983.7,724.1 L987.6,724.5 L991.5,725.0 L995.4,725.4 L999.2,725.9 L1003.1,726.3 L1007.0,726.7 L1010.8,727.1 L1014.7,727.6 L1018.6,728.0 L1022.4,728.4 L1026.3,728.8 L1030.2,729.2 L1034.0,729.6 L1037.9,730.0 L1041.8,730.4 L1045.7,730.8 L1049.5,731.2 L1053.4,731.6 L1057.3,731.9 L1061.1,732.3 L1065.0,732.7 L1068.9,733.1 L1072.8,733.4 L1076.6,733.8 L1080.5,734.2 L1084.4,734.5 L1088.2,734.9 L1092.1,735.2 L1096.0,735.6 L1099.8,735.9 L1103.7,736.3 L1107.6,736.6 L1111.5,736.9 L1115.3,737.3 L1119.2,737.6 L1123.1,737.9 L1126.9,738.3 L1130.8,738.6 L1134.7,738.9 L1138.5,739.2 L1142.4,739.5 L1146.3,739.8 L1150.2,740.1 L1154.0,740.4 L1157.9,740.8 L1161.8,741.0 L1165.6,741.3 L1169.5,741.6 L1173.4,741.9 L1177.2,742.2 L1181.1,742.5 L1185.0,742.8 L1188.8,743.1 L1192.7,743.3 L1196.6,743.6 L1200.5,743.9 L1204.3,744.2 L1208.2,744.4 L1212.1,744.7 L1215.9,745.0 L1219.8,745.2 L1223.7,745.5 L1227.5,745.7 L1231.4,746.0 L1235.3,746.2 L1239.2,746.5 L1243.0,746.7 L1246.9,747.0 L1250.8,747.2 L1254.6,747.5 L1258.5,747.7 L1262.4,747.9 L1266.2,748.2 L1270.1,748.4 L1274.0,748.6 L1277.9,748.8 L1281.7,749.1 L1285.6,749.3 L1289.5,749.5 L1293.3,749.7 L1297.2,750.0 L1301.1,750.0 L1305.0,750.0 L1308.8,751.4 L1312.7,750.0 L1316.6,751.5 L1320.4,748.9 L1324.3,750.4 L1328.2,752.4 L1332.0,751.4 L1335.9,751.6 L1339.8,751.5 L1343.7,749.0 L1347.5,751.1 L1351.4,748.0 L1355.3,750.9 L1359.1,753.7 L1363.0,758.8" fill="none" stroke="#000" stroke-width="3.5" stroke-linejoin="round"/>
<path d="M202.0,402.3 L205.9,407.5 L209.7,412.7 L213.6,417.9 L217.5,423.0 L221.3,428.0 L225.2,433.0 L229.1,438.0 L233.0,442.9 L236.8,447.7 L240.7,452.4 L244.6,457.2 L248.4,461.8 L252.3,466.4 L256.2,470.9 L260.1,475.4 L263.9,479.8 L267.8,484.1 L271.7,488.4 L275.5,492.6 L279.4,496.7 L283.3,500.8 L287.1,504.8 L291.0,508.7 L294.9,512.6 L298.8,516.5 L302.6,520.2 L306.5,523.9 L310.4,527.6 L314.2,531.1 L318.1,534.7 L322.0,538.1 L325.8,541.5 L329.7,544.9 L333.6,548.2 L337.4,551.4 L341.3,554.6 L345.2,557.7 L349.1,560.8 L352.9,563.8 L356.8,566.8 L360.7,569.7 L364.5,572.5 L368.4,575.3 L372.3,578.1 L376.1,580.8 L380.0,583.5 L383.9,586.1 L387.8,588.7 L391.6,591.2 L395.5,593.7 L399.4,596.2 L403.2,598.6 L407.1,600.9 L411.0,603.3 L414.9,605.5 L418.7,607.8 L422.6,610.0 L426.5,612.1 L430.3,614.3 L434.2,616.3 L438.1,618.4 L441.9,620.4 L445.8,622.4 L449.7,624.4 L453.6,626.3 L457.4,628.2 L461.3,630.0 L465.2,631.8 L469.0,633.6 L472.9,635.4 L476.8,637.1 L480.6,638.8 L484.5,640.5 L488.4,642.1 L492.2,643.7 L496.1,645.3 L500.0,646.9 L503.9,648.4 L507.7,649.9 L511.6,651.4 L515.5,652.9 L519.3,654.3 L523.2,655.7 L527.1,657.1 L531.0,658.5 L534.8,659.9 L538.7,661.2 L542.6,662.5 L546.4,663.8 L550.3,665.1 L554.2,666.3 L558.0,667.5 L561.9,668.7 L565.8,669.9 L569.6,671.1 L573.5,672.3 L577.4,673.4 L581.3,674.5 L585.1,675.6 L589.0,676.7 L592.9,677.8 L596.7,678.8 L600.6,679.9 L604.5,680.9 L608.4,681.9 L612.2,682.9 L616.1,683.9 L620.0,684.9 L623.8,685.8 L627.7,686.7 L631.6,687.7 L635.4,688.6 L639.3,689.5 L643.2,690.4 L647.0,691.3 L650.9,692.1 L654.8,693.0 L658.7,693.8 L662.5,694.7 L666.4,695.5 L670.3,696.3 L674.1,697.1 L678.0,697.9 L681.9,698.7 L685.8,699.4 L689.6,700.2 L693.5,700.9 L697.4,701.7 L701.2,702.4 L705.1,703.1 L709.0,703.8 L712.8,704.6 L716.7,705.3 L720.6,705.9 L724.5,706.6 L728.3,707.3 L732.2,708.0 L736.1,708.6 L739.9,709.3 L743.8,709.9 L747.7,710.6 L751.5,711.2 L755.4,711.8 L759.3,712.4 L763.1,713.0 L767.0,713.6 L770.9,714.2 L774.8,714.8 L778.6,715.4 L782.5,716.0 L786.4,716.6 L790.2,717.1 L794.1,717.7 L798.0,718.2 L801.9,718.8 L805.7,719.3 L809.6,719.9 L813.5,720.4 L817.3,720.9 L821.2,721.5 L825.1,722.0 L828.9,722.5 L832.8,723.0 L836.7,723.5 L840.5,724.0 L844.4,724.5 L848.3,725.0 L852.2,725.5 L856.0,726.0 L859.9,726.4 L863.8,726.9 L867.6,727.4 L871.5,727.9 L875.4,728.3 L879.2,728.8 L883.1,729.2 L887.0,729.7 L890.9,730.1 L894.7,730.6 L898.6,731.0 L902.5,731.5 L906.3,731.9 L910.2,732.3 L914.1,732.8 L918.0,733.2 L921.8,733.6 L925.7,734.0 L929.6,734.5 L933.4,734.9 L937.3,735.3 L941.2,735.7 L945.0,736.1 L948.9,736.5 L952.8,736.9 L956.6,737.3 L960.5,737.7 L964.4,738.1 L968.3,738.5 L972.1,738.9 L976.0,739.3 L979.9,739.7 L983.7,740.0 L987.6,740.4 L991.5,740.8 L995.4,741.2 L999.2,741.5 L1003.1,741.9 L1007.0,742.3 L1010.8,742.7 L1014.7,743.0 L1018.6,743.4 L1022.4,743.7 L1026.3,744.1 L1030.2,744.5 L1034.0,744.8 L1037.9,745.2 L1041.8,745.5 L1045.7,745.9 L1049.5,746.2 L1053.4,746.6 L1057.3,746.9 L1061.1,747.3 L1065.0,747.6 L1068.9,747.9 L1072.8,748.3 L1076.6,748.6 L1080.5,749.0 L1084.4,749.3 L1088.2,749.6 L1092.1,750.0 L1096.0,750.3 L1099.8,750.6 L1103.7,750.9 L1107.6,751.3 L1111.5,751.6 L1115.3,751.9 L1119.2,752.2 L1123.1,752.6 L1126.9,752.9 L1130.8,753.2 L1134.7,753.5 L1138.5,753.8 L1142.4,754.1 L1146.3,754.5 L1150.2,754.8 L1154.0,755.1 L1157.9,755.4 L1161.8,755.7 L1165.6,756.0 L1169.5,756.3 L1173.4,756.6 L1177.2,756.9 L1181.1,757.2 L1185.0,757.5 L1188.8,757.8 L1192.7,758.1 L1196.6,758.4 L1200.5,758.7 L1204.3,759.0 L1208.2,759.3 L1212.1,759.6 L1215.9,759.9 L1219.8,760.2 L1223.7,760.5 L1227.5,760.8 L1231.4,761.1 L1235.3,761.4 L1239.2,761.7 L1243.0,762.0 L1246.9,762.3 L1250.8,762.6 L1254.6,762.8 L1258.5,763.1 L1262.4,763.4 L1266.2,763.7 L1270.1,764.0 L1274.0,764.3 L1277.9,764.5 L1281.7,764.8 L1285.6,765.1 L1289.5,765.4 L1293.3,765.7 L1297.2,766.0 L1301.1,766.2 L1305.0,766.5 L1308.8,766.8 L1312.7,767.1 L1316.6,767.3 L1320.4,767.6 L1324.3,767.9 L1328.2,768.2 L1332.0,768.4 L1335.9,768.7 L1339.8,769.0 L1343.7,769.3 L1347.5,769.5 L1351.4,769.8 L1355.3,770.1 L1359.1,770.3 L1363.0,770.6" fill="none" stroke="#000" stroke-width="3.5" stroke-linejoin="round" stroke-dasharray="24 18"/>
<path d="M202.0,379.0 L205.9,385.3 L209.7,391.5 L213.6,397.6 L217.5,403.6 L221.3,409.5 L225.2,415.3 L229.1,421.0 L233.0,426.6 L236.8,432.1 L240.7,437.6 L244.6,442.9 L248.4,448.1 L252.3,453.3 L256.2,458.3 L260.1,463.3 L263.9,468.2 L267.8,473.0 L271.7,477.7 L275.5,482.4 L279.4,486.9 L283.3,491.4 L287.1,495.8 L291.0,500.1 L294.9,504.3 L298.8,508.5 L302.6,512.6 L306.5,516.6 L310.4,520.5 L314.2,524.4 L318.1,528.2 L322.0,531.9 L325.8,535.6 L329.7,539.2 L333.6,542.7 L337.4,546.2 L341.3,549.6 L345.2,552.9 L349.1,556.2 L352.9,559.5 L356.8,562.6 L360.7,565.8 L364.5,568.8 L368.4,571.8 L372.3,574.8 L376.1,577.7 L380.0,580.5 L383.9,583.3 L387.8,586.1 L391.6,588.8 L395.5,591.4 L399.4,594.0 L403.2,596.6 L407.1,599.1 L411.0,601.6 L414.9,604.0 L418.7,606.4 L422.6,608.7 L426.5,611.0 L430.3,613.3 L434.2,615.5 L438.1,617.7 L441.9,619.9 L445.8,622.0 L449.7,624.1 L453.6,626.1 L457.4,628.1 L461.3,630.1 L465.2,632.0 L469.0,634.0 L472.9,635.8 L476.8,637.7 L480.6,639.5 L484.5,641.3 L488.4,643.0 L492.2,644.8 L496.1,646.5 L500.0,648.1 L503.9,649.8 L507.7,651.4 L511.6,653.0 L515.5,654.6 L519.3,656.1 L523.2,657.6 L527.1,659.1 L531.0,660.6 L534.8,662.0 L538.7,663.5 L542.6,664.9 L546.4,666.3 L550.3,667.6 L554.2,669.0 L558.0,670.3 L561.9,671.6 L565.8,672.8 L569.6,674.1 L573.5,675.3 L577.4,676.6 L581.3,677.8 L585.1,679.0 L589.0,680.1 L592.9,681.3 L596.7,682.4 L600.6,683.5 L604.5,684.6 L608.4,685.7 L612.2,686.8 L616.1,687.8 L620.0,688.9 L623.8,689.9 L627.7,690.9 L631.6,691.9 L635.4,692.9 L639.3,693.8 L643.2,694.8 L647.0,695.7 L650.9,696.7 L654.8,697.6 L658.7,698.5 L662.5,699.4 L666.4,700.3 L670.3,701.1 L674.1,702.0 L678.0,702.8 L681.9,703.7 L685.8,704.5 L689.6,705.3 L693.5,706.1 L697.4,706.9 L701.2,707.7 L705.1,708.4 L709.0,709.2 L712.8,709.9 L716.7,710.7 L720.6,711.4 L724.5,712.1 L728.3,712.8 L732.2,713.5 L736.1,714.2 L739.9,714.9 L743.8,715.6 L747.7,716.3 L751.5,716.9 L755.4,717.6 L759.3,718.2 L763.1,718.9 L767.0,719.5 L770.9,720.1 L774.8,720.8 L778.6,721.4 L782.5,722.0 L786.4,722.6 L790.2,723.2 L794.1,723.7 L798.0,724.3 L801.9,724.9 L805.7,725.4 L809.6,726.0 L813.5,726.6 L817.3,727.1 L821.2,727.6 L825.1,728.2 L828.9,728.7 L832.8,729.2 L836.7,729.7 L840.5,730.2 L844.4,730.7 L848.3,731.2 L852.2,731.7 L856.0,732.2 L859.9,732.7 L863.8,733.2 L867.6,733.7 L871.5,734.1 L875.4,734.6 L879.2,735.1 L883.1,735.5 L887.0,736.0 L890.9,736.4 L894.7,736.9 L898.6,737.3 L902.5,737.7 L906.3,738.2 L910.2,738.6 L914.1,739.0 L918.0,739.4 L921.8,739.9 L925.7,740.3 L929.6,740.7 L933.4,741.1 L937.3,741.5 L941.2,741.9 L945.0,742.3 L948.9,742.7 L952.8,743.0 L956.6,743.4 L960.5,743.8 L964.4,744.2 L968.3,744.6 L972.1,744.9 L976.0,745.3 L979.9,745.7 L983.7,746.0 L987.6,746.4 L991.5,746.7 L995.4,747.1 L999.2,747.4 L1003.1,747.8 L1007.0,748.1 L1010.8,748.5 L1014.7,748.8 L1018.6,749.1 L1022.4,749.5 L1026.3,749.8 L1030.2,750.1 L1034.0,750.4 L1037.9,750.8 L1041.8,751.1 L1045.7,751.4 L1049.5,751.7 L1053.4,752.0 L1057.3,752.3 L1061.1,752.7 L1065.0,753.0 L1068.9,753.3 L1072.8,753.6 L1076.6,753.9 L1080.5,754.2 L1084.4,754.5 L1088.2,754.8 L1092.1,755.0 L1096.0,755.3 L1099.8,755.6 L1103.7,755.9 L1107.6,756.2 L1111.5,756.5 L1115.3,756.8 L1119.2,757.0 L1123.1,757.3 L1126.9,757.6 L1130.8,757.9 L1134.7,758.1 L1138.5,758.4 L1142.4,758.7 L1146.3,758.9 L1150.2,759.2 L1154.0,759.5 L1157.9,759.7 L1161.8,760.0 L1165.6,760.2 L1169.5,760.5 L1173.4,760.8 L1177.2,761.0 L1181.1,761.3 L1185.0,761.5 L1188.8,761.8 L1192.7,762.0 L1196.6,762.3 L1200.5,762.5 L1204.3,762.7 L1208.2,763.0 L1212.1,763.2 L1215.9,763.5 L1219.8,763.7 L1223.7,763.9 L1227.5,764.2 L1231.4,764.4 L1235.3,764.6 L1239.2,764.9 L1243.0,765.1 L1246.9,765.3 L1250.8,765.6 L1254.6,765.8 L1258.5,766.0 L1262.4,766.2 L1266.2,766.5 L1270.1,766.7 L1274.0,766.9 L1277.9,767.1 L1281.7,767.3 L1285.6,767.6 L1289.5,767.8 L1293.3,768.0 L1297.2,768.2 L1301.1,768.4 L1305.0,768.6 L1308.8,768.9 L1312.7,769.1 L1316.6,769.3 L1320.4,769.5 L1324.3,769.7 L1328.2,769.9 L1332.0,770.1 L1335.9,770.3 L1339.8,770.5 L1343.7,770.7 L1347.5,770.9 L1351.4,771.1 L1355.3,771.3 L1359.1,771.5 L1363.0,771.7" fill="none" stroke="#000" stroke-width="3.5" stroke-linejoin="round" stroke-dasharray="7 19"/>
<path d="M202.0,399.1 L205.9,405.3 L209.7,411.5 L213.6,417.5 L217.5,423.4 L221.3,429.2 L225.2,434.9 L229.1,440.5 L233.0,446.0 L236.8,451.3 L240.7,456.6 L244.6,461.8 L248.4,466.9 L252.3,471.8 L256.2,476.7 L260.1,481.5 L263.9,486.2 L267.8,490.9 L271.7,495.4 L275.5,499.8 L279.4,504.2 L283.3,508.5 L287.1,512.7 L291.0,516.8 L294.9,520.8 L298.8,524.8 L302.6,528.7 L306.5,532.5 L310.4,536.2 L314.2,539.9 L318.1,543.5 L322.0,547.1 L325.8,550.6 L329.7,554.0 L333.6,557.3 L337.4,560.6 L341.3,563.8 L345.2,567.0 L349.1,570.1 L352.9,573.2 L356.8,576.2 L360.7,579.1 L364.5,582.0 L368.4,584.9 L372.3,587.7 L376.1,590.4 L380.0,593.1 L383.9,595.7 L387.8,598.3 L391.6,600.9 L395.5,603.4 L399.4,605.9 L403.2,608.3 L407.1,610.7 L411.0,613.0 L414.9,615.3 L418.7,617.6 L422.6,619.8 L426.5,622.0 L430.3,624.1 L434.2,626.2 L438.1,628.3 L441.9,630.3 L445.8,632.3 L449.7,634.3 L453.6,636.2 L457.4,638.1 L461.3,640.0 L465.2,641.8 L469.0,643.7 L472.9,645.4 L476.8,647.2 L480.6,648.9 L484.5,650.6 L488.4,652.3 L492.2,653.9 L496.1,655.5 L500.0,657.1 L503.9,658.7 L507.7,660.2 L511.6,661.7 L515.5,663.2 L519.3,664.7 L523.2,666.1 L527.1,667.6 L531.0,669.0 L534.8,670.3 L538.7,671.7 L542.6,673.0 L546.4,674.3 L550.3,675.6 L554.2,676.9 L558.0,678.2 L561.9,679.4 L565.8,680.6 L569.6,681.8 L573.5,683.0 L577.4,684.2 L581.3,685.3 L585.1,686.5 L589.0,687.6 L592.9,688.7 L596.7,689.8 L600.6,690.8 L604.5,691.9 L608.4,692.9 L612.2,693.9 L616.1,695.0 L620.0,695.9 L623.8,696.9 L627.7,697.9 L631.6,698.8 L635.4,699.8 L639.3,700.7 L643.2,701.6 L647.0,702.5 L650.9,703.4 L654.8,704.3 L658.7,705.2 L662.5,706.0 L666.4,706.8 L670.3,707.7 L674.1,708.5 L678.0,709.3 L681.9,710.1 L685.8,710.9 L689.6,711.7 L693.5,712.4 L697.4,713.2 L701.2,713.9 L705.1,714.7 L709.0,715.4 L712.8,716.1 L716.7,716.8 L720.6,717.5 L724.5,718.2 L728.3,718.9 L732.2,719.6 L736.1,720.3 L739.9,720.9 L743.8,721.6 L747.7,722.2 L751.5,722.8 L755.4,723.5 L759.3,724.1 L763.1,724.7 L767.0,725.3 L770.9,725.9 L774.8,726.5 L778.6,727.1 L782.5,727.7 L786.4,728.2 L790.2,728.8 L794.1,729.3 L798.0,729.9 L801.9,730.4 L805.7,731.0 L809.6,731.5 L813.5,732.0 L817.3,732.6 L821.2,733.1 L825.1,733.6 L828.9,734.1 L832.8,734.6 L836.7,735.1 L840.5,735.6 L844.4,736.0 L848.3,736.5 L852.2,737.0 L856.0,737.4 L859.9,737.9 L863.8,738.4 L867.6,738.8 L871.5,739.3 L875.4,739.7 L879.2,740.1 L883.1,740.6 L887.0,741.0 L890.9,741.4 L894.7,741.8 L898.6,742.3 L902.5,742.7 L906.3,743.1 L910.2,743.5 L914.1,743.9 L918.0,744.3 L921.8,744.7 L925.7,745.0 L929.6,745.4 L933.4,745.8 L937.3,746.2 L941.2,746.6 L945.0,746.9 L948.9,747.3 L952.8,747.7 L956.6,748.0 L960.5,748.4 L964.4,748.7 L968.3,749.1 L972.1,749.4 L976.0,749.7 L979.9,750.1 L983.7,750.4 L987.6,750.8 L991.5,751.1 L995.4,751.4 L999.2,751.7 L1003.1,752.1 L1007.0,752.4 L1010.8,752.7 L1014.7,753.0 L1018.6,753.3 L1022.4,753.6 L1026.3,753.9 L1030.2,754.2 L1034.0,754.5 L1037.9,754.8 L1041.8,755.1 L1045.7,755.4 L1049.5,755.7 L1053.4,756.0 L1057.3,756.3 L1061.1,756.5 L1065.0,756.8 L1068.9,757.1 L1072.8,757.4 L1076.6,757.7 L1080.5,757.9 L1084.4,758.2 L1088.2,758.5 L1092.1,758.7 L1096.0,759.0 L1099.8,759.2 L1103.7,759.5 L1107.6,759.8 L1111.5,760.0 L1115.3,760.3 L1119.2,760.5 L1123.1,760.8 L1126.9,761.0 L1130.8,761.3 L1134.7,761.5 L1138.5,761.7 L1142.4,762.0 L1146.3,762.2 L1150.2,762.4 L1154.0,762.7 L1157.9,762.9 L1161.8,763.1 L1165.6,763.4 L1169.5,763.6 L1173.4,763.8 L1177.2,764.1 L1181.1,764.3 L1185.0,764.5 L1188.8,764.7 L1192.7,764.9 L1196.6,765.1 L1200.5,765.4 L1204.3,765.6 L1208.2,765.8 L1212.1,766.0 L1215.9,766.2 L1219.8,766.4 L1223.7,766.6 L1227.5,766.8 L1231.4,767.0 L1235.3,767.2 L1239.2,767.4 L1243.0,767.6 L1246.9,767.8 L1250.8,768.0 L1254.6,768.2 L1258.5,768.4 L1262.4,768.6 L1266.2,768.8 L1270.1,769.0 L1274.0,769.2 L1277.9,769.4 L1281.7,769.6 L1285.6,769.7 L1289.5,769.9 L1293.3,770.0 L1297.2,770.1 L1301.1,769.9 L1305.0,770.8 L1308.8,770.5 L1312.7,771.3 L1316.6,772.5 L1320.4,772.1 L1324.3,771.4 L1328.2,773.1 L1332.0,772.2 L1335.9,769.9 L1339.8,771.0 L1343.7,771.0 L1347.5,771.7 L1351.4,773.2 L1355.3,778.7 L1359.1,769.7 L1363.0,778.7" fill="none" stroke="#000" stroke-width="4.1" stroke-linejoin="round" stroke-dasharray="26 9 7 9"/>
<path d="M202.0,796.8 L205.9,802.2 L209.7,805.4 L213.6,807.1 L217.5,807.7 L221.3,807.8 L225.2,794.9 L229.1,778.7 L233.0,778.8 L236.8,781.6 L240.7,785.7 L244.6,790.3 L248.4,794.4 L252.3,797.3 L256.2,799.5 L260.1,801.4 L263.9,803.0 L267.8,804.4 L271.7,805.7 L275.5,807.1 L279.4,808.5 L283.3,809.8 L287.1,811.2 L291.0,812.5 L294.9,813.9 L298.8,815.2 L302.6,816.5 L306.5,817.8 L310.4,819.0 L314.2,820.3 L318.1,821.5 L322.0,822.8 L325.8,824.0 L329.7,825.2 L333.6,826.3 L337.4,827.5 L341.3,828.6 L345.2,829.7 L349.1,830.8 L352.9,831.9 L356.8,833.0 L360.7,834.0 L364.5,835.1 L368.4,836.1 L372.3,837.1 L376.1,838.0 L380.0,839.0 L383.9,839.9 L387.8,840.8 L391.6,841.7 L395.5,842.6 L399.4,843.5 L403.2,844.3 L407.1,845.2 L411.0,846.0 L414.9,846.8 L418.7,847.6 L422.6,848.3 L426.5,849.1 L430.3,849.8 L434.2,850.5 L438.1,851.2 L441.9,851.9 L445.8,852.6 L449.7,853.3 L453.6,853.9 L457.4,854.6 L461.3,855.2 L465.2,855.8 L469.0,856.4 L472.9,857.0 L476.8,857.6 L480.6,858.1 L484.5,858.7 L488.4,859.2 L492.2,859.8 L496.1,860.3 L500.0,860.8 L503.9,861.3 L507.7,861.8 L511.6,862.2 L515.5,862.7 L519.3,863.2 L523.2,863.6 L527.1,864.1 L531.0,864.5 L534.8,864.9 L538.7,865.3 L542.6,865.7 L546.4,866.2 L550.3,866.5 L554.2,866.9 L558.0,867.3 L561.9,867.7 L565.8,868.0 L569.6,868.4 L573.5,868.8 L577.4,869.1 L581.3,869.4 L585.1,869.8 L589.0,870.1 L592.9,870.4 L596.7,870.8 L600.6,871.1 L604.5,871.4 L608.4,871.7 L612.2,872.0 L616.1,872.3 L620.0,872.6 L623.8,872.9 L627.7,873.1 L631.6,873.4 L635.4,873.7 L639.3,874.0 L643.2,874.2 L647.0,874.5 L650.9,874.7 L654.8,875.0 L658.7,875.3 L662.5,875.5 L666.4,875.8 L670.3,876.0 L674.1,876.2 L678.0,876.5 L681.9,876.7 L685.8,877.0 L689.6,877.2 L693.5,877.4 L697.4,877.6 L701.2,877.9 L705.1,878.1 L709.0,878.3 L712.8,878.5 L716.7,878.8 L720.6,879.0 L724.5,879.2 L728.3,879.4 L732.2,879.6 L736.1,879.8 L739.9,880.0 L743.8,880.2 L747.7,880.5 L751.5,880.7 L755.4,880.9 L759.3,881.1 L763.1,881.3 L767.0,881.5 L770.9,881.7 L774.8,881.9 L778.6,882.1 L782.5,882.3 L786.4,882.5 L790.2,882.7 L794.1,882.9 L798.0,883.1 L801.9,883.3 L805.7,883.5 L809.6,883.7 L813.5,883.8 L817.3,884.0 L821.2,884.2 L825.1,884.4 L828.9,884.6 L832.8,884.8 L836.7,885.0 L840.5,885.2 L844.4,885.4 L848.3,885.6 L852.2,885.8 L856.0,886.0 L859.9,886.2 L863.8,886.4 L867.6,886.6 L871.5,886.8 L875.4,887.0 L879.2,887.1 L883.1,887.3 L887.0,887.5 L890.9,887.7 L894.7,887.9 L898.6,888.1 L902.5,888.3 L906.3,888.5 L910.2,888.7 L914.1,888.9 L918.0,889.1 L921.8,889.3 L925.7,889.5 L929.6,889.7 L933.4,889.9 L937.3,890.1 L941.2,890.3 L945.0,890.5 L948.9,890.7 L952.8,890.9 L956.6,891.1 L960.5,891.3 L964.4,891.5 L968.3,891.7 L972.1,891.9 L976.0,892.1 L979.9,892.3 L983.7,892.5 L987.6,892.7 L991.5,892.9 L995.4,893.1 L999.2,893.3 L1003.1,893.5 L1007.0,893.7 L1010.8,893.9 L1014.7,894.2 L1018.6,894.4 L1022.4,894.6 L1026.3,894.8 L1030.2,895.0 L1034.0,895.2 L1037.9,895.4 L1041.8,895.6 L1045.7,895.8 L1049.5,896.1 L1053.4,896.3 L1057.3,896.5 L1061.1,896.7 L1065.0,896.9 L1068.9,897.1 L1072.8,897.3 L1076.6,897.6 L1080.5,897.8 L1084.4,898.0 L1088.2,898.2 L1092.1,898.4 L1096.0,898.7 L1099.8,898.9 L1103.7,899.1 L1107.6,899.3 L1111.5,899.5 L1115.3,899.8 L1119.2,900.0 L1123.1,900.2 L1126.9,900.4 L1130.8,900.7 L1134.7,900.9 L1138.5,901.1 L1142.4,901.4 L1146.3,901.8 L1150.2,901.8 L1154.0,902.2 L1157.9,902.5 L1161.8,902.6 L1165.6,902.7 L1169.5,904.1 L1173.4,902.6 L1177.2,904.8 L1181.1,902.2 L1185.0,903.4 L1188.8,904.6 L1192.7,902.9 L1196.6,904.5 L1200.5,903.9 L1204.3,904.9 L1208.2,903.6 L1212.1,903.8 L1215.9,907.3 L1219.8,907.1 L1223.7,905.6 L1227.5,906.9 L1231.4,911.8 L1235.3,902.2 L1239.2,912.6 L1243.0,912.8 L1246.9,911.2 L1250.8,907.6 L1254.6,908.3 L1258.5,908.7 L1262.4,908.4 L1266.2,909.5 L1270.1,908.9 L1274.0,912.6 L1277.9,908.1 L1281.7,908.2 L1285.6,922.1 L1289.5,911.0 L1293.3,909.5 L1297.2,906.7 L1301.1,917.7 L1305.0,923.3 L1308.8,921.1 L1312.7,905.8 L1316.6,922.2 L1320.4,922.2 L1324.3,896.6 L1328.2,924.6 L1332.0,927.5 L1335.9,914.9 L1339.8,909.9 L1343.7,893.6 L1347.5,932.2 L1351.4,948.6 L1355.3,917.4 L1359.1,899.2 L1363.0,953.0" fill="none" stroke="#ff0000" stroke-width="3.5" stroke-linejoin="round"/>
<path d="M202.0,844.7 L205.9,844.5 L209.7,843.8 L213.6,842.8 L217.5,841.6 L221.3,840.1 L225.2,836.9 L229.1,832.3 L233.0,829.3 L236.8,829.3 L240.7,829.8 L244.6,831.0 L248.4,833.0 L252.3,836.1 L256.2,840.3 L260.1,846.0 L263.9,847.0 L267.8,847.9 L271.7,848.9 L275.5,849.8 L279.4,850.7 L283.3,851.7 L287.1,852.6 L291.0,853.5 L294.9,854.4 L298.8,855.4 L302.6,856.3 L306.5,857.2 L310.4,858.1 L314.2,859.0 L318.1,859.9 L322.0,860.8 L325.8,861.7 L329.7,862.6 L333.6,863.5 L337.4,864.4 L341.3,865.2 L345.2,866.1 L349.1,867.0 L352.9,867.8 L356.8,868.7 L360.7,869.5 L364.5,870.4 L368.4,871.2 L372.3,872.0 L376.1,872.9 L380.0,873.7 L383.9,874.5 L387.8,875.3 L391.6,876.1 L395.5,876.9 L399.4,877.7 L403.2,878.5 L407.1,879.3 L411.0,880.0 L414.9,880.8 L418.7,881.6 L422.6,882.3 L426.5,883.1 L430.3,883.8 L434.2,884.6 L438.1,885.3 L441.9,886.0 L445.8,886.7 L449.7,887.5 L453.6,888.2 L457.4,888.9 L461.3,889.6 L465.2,890.2 L469.0,890.9 L472.9,891.6 L476.8,892.3 L480.6,892.9 L484.5,893.6 L488.4,894.3 L492.2,894.9 L496.1,895.5 L500.0,896.2 L503.9,896.8 L507.7,897.4 L511.6,898.0 L515.5,898.7 L519.3,899.3 L523.2,899.9 L527.1,900.5 L531.0,901.0 L534.8,901.6 L538.7,902.2 L542.6,902.8 L546.4,903.3 L550.3,903.9 L554.2,904.5 L558.0,905.0 L561.9,905.5 L565.8,906.1 L569.6,906.6 L573.5,907.1 L577.4,907.7 L581.3,908.2 L585.1,908.7 L589.0,909.2 L592.9,909.7 L596.7,910.2 L600.6,910.7 L604.5,911.2 L608.4,911.6 L612.2,912.1 L616.1,912.6 L620.0,913.0 L623.8,913.5 L627.7,913.9 L631.6,914.4 L635.4,914.8 L639.3,915.3 L643.2,915.7 L647.0,916.1 L650.9,916.6 L654.8,917.0 L658.7,917.4 L662.5,917.8 L666.4,918.2 L670.3,918.6 L674.1,919.0 L678.0,919.4 L681.9,919.8 L685.8,920.2 L689.6,920.5 L693.5,920.9 L697.4,921.3 L701.2,921.7 L705.1,922.0 L709.0,922.4 L712.8,922.7 L716.7,923.1 L720.6,923.4 L724.5,923.8 L728.3,924.1 L732.2,924.4 L736.1,924.8 L739.9,925.1 L743.8,925.4 L747.7,925.7 L751.5,926.0 L755.4,926.3 L759.3,926.6 L763.1,926.9 L767.0,927.2 L770.9,927.5 L774.8,927.8 L778.6,928.1 L782.5,928.4 L786.4,928.7 L790.2,929.0 L794.1,929.2 L798.0,929.5 L801.9,929.8 L805.7,930.0 L809.6,930.3 L813.5,930.6 L817.3,930.8 L821.2,931.1 L825.1,931.3 L828.9,931.5 L832.8,931.8 L836.7,932.0 L840.5,932.3 L844.4,932.5 L848.3,932.7 L852.2,932.9 L856.0,933.2 L859.9,933.4 L863.8,933.6 L867.6,933.8 L871.5,934.0 L875.4,934.2 L879.2,934.4 L883.1,934.6 L887.0,934.8 L890.9,935.0 L894.7,935.2 L898.6,935.4 L902.5,935.6 L906.3,935.8 L910.2,936.0 L914.1,936.2 L918.0,936.3 L921.8,936.5 L925.7,936.7 L929.6,936.9 L933.4,937.0 L937.3,937.2 L941.2,937.4 L945.0,937.5 L948.9,937.7 L952.8,937.8 L956.6,938.0 L960.5,938.2 L964.4,938.3 L968.3,938.5 L972.1,938.6 L976.0,938.7 L979.9,938.9 L983.7,939.0 L987.6,939.2 L991.5,939.3 L995.4,939.4 L999.2,939.6 L1003.1,939.7 L1007.0,939.8 L1010.8,939.9 L1014.7,940.1 L1018.6,940.2 L1022.4,940.3 L1026.3,940.4 L1030.2,940.5 L1034.0,940.6 L1037.9,940.8 L1041.8,940.9 L1045.7,941.0 L1049.5,941.1 L1053.4,941.2 L1057.3,941.3 L1061.1,941.4 L1065.0,941.5 L1068.9,941.6 L1072.8,941.7 L1076.6,941.8 L1080.5,941.9 L1084.4,942.0 L1088.2,942.0 L1092.1,942.1 L1096.0,942.2 L1099.8,942.3 L1103.7,942.4 L1107.6,942.5 L1111.5,942.5 L1115.3,942.6 L1119.2,942.7 L1123.1,942.8 L1126.9,942.8 L1130.8,942.9 L1134.7,943.0 L1138.5,943.1 L1142.4,943.1 L1146.3,943.2 L1150.2,943.3 L1154.0,943.3 L1157.9,943.4 L1161.8,943.4 L1165.6,943.5 L1169.5,943.6 L1173.4,943.6 L1177.2,943.7 L1181.1,943.7 L1185.0,943.8 L1188.8,943.8 L1192.7,943.9 L1196.6,943.9 L1200.5,944.0 L1204.3,944.0 L1208.2,944.1 L1212.1,944.1 L1215.9,944.2 L1219.8,944.2 L1223.7,944.2 L1227.5,944.3 L1231.4,944.3 L1235.3,944.4 L1239.2,944.4 L1243.0,944.4 L1246.9,944.5 L1250.8,944.5 L1254.6,944.5 L1258.5,944.6 L1262.4,944.7 L1266.2,944.4 L1270.1,945.2 L1274.0,943.2 L1277.9,943.8 L1281.7,945.2 L1285.6,943.8 L1289.5,941.7 L1293.3,938.5 L1297.2,947.2 L1301.1,941.7 L1305.0,943.1 L1308.8,945.9 L1312.7,940.3 L1316.6,942.5 L1320.4,939.4 L1324.3,947.9 L1328.2,945.0 L1332.0,942.4 L1335.9,944.8 L1339.8,944.8 L1343.7,951.2 L1347.5,943.9 L1351.4,943.3 L1355.3,945.6 L1359.1,945.2 L1363.0,937.4" fill="none" stroke="#ff0000" stroke-width="3.5" stroke-linejoin="round" stroke-dasharray="24 18"/>
<path d="M202.0,766.3 L205.9,768.2 L209.7,769.9 L213.6,771.6 L217.5,773.2 L221.3,774.7 L225.2,776.2 L229.1,777.6 L233.0,779.0 L236.8,780.3 L240.7,781.5 L244.6,782.7 L248.4,783.9 L252.3,785.0 L256.2,786.1 L260.1,787.2 L263.9,788.2 L267.8,789.2 L271.7,790.1 L275.5,791.1 L279.4,792.0 L283.3,792.9 L287.1,793.8 L291.0,794.6 L294.9,795.5 L298.8,796.3 L302.6,797.1 L306.5,797.9 L310.4,798.7 L314.2,799.4 L318.1,800.2 L322.0,800.9 L325.8,801.7 L329.7,802.4 L333.6,803.1 L337.4,803.8 L341.3,804.5 L345.2,805.2 L349.1,805.9 L352.9,806.6 L356.8,807.2 L360.7,807.9 L364.5,808.6 L368.4,809.2 L372.3,809.9 L376.1,810.5 L380.0,811.2 L383.9,811.8 L387.8,812.4 L391.6,813.1 L395.5,813.7 L399.4,814.3 L403.2,814.9 L407.1,815.6 L411.0,816.2 L414.9,816.8 L418.7,817.4 L422.6,818.0 L426.5,818.6 L430.3,819.2 L434.2,819.8 L438.1,820.4 L441.9,821.0 L445.8,821.6 L449.7,822.1 L453.6,822.7 L457.4,823.3 L461.3,823.9 L465.2,824.4 L469.0,825.0 L472.9,825.6 L476.8,826.1 L480.6,826.7 L484.5,827.2 L488.4,827.8 L492.2,828.3 L496.1,828.9 L500.0,829.4 L503.9,830.0 L507.7,830.5 L511.6,831.1 L515.5,831.6 L519.3,832.1 L523.2,832.6 L527.1,833.2 L531.0,833.7 L534.8,834.2 L538.7,834.7 L542.6,835.2 L546.4,835.7 L550.3,836.2 L554.2,836.7 L558.0,837.2 L561.9,837.7 L565.8,838.2 L569.6,838.7 L573.5,839.2 L577.4,839.7 L581.3,840.1 L585.1,840.6 L589.0,841.1 L592.9,841.5 L596.7,842.0 L600.6,842.5 L604.5,842.9 L608.4,843.4 L612.2,843.8 L616.1,844.3 L620.0,844.7 L623.8,845.1 L627.7,845.6 L631.6,846.0 L635.4,846.4 L639.3,846.9 L643.2,847.3 L647.0,847.7 L650.9,848.1 L654.8,848.5 L658.7,848.9 L662.5,849.3 L666.4,849.7 L670.3,850.1 L674.1,850.5 L678.0,850.9 L681.9,851.3 L685.8,851.7 L689.6,852.0 L693.5,852.4 L697.4,852.8 L701.2,853.1 L705.1,853.5 L709.0,853.9 L712.8,854.2 L716.7,854.6 L720.6,854.9 L724.5,855.2 L728.3,855.6 L732.2,855.9 L736.1,856.3 L739.9,856.6 L743.8,856.9 L747.7,857.2 L751.5,857.6 L755.4,857.9 L759.3,858.2 L763.1,858.5 L767.0,858.8 L770.9,859.1 L774.8,859.4 L778.6,859.7 L782.5,860.0 L786.4,860.3 L790.2,860.5 L794.1,860.8 L798.0,861.1 L801.9,861.4 L805.7,861.6 L809.6,861.9 L813.5,862.2 L817.3,862.4 L821.2,862.7 L825.1,863.0 L828.9,863.2 L832.8,863.5 L836.7,863.7 L840.5,863.9 L844.4,864.2 L848.3,864.4 L852.2,864.6 L856.0,864.9 L859.9,865.1 L863.8,865.3 L867.6,865.5 L871.5,865.8 L875.4,866.0 L879.2,866.2 L883.1,866.4 L887.0,866.6 L890.9,866.8 L894.7,867.0 L898.6,867.2 L902.5,867.4 L906.3,867.6 L910.2,867.7 L914.1,867.9 L918.0,868.1 L921.8,868.3 L925.7,868.5 L929.6,868.6 L933.4,868.8 L937.3,869.0 L941.2,869.1 L945.0,869.3 L948.9,869.5 L952.8,869.6 L956.6,869.8 L960.5,869.9 L964.4,870.1 L968.3,870.2 L972.1,870.3 L976.0,870.5 L979.9,870.6 L983.7,870.8 L987.6,870.9 L991.5,871.0 L995.4,871.1 L999.2,871.3 L1003.1,871.4 L1007.0,871.5 L1010.8,871.6 L1014.7,871.7 L1018.6,871.9 L1022.4,872.0 L1026.3,872.1 L1030.2,872.2 L1034.0,872.3 L1037.9,872.4 L1041.8,872.5 L1045.7,872.6 L1049.5,872.7 L1053.4,872.8 L1057.3,872.9 L1061.1,872.9 L1065.0,873.0 L1068.9,873.1 L1072.8,873.2 L1076.6,873.3 L1080.5,873.3 L1084.4,873.4 L1088.2,873.5 L1092.1,873.6 L1096.0,873.6 L1099.8,873.7 L1103.7,873.8 L1107.6,873.8 L1111.5,873.9 L1115.3,873.9 L1119.2,874.0 L1123.1,874.1 L1126.9,874.1 L1130.8,874.2 L1134.7,874.2 L1138.5,874.3 L1142.4,874.3 L1146.3,874.3 L1150.2,874.4 L1154.0,874.4 L1157.9,874.5 L1161.8,874.5 L1165.6,874.5 L1169.5,874.6 L1173.4,874.6 L1177.2,874.6 L1181.1,874.6 L1185.0,874.7 L1188.8,874.7 L1192.7,874.7 L1196.6,874.7 L1200.5,874.8 L1204.3,874.8 L1208.2,874.8 L1212.1,874.8 L1215.9,874.8 L1219.8,874.8 L1223.7,874.8 L1227.5,874.8 L1231.4,874.8 L1235.3,874.9 L1239.2,874.9 L1243.0,874.9 L1246.9,874.9 L1250.8,874.9 L1254.6,874.9 L1258.5,874.8 L1262.4,874.8 L1266.2,874.8 L1270.1,874.8 L1274.0,874.8 L1277.9,874.9 L1281.7,872.5 L1285.6,870.3 L1289.5,869.4 L1293.3,869.4 L1297.2,869.4 L1301.1,869.4 L1305.0,869.4 L1308.8,869.5 L1312.7,869.5 L1316.6,869.6 L1320.4,869.7 L1324.3,869.9 L1328.2,870.1 L1332.0,870.3 L1335.9,870.6 L1339.8,870.9 L1343.7,871.3 L1347.5,871.8 L1351.4,872.3 L1355.3,872.8 L1359.1,873.5 L1363.0,874.2" fill="none" stroke="#ff0000" stroke-width="3.5" stroke-linejoin="round" stroke-dasharray="7 19"/>
<path d="M202.0,672.2 L205.9,677.7 L209.7,683.0 L213.6,688.0 L217.5,692.8 L221.3,697.4 L225.2,701.8 L229.1,706.0 L233.0,710.0 L236.8,713.9 L240.7,717.6 L244.6,721.2 L248.4,724.6 L252.3,727.9 L256.2,731.1 L260.1,734.1 L263.9,737.1 L267.8,739.9 L271.7,742.7 L275.5,745.3 L279.4,747.9 L283.3,750.4 L287.1,752.8 L291.0,755.1 L294.9,757.4 L298.8,759.5 L302.6,761.6 L306.5,763.7 L310.4,765.7 L314.2,767.6 L318.1,769.5 L322.0,771.4 L325.8,773.2 L329.7,774.9 L333.6,776.6 L337.4,778.3 L341.3,779.9 L345.2,781.5 L349.1,783.0 L352.9,784.5 L356.8,786.0 L360.7,787.5 L364.5,788.9 L368.4,790.3 L372.3,791.6 L376.1,793.0 L380.0,794.3 L383.9,795.6 L387.8,796.9 L391.6,798.1 L395.5,799.3 L399.4,800.5 L403.2,801.7 L407.1,802.9 L411.0,804.0 L414.9,805.2 L418.7,806.3 L422.6,807.4 L426.5,808.5 L430.3,809.6 L434.2,810.6 L438.1,811.7 L441.9,812.7 L445.8,813.7 L449.7,814.7 L453.6,815.7 L457.4,816.7 L461.3,817.6 L465.2,818.6 L469.0,819.5 L472.9,820.5 L476.8,821.4 L480.6,822.3 L484.5,823.2 L488.4,824.1 L492.2,825.0 L496.1,825.9 L500.0,826.7 L503.9,827.6 L507.7,828.5 L511.6,829.3 L515.5,830.1 L519.3,831.0 L523.2,831.8 L527.1,832.6 L531.0,833.4 L534.8,834.2 L538.7,835.0 L542.6,835.8 L546.4,836.5 L550.3,837.3 L554.2,838.1 L558.0,838.8 L561.9,839.6 L565.8,840.3 L569.6,841.0 L573.5,841.8 L577.4,842.5 L581.3,843.2 L585.1,843.9 L589.0,844.6 L592.9,845.3 L596.7,846.0 L600.6,846.7 L604.5,847.4 L608.4,848.0 L612.2,848.7 L616.1,849.3 L620.0,850.0 L623.8,850.7 L627.7,851.3 L631.6,851.9 L635.4,852.6 L639.3,853.2 L643.2,853.8 L647.0,854.4 L650.9,855.0 L654.8,855.6 L658.7,856.2 L662.5,856.8 L666.4,857.4 L670.3,858.0 L674.1,858.6 L678.0,859.2 L681.9,859.7 L685.8,860.3 L689.6,860.9 L693.5,861.4 L697.4,862.0 L701.2,862.5 L705.1,863.0 L709.0,863.6 L712.8,864.1 L716.7,864.6 L720.6,865.1 L724.5,865.7 L728.3,866.2 L732.2,866.7 L736.1,867.2 L739.9,867.7 L743.8,868.2 L747.7,868.7 L751.5,869.1 L755.4,869.6 L759.3,870.1 L763.1,870.6 L767.0,871.0 L770.9,871.5 L774.8,871.9 L778.6,872.4 L782.5,872.8 L786.4,873.3 L790.2,873.7 L794.1,874.2 L798.0,874.6 L801.9,875.0 L805.7,875.4 L809.6,875.9 L813.5,876.3 L817.3,876.7 L821.2,877.1 L825.1,877.5 L828.9,877.9 L832.8,878.3 L836.7,878.7 L840.5,879.0 L844.4,879.4 L848.3,879.8 L852.2,880.2 L856.0,880.5 L859.9,880.9 L863.8,881.3 L867.6,881.6 L871.5,882.0 L875.4,882.3 L879.2,882.7 L883.1,883.0 L887.0,883.4 L890.9,883.7 L894.7,884.0 L898.6,884.4 L902.5,884.7 L906.3,885.0 L910.2,885.3 L914.1,885.6 L918.0,886.0 L921.8,886.3 L925.7,886.6 L929.6,886.9 L933.4,887.2 L937.3,887.5 L941.2,887.7 L945.0,888.0 L948.9,888.3 L952.8,888.6 L956.6,888.9 L960.5,889.1 L964.4,889.4 L968.3,889.7 L972.1,889.9 L976.0,890.2 L979.9,890.5 L983.7,890.7 L987.6,891.0 L991.5,891.2 L995.4,891.5 L999.2,891.7 L1003.1,892.0 L1007.0,892.2 L1010.8,892.4 L1014.7,892.7 L1018.6,892.9 L1022.4,893.1 L1026.3,893.3 L1030.2,893.5 L1034.0,893.8 L1037.9,894.0 L1041.8,894.2 L1045.7,894.4 L1049.5,894.6 L1053.4,894.8 L1057.3,895.0 L1061.1,895.2 L1065.0,895.4 L1068.9,895.6 L1072.8,895.8 L1076.6,896.0 L1080.5,896.1 L1084.4,896.3 L1088.2,896.5 L1092.1,896.7 L1096.0,896.8 L1099.8,897.0 L1103.7,897.2 L1107.6,897.3 L1111.5,897.5 L1115.3,897.7 L1119.2,897.8 L1123.1,898.0 L1126.9,898.1 L1130.8,898.3 L1134.7,898.4 L1138.5,898.6 L1142.4,898.7 L1146.3,898.9 L1150.2,899.0 L1154.0,899.1 L1157.9,899.3 L1161.8,899.4 L1165.6,899.5 L1169.5,899.7 L1173.4,899.8 L1177.2,899.9 L1181.1,900.0 L1185.0,900.2 L1188.8,900.3 L1192.7,900.4 L1196.6,900.5 L1200.5,900.6 L1204.3,900.7 L1208.2,900.8 L1212.1,900.9 L1215.9,901.0 L1219.8,901.1 L1223.7,901.2 L1227.5,901.3 L1231.4,901.4 L1235.3,901.5 L1239.2,901.6 L1243.0,901.7 L1246.9,901.8 L1250.8,901.9 L1254.6,902.0 L1258.5,902.0 L1262.4,902.0 L1266.2,902.1 L1270.1,902.5 L1274.0,901.9 L1277.9,903.6 L1281.7,901.9 L1285.6,903.3 L1289.5,901.6 L1293.3,901.9 L1297.2,904.4 L1301.1,901.5 L1305.0,901.9 L1308.8,905.0 L1312.7,896.0 L1316.6,900.0 L1320.4,908.1 L1324.3,907.7 L1328.2,901.6 L1332.0,901.6 L1335.9,907.6 L1339.8,895.7 L1343.7,902.7 L1347.5,909.7 L1351.4,906.4 L1355.3,905.0 L1359.1,917.0 L1363.0,911.2" fill="none" stroke="#ff0000" stroke-width="4.1" stroke-linejoin="round" stroke-dasharray="26 9 7 9"/>
<path d="M176,48.0 H1363.0 M176,964.0 H1363.0 M202.0,44.25 V990.0 M176,964.4 H202.0 M176,781.6 H202.0 M176,598.9 H202.0 M176,416.1 H202.0 M176,233.4 H202.0 M176,48.0 H202.0 M190,873.0 H202.0 M190,690.3 H202.0 M190,507.5 H202.0 M190,324.8 H202.0 M190,142.0 H202.0 M202.0,964.0 V990.0 M395.5,964.0 V990.0 M589.0,964.0 V990.0 M782.5,964.0 V990.0 M976.0,964.0 V990.0 M1169.5,964.0 V990.0 M1363.0,964.0 V990.0 M298.8,964.0 V977.0 M492.2,964.0 V977.0 M685.8,964.0 V977.0 M879.2,964.0 V977.0 M1072.8,964.0 V977.0 M1266.2,964.0 V977.0" fill="none" stroke="#000" stroke-width="7.5"/>
<path d="M1363.0,44.25 V967.75 M1363.0,964.4 H1389 M1363.0,781.6 H1389 M1363.0,598.9 H1389 M1363.0,416.1 H1389 M1363.0,233.4 H1389 M1363.0,48.0 H1389 M1363.0,873.0 H1376 M1363.0,690.3 H1376 M1363.0,507.5 H1376 M1363.0,324.8 H1376 M1363.0,142.0 H1376" fill="none" stroke="#ff0000" stroke-width="7.5"/>
<g font-family="Liberation Sans, Arial, sans-serif" font-size="61" fill="#000"><text transform="translate(159,983.9) scale(1,1.04)" text-anchor="end">0</text><text transform="translate(159,801.1) scale(1,1.04)" text-anchor="end">1</text><g transform="translate(159,801.1)"><rect x="-30.89" y="-5.49" width="12.08" height="6.99" fill="#fff"/><rect x="-13.08" y="-5.49" width="12.20" height="6.99" fill="#fff"/></g><text transform="translate(159,618.4) scale(1,1.04)" text-anchor="end">2</text><text transform="translate(159,435.6) scale(1,1.04)" text-anchor="end">3</text><text transform="translate(159,252.9) scale(1,1.04)" text-anchor="end">4</text><text transform="translate(159,67.5) scale(1,1.04)" text-anchor="end">5</text><text transform="translate(202.0,1056) scale(1,1.04)" text-anchor="middle">300</text><text transform="translate(395.5,1056) scale(1,1.04)" text-anchor="middle">400</text><text transform="translate(589.0,1056) scale(1,1.04)" text-anchor="middle">500</text><text transform="translate(782.5,1056) scale(1,1.04)" text-anchor="middle">600</text><text transform="translate(976.0,1056) scale(1,1.04)" text-anchor="middle">700</text><text transform="translate(1169.5,1056) scale(1,1.04)" text-anchor="middle">800</text><text transform="translate(1363.0,1056) scale(1,1.04)" text-anchor="middle">900</text></g>
<g font-family="Liberation Sans, Arial, sans-serif" font-size="61" fill="#ff0000"><text transform="translate(1405.5,983.9) scale(1,1.04)">0</text><text transform="translate(1405.5,801.1) scale(1,1.04)">0.2</text><text transform="translate(1405.5,618.4) scale(1,1.04)">0.4</text><text transform="translate(1405.5,435.6) scale(1,1.04)">0.6</text><text transform="translate(1405.5,252.9) scale(1,1.04)">0.8</text><text transform="translate(1405.5,67.5) scale(1,1.04)">1</text><rect x="1408.55" y="62.01" width="12.08" height="6.99" fill="#fff"/><rect x="1426.36" y="62.01" width="12.20" height="6.99" fill="#fff"/></g>
<text font-family="Liberation Sans, Arial, sans-serif" font-size="76.7" x="782.5" y="1123.5" text-anchor="middle">Wavelength (nm)</text>
<g transform="translate(95,992) rotate(-90)" font-family="Liberation Sans, Arial, sans-serif" fill="#000"><text font-size="77.1" x="0" y="0">Absorption coefficient (cm</text><text font-size="52" x="885.56" y="-34">−1</text><text font-size="77.1" x="946.36" y="0">)</text><rect x="918.53" y="-38.68" width="10.30" height="6.18" fill="#fff"/><rect x="933.72" y="-38.68" width="10.40" height="6.18" fill="#fff"/></g>
<g transform="translate(1586,978) rotate(-90)" font-family="Liberation Sans, Arial, sans-serif" fill="#ff0000"><text font-size="76.7" x="0" y="0">Scattering coefficient (cm</text><text font-size="52" x="859.56" y="-34">−1</text><text font-size="76.7" x="920.36" y="0">)</text><rect x="892.53" y="-38.68" width="10.30" height="6.18" fill="#fff"/><rect x="907.72" y="-38.68" width="10.40" height="6.18" fill="#fff"/></g>
<text font-family="Liberation Sans, Arial, sans-serif" font-size="76.7" x="214.5" y="125.5">(d)</text>
<text font-family="Liberation Sans, Arial, sans-serif" font-size="76.7" x="656" y="126.5" text-anchor="middle">Plasma-liquid</text>
<text font-family="Liberation Sans, Arial, sans-serif" font-size="76.7" x="664.3" y="219.0" text-anchor="middle">EDA</text>
<path d="M965.5,92 H1107.5" stroke="#000" stroke-width="3.2" fill="none"/>
<text font-family="Liberation Sans, Arial, sans-serif" font-size="61" transform="translate(1122,113.2) scale(1,1.06)">Day 0</text>
<path d="M965.5,168 H1107.5" stroke="#000" stroke-width="3.2" fill="none" stroke-dasharray="25 19"/>
<text font-family="Liberation Sans, Arial, sans-serif" font-size="61" transform="translate(1122,189.2) scale(1,1.06)">Day 60</text>
<path d="M965.5,244 H1107.5" stroke="#000" stroke-width="3.2" fill="none" stroke-dasharray="8 19"/>
<text font-family="Liberation Sans, Arial, sans-serif" font-size="61" transform="translate(1122,265.2) scale(1,1.06)">Day 120</text>
<g transform="translate(0,265.2) scale(1,1.06)"><rect x="1250.50" y="-5.49" width="12.08" height="6.99" fill="#fff"/><rect x="1268.31" y="-5.49" width="12.20" height="6.99" fill="#fff"/></g>
<path d="M965.5,319.5 H1107.5" stroke="#000" stroke-width="4.8" fill="none" stroke-dasharray="27 10.5 8 8.8"/>
<text font-family="Liberation Sans, Arial, sans-serif" font-size="61" transform="translate(1122,340.7) scale(1,1.06)">Day 809</text>
</g>
</svg></body></html>
